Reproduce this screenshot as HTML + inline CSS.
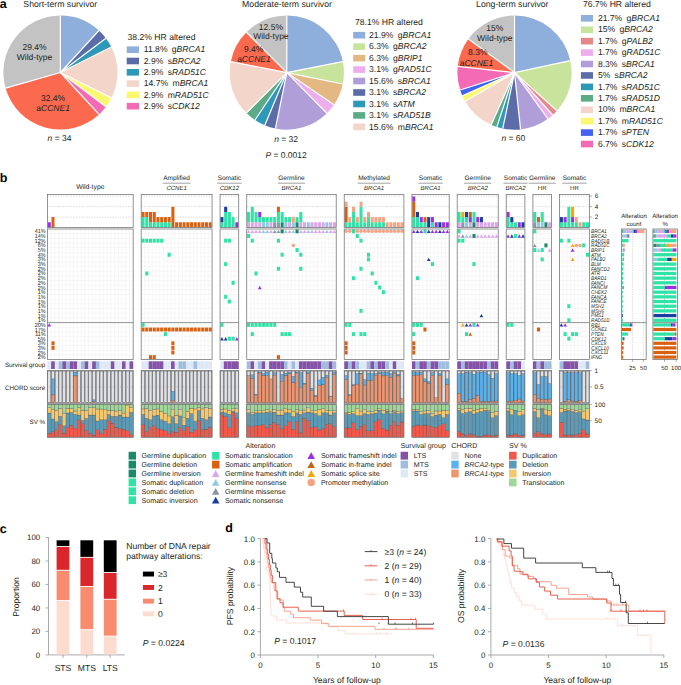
<!DOCTYPE html>
<html><head><meta charset="utf-8"><style>
html,body{margin:0;padding:0;background:#fff;}
svg{display:block;}
text{font-family:"Liberation Sans", sans-serif;text-rendering:geometricPrecision;}
</style></head><body>
<svg width="681" height="685" viewBox="0 0 681 685">
<rect width="681" height="685" fill="#fff"/>
<text x="-0.30" y="8.00" font-size="12.5" text-anchor="start" fill="#000" font-weight="bold" >a</text>
<path d="M60.40,72.50 L60.40,15.50 A57.0,57.0 0 0 1 98.93,30.49 Z" fill="#8eafdc"/>
<path d="M60.40,72.50 L98.93,30.49 A57.0,57.0 0 0 1 105.91,38.18 Z" fill="#5c6ca8"/>
<path d="M60.40,72.50 L105.91,38.18 A57.0,57.0 0 0 1 111.38,47.00 Z" fill="#2e98b8"/>
<path d="M60.40,72.50 L111.38,47.00 A57.0,57.0 0 0 1 111.46,97.84 Z" fill="#f4d5ca"/>
<path d="M60.40,72.50 L111.46,97.84 A57.0,57.0 0 0 1 106.01,106.68 Z" fill="#fbf870"/>
<path d="M60.40,72.50 L106.01,106.68 A57.0,57.0 0 0 1 99.06,114.39 Z" fill="#f56ab4"/>
<path d="M60.40,72.50 L99.06,114.39 A57.0,57.0 0 0 1 5.59,88.16 Z" fill="#fb6a4e"/>
<path d="M60.40,72.50 L5.59,88.16 A57.0,57.0 0 0 1 60.40,15.50 Z" fill="#c3c3c3"/>
<line x1="60.40" y1="72.50" x2="60.40" y2="15.50" stroke="#fff" stroke-width="1.2"/>
<line x1="60.40" y1="72.50" x2="98.93" y2="30.49" stroke="#fff" stroke-width="1.2"/>
<line x1="60.40" y1="72.50" x2="105.91" y2="38.18" stroke="#fff" stroke-width="1.2"/>
<line x1="60.40" y1="72.50" x2="111.38" y2="47.00" stroke="#fff" stroke-width="1.2"/>
<line x1="60.40" y1="72.50" x2="111.46" y2="97.84" stroke="#fff" stroke-width="1.2"/>
<line x1="60.40" y1="72.50" x2="106.01" y2="106.68" stroke="#fff" stroke-width="1.2"/>
<line x1="60.40" y1="72.50" x2="99.06" y2="114.39" stroke="#fff" stroke-width="1.2"/>
<line x1="60.40" y1="72.50" x2="5.59" y2="88.16" stroke="#fff" stroke-width="1.2"/>
<text x="60.30" y="7.00" font-size="8.7" text-anchor="middle" fill="#231f20" >Short-term survivor</text>
<text x="34.50" y="50.40" font-size="8.5" text-anchor="middle" fill="#231f20" >29.4%</text>
<text x="34.50" y="60.20" font-size="8.5" text-anchor="middle" fill="#231f20" >Wild-type</text>
<text x="53.10" y="100.70" font-size="8.5" text-anchor="middle" fill="#231f20" >32.4%</text>
<text x="53.10" y="110.60" font-size="8.5" text-anchor="middle" fill="#231f20" >a<tspan font-style="italic">CCNE1</tspan></text>
<text x="59.50" y="141.20" font-size="8.5" text-anchor="middle" fill="#231f20" ><tspan font-style="italic">n</tspan> = 34</text>
<text x="127.60" y="40.00" font-size="8.6" text-anchor="start" fill="#231f20" >38.2% HR altered</text>
<rect x="126.7" y="46.40" width="12.3" height="6.6" fill="#8eafdc"/>
<text x="143.80" y="52.30" font-size="8.6" text-anchor="start" fill="#231f20" >11.8% g<tspan font-style="italic">BRCA1</tspan></text>
<rect x="126.7" y="57.70" width="12.3" height="6.6" fill="#5c6ca8"/>
<text x="143.80" y="63.60" font-size="8.6" text-anchor="start" fill="#231f20" >2.9% s<tspan font-style="italic">BRCA2</tspan></text>
<rect x="126.7" y="69.00" width="12.3" height="6.6" fill="#2e98b8"/>
<text x="143.80" y="74.90" font-size="8.6" text-anchor="start" fill="#231f20" >2.9% s<tspan font-style="italic">RAD51C</tspan></text>
<rect x="126.7" y="80.30" width="12.3" height="6.6" fill="#f4d5ca"/>
<text x="143.80" y="86.20" font-size="8.6" text-anchor="start" fill="#231f20" >14.7% m<tspan font-style="italic">BRCA1</tspan></text>
<rect x="126.7" y="91.60" width="12.3" height="6.6" fill="#fbf870"/>
<text x="143.80" y="97.50" font-size="8.6" text-anchor="start" fill="#231f20" >2.9% m<tspan font-style="italic">RAD51C</tspan></text>
<rect x="126.7" y="102.90" width="12.3" height="6.6" fill="#f56ab4"/>
<text x="143.80" y="108.80" font-size="8.6" text-anchor="start" fill="#231f20" >2.9% s<tspan font-style="italic">CDK12</tspan></text>
<path d="M286.80,72.60 L286.80,15.50 A57.1,57.1 0 0 1 342.82,61.55 Z" fill="#8eafdc"/>
<path d="M286.80,72.60 L342.82,61.55 A57.1,57.1 0 0 1 342.75,84.00 Z" fill="#c8e39b"/>
<path d="M286.80,72.60 L342.75,84.00 A57.1,57.1 0 0 1 334.03,104.69 Z" fill="#e3b882"/>
<path d="M286.80,72.60 L334.03,104.69 A57.1,57.1 0 0 1 326.92,113.23 Z" fill="#eeaeee"/>
<path d="M286.80,72.60 L326.92,113.23 A57.1,57.1 0 0 1 275.40,128.55 Z" fill="#b09ed9"/>
<path d="M286.80,72.60 L275.40,128.55 A57.1,57.1 0 0 1 264.78,125.28 Z" fill="#5c6ca8"/>
<path d="M286.80,72.60 L264.78,125.28 A57.1,57.1 0 0 1 255.00,120.03 Z" fill="#2e98b8"/>
<path d="M286.80,72.60 L255.00,120.03 A57.1,57.1 0 0 1 246.42,112.98 Z" fill="#5aab86"/>
<path d="M286.80,72.60 L246.42,112.98 A57.1,57.1 0 0 1 230.78,61.55 Z" fill="#f4d5ca"/>
<path d="M286.80,72.60 L230.78,61.55 A57.1,57.1 0 0 1 246.42,32.22 Z" fill="#fb6a4e"/>
<path d="M286.80,72.60 L246.42,32.22 A57.1,57.1 0 0 1 286.80,15.50 Z" fill="#c3c3c3"/>
<line x1="286.80" y1="72.60" x2="286.80" y2="15.50" stroke="#fff" stroke-width="1.2"/>
<line x1="286.80" y1="72.60" x2="342.82" y2="61.55" stroke="#fff" stroke-width="1.2"/>
<line x1="286.80" y1="72.60" x2="342.75" y2="84.00" stroke="#fff" stroke-width="1.2"/>
<line x1="286.80" y1="72.60" x2="334.03" y2="104.69" stroke="#fff" stroke-width="1.2"/>
<line x1="286.80" y1="72.60" x2="326.92" y2="113.23" stroke="#fff" stroke-width="1.2"/>
<line x1="286.80" y1="72.60" x2="275.40" y2="128.55" stroke="#fff" stroke-width="1.2"/>
<line x1="286.80" y1="72.60" x2="264.78" y2="125.28" stroke="#fff" stroke-width="1.2"/>
<line x1="286.80" y1="72.60" x2="255.00" y2="120.03" stroke="#fff" stroke-width="1.2"/>
<line x1="286.80" y1="72.60" x2="246.42" y2="112.98" stroke="#fff" stroke-width="1.2"/>
<line x1="286.80" y1="72.60" x2="230.78" y2="61.55" stroke="#fff" stroke-width="1.2"/>
<line x1="286.80" y1="72.60" x2="246.42" y2="32.22" stroke="#fff" stroke-width="1.2"/>
<text x="287.00" y="6.60" font-size="8.7" text-anchor="middle" fill="#231f20" >Moderate-term survivor</text>
<text x="270.90" y="29.60" font-size="8.5" text-anchor="middle" fill="#231f20" >12.5%</text>
<text x="270.90" y="39.40" font-size="8.5" text-anchor="middle" fill="#231f20" >Wild-type</text>
<text x="253.60" y="52.10" font-size="8.5" text-anchor="middle" fill="#231f20" >9.4%</text>
<text x="253.90" y="62.40" font-size="8.5" text-anchor="middle" fill="#231f20" >a<tspan font-style="italic">CCNE1</tspan></text>
<text x="286.10" y="141.70" font-size="8.5" text-anchor="middle" fill="#231f20" ><tspan font-style="italic">n</tspan> = 32</text>
<text x="286.10" y="157.60" font-size="8.5" text-anchor="middle" fill="#231f20" ><tspan font-style="italic">P</tspan> = 0.0012</text>
<text x="355.00" y="25.40" font-size="8.6" text-anchor="start" fill="#231f20" >78.1% HR altered</text>
<rect x="353.2" y="31.90" width="12.0" height="6.6" fill="#8eafdc"/>
<text x="369.10" y="37.90" font-size="8.6" text-anchor="start" fill="#231f20" >21.9% g<tspan font-style="italic">BRCA1</tspan></text>
<rect x="353.2" y="43.36" width="12.0" height="6.6" fill="#c8e39b"/>
<text x="369.10" y="49.36" font-size="8.6" text-anchor="start" fill="#231f20" >6.3% g<tspan font-style="italic">BRCA2</tspan></text>
<rect x="353.2" y="54.82" width="12.0" height="6.6" fill="#e3b882"/>
<text x="369.10" y="60.82" font-size="8.6" text-anchor="start" fill="#231f20" >6.3% g<tspan font-style="italic">BRIP1</tspan></text>
<rect x="353.2" y="66.28" width="12.0" height="6.6" fill="#eeaeee"/>
<text x="369.10" y="72.28" font-size="8.6" text-anchor="start" fill="#231f20" >3.1% g<tspan font-style="italic">RAD51C</tspan></text>
<rect x="353.2" y="77.74" width="12.0" height="6.6" fill="#b09ed9"/>
<text x="369.10" y="83.74" font-size="8.6" text-anchor="start" fill="#231f20" >15.6% s<tspan font-style="italic">BRCA1</tspan></text>
<rect x="353.2" y="89.20" width="12.0" height="6.6" fill="#5c6ca8"/>
<text x="369.10" y="95.20" font-size="8.6" text-anchor="start" fill="#231f20" >3.1% s<tspan font-style="italic">BRCA2</tspan></text>
<rect x="353.2" y="100.66" width="12.0" height="6.6" fill="#2e98b8"/>
<text x="369.10" y="106.66" font-size="8.6" text-anchor="start" fill="#231f20" >3.1% s<tspan font-style="italic">ATM</tspan></text>
<rect x="353.2" y="112.12" width="12.0" height="6.6" fill="#5aab86"/>
<text x="369.10" y="118.12" font-size="8.6" text-anchor="start" fill="#231f20" >3.1% s<tspan font-style="italic">RAD51B</tspan></text>
<rect x="353.2" y="123.58" width="12.0" height="6.6" fill="#f4d5ca"/>
<text x="369.10" y="129.58" font-size="8.6" text-anchor="start" fill="#231f20" >15.6% m<tspan font-style="italic">BRCA1</tspan></text>
<path d="M514.50,72.60 L514.50,15.50 A57.1,57.1 0 0 1 570.34,60.69 Z" fill="#8eafdc"/>
<path d="M514.50,72.60 L570.34,60.69 A57.1,57.1 0 0 1 557.03,110.70 Z" fill="#c8e39b"/>
<path d="M514.50,72.60 L557.03,110.70 A57.1,57.1 0 0 1 552.73,115.01 Z" fill="#e6888a"/>
<path d="M514.50,72.60 L552.73,115.01 A57.1,57.1 0 0 1 548.00,118.84 Z" fill="#eeaeee"/>
<path d="M514.50,72.60 L548.00,118.84 A57.1,57.1 0 0 1 520.58,129.38 Z" fill="#b09ed9"/>
<path d="M514.50,72.60 L520.58,129.38 A57.1,57.1 0 0 1 502.77,128.48 Z" fill="#5c6ca8"/>
<path d="M514.50,72.60 L502.77,128.48 A57.1,57.1 0 0 1 496.89,126.92 Z" fill="#2e98b8"/>
<path d="M514.50,72.60 L496.89,126.92 A57.1,57.1 0 0 1 491.21,124.73 Z" fill="#5aab86"/>
<path d="M514.50,72.60 L491.21,124.73 A57.1,57.1 0 0 1 465.05,101.15 Z" fill="#f4d5ca"/>
<path d="M514.50,72.60 L465.05,101.15 A57.1,57.1 0 0 1 462.29,95.73 Z" fill="#fbf870"/>
<path d="M514.50,72.60 L462.29,95.73 A57.1,57.1 0 0 1 460.13,90.04 Z" fill="#4463f0"/>
<path d="M514.50,72.60 L460.13,90.04 A57.1,57.1 0 0 1 457.74,66.35 Z" fill="#f56ab4"/>
<path d="M514.50,72.60 L457.74,66.35 A57.1,57.1 0 0 1 468.37,38.95 Z" fill="#fb6a4e"/>
<path d="M514.50,72.60 L468.37,38.95 A57.1,57.1 0 0 1 514.50,15.50 Z" fill="#c3c3c3"/>
<line x1="514.50" y1="72.60" x2="514.50" y2="15.50" stroke="#fff" stroke-width="1.2"/>
<line x1="514.50" y1="72.60" x2="570.34" y2="60.69" stroke="#fff" stroke-width="1.2"/>
<line x1="514.50" y1="72.60" x2="557.03" y2="110.70" stroke="#fff" stroke-width="1.2"/>
<line x1="514.50" y1="72.60" x2="552.73" y2="115.01" stroke="#fff" stroke-width="1.2"/>
<line x1="514.50" y1="72.60" x2="548.00" y2="118.84" stroke="#fff" stroke-width="1.2"/>
<line x1="514.50" y1="72.60" x2="520.58" y2="129.38" stroke="#fff" stroke-width="1.2"/>
<line x1="514.50" y1="72.60" x2="502.77" y2="128.48" stroke="#fff" stroke-width="1.2"/>
<line x1="514.50" y1="72.60" x2="496.89" y2="126.92" stroke="#fff" stroke-width="1.2"/>
<line x1="514.50" y1="72.60" x2="491.21" y2="124.73" stroke="#fff" stroke-width="1.2"/>
<line x1="514.50" y1="72.60" x2="465.05" y2="101.15" stroke="#fff" stroke-width="1.2"/>
<line x1="514.50" y1="72.60" x2="462.29" y2="95.73" stroke="#fff" stroke-width="1.2"/>
<line x1="514.50" y1="72.60" x2="460.13" y2="90.04" stroke="#fff" stroke-width="1.2"/>
<line x1="514.50" y1="72.60" x2="457.74" y2="66.35" stroke="#fff" stroke-width="1.2"/>
<line x1="514.50" y1="72.60" x2="468.37" y2="38.95" stroke="#fff" stroke-width="1.2"/>
<text x="512.30" y="6.60" font-size="8.7" text-anchor="middle" fill="#231f20" >Long-term survivor</text>
<text x="494.70" y="30.70" font-size="8.5" text-anchor="middle" fill="#231f20" >15%</text>
<text x="494.80" y="41.20" font-size="8.5" text-anchor="middle" fill="#231f20" >Wild-type</text>
<text x="477.80" y="54.80" font-size="8.5" text-anchor="middle" fill="#231f20" >8.3%</text>
<text x="476.50" y="65.70" font-size="8.5" text-anchor="middle" fill="#231f20" >a<tspan font-style="italic">CCNE1</tspan></text>
<text x="513.40" y="141.30" font-size="8.5" text-anchor="middle" fill="#231f20" ><tspan font-style="italic">n</tspan> = 60</text>
<text x="582.90" y="7.20" font-size="8.6" text-anchor="start" fill="#231f20" >76.7% HR altered</text>
<rect x="580.9" y="15.00" width="12.1" height="6.6" fill="#8eafdc"/>
<text x="597.90" y="21.00" font-size="8.6" text-anchor="start" fill="#231f20" >21.7% g<tspan font-style="italic">BRCA1</tspan></text>
<rect x="580.9" y="26.43" width="12.1" height="6.6" fill="#c8e39b"/>
<text x="597.90" y="32.43" font-size="8.6" text-anchor="start" fill="#231f20" >15% g<tspan font-style="italic">BRCA2</tspan></text>
<rect x="580.9" y="37.86" width="12.1" height="6.6" fill="#e6888a"/>
<text x="597.90" y="43.86" font-size="8.6" text-anchor="start" fill="#231f20" >1.7% g<tspan font-style="italic">PALB2</tspan></text>
<rect x="580.9" y="49.29" width="12.1" height="6.6" fill="#eeaeee"/>
<text x="597.90" y="55.29" font-size="8.6" text-anchor="start" fill="#231f20" >1.7% g<tspan font-style="italic">RAD51C</tspan></text>
<rect x="580.9" y="60.72" width="12.1" height="6.6" fill="#b09ed9"/>
<text x="597.90" y="66.72" font-size="8.6" text-anchor="start" fill="#231f20" >8.3% s<tspan font-style="italic">BRCA1</tspan></text>
<rect x="580.9" y="72.15" width="12.1" height="6.6" fill="#5c6ca8"/>
<text x="597.90" y="78.15" font-size="8.6" text-anchor="start" fill="#231f20" >5% s<tspan font-style="italic">BRCA2</tspan></text>
<rect x="580.9" y="83.58" width="12.1" height="6.6" fill="#2e98b8"/>
<text x="597.90" y="89.58" font-size="8.6" text-anchor="start" fill="#231f20" >1.7% s<tspan font-style="italic">RAD51C</tspan></text>
<rect x="580.9" y="95.01" width="12.1" height="6.6" fill="#5aab86"/>
<text x="597.90" y="101.01" font-size="8.6" text-anchor="start" fill="#231f20" >1.7% s<tspan font-style="italic">RAD51D</tspan></text>
<rect x="580.9" y="106.44" width="12.1" height="6.6" fill="#f4d5ca"/>
<text x="597.90" y="112.44" font-size="8.6" text-anchor="start" fill="#231f20" >10% m<tspan font-style="italic">BRCA1</tspan></text>
<rect x="580.9" y="117.87" width="12.1" height="6.6" fill="#fbf870"/>
<text x="597.90" y="123.87" font-size="8.6" text-anchor="start" fill="#231f20" >1.7% m<tspan font-style="italic">RAD51C</tspan></text>
<rect x="580.9" y="129.30" width="12.1" height="6.6" fill="#4463f0"/>
<text x="597.90" y="135.30" font-size="8.6" text-anchor="start" fill="#231f20" >1.7% s<tspan font-style="italic">PTEN</tspan></text>
<rect x="580.9" y="140.73" width="12.1" height="6.6" fill="#f56ab4"/>
<text x="597.90" y="146.73" font-size="8.6" text-anchor="start" fill="#231f20" >6.7% s<tspan font-style="italic">CDK12</tspan></text>
<text x="-0.30" y="181.60" font-size="12.5" text-anchor="start" fill="#000" font-weight="bold" >b</text>
<text x="90.30" y="189.20" font-size="6.8" text-anchor="middle" fill="#231f20" >Wild-type</text>
<line x1="47.40" x2="133.19" y1="196.1" y2="196.1" stroke="#b3b3b3" stroke-width="0.5" stroke-dasharray="1.3,1.3"/>
<line x1="47.40" x2="133.19" y1="206.6" y2="206.6" stroke="#b3b3b3" stroke-width="0.5" stroke-dasharray="1.3,1.3"/>
<line x1="47.40" x2="133.19" y1="217.1" y2="217.1" stroke="#b3b3b3" stroke-width="0.5" stroke-dasharray="1.3,1.3"/>
<rect x="47.75" y="222.25" width="3.03" height="5.15" fill="#9a2fe6"/>
<rect x="51.48" y="217.10" width="3.03" height="10.30" fill="#d9600e"/>
<rect x="47.40" y="194.5" width="85.79" height="32.90" fill="none" stroke="#78797b" stroke-width="0.8"/>
<path d="M51.13,229.0V359.4M54.86,229.0V359.4M58.59,229.0V359.4M62.32,229.0V359.4M66.05,229.0V359.4M69.78,229.0V359.4M73.51,229.0V359.4M77.24,229.0V359.4M80.97,229.0V359.4M84.70,229.0V359.4M88.43,229.0V359.4M92.16,229.0V359.4M95.89,229.0V359.4M99.62,229.0V359.4M103.35,229.0V359.4M107.08,229.0V359.4M110.81,229.0V359.4M114.54,229.0V359.4M118.27,229.0V359.4M122.00,229.0V359.4M125.73,229.0V359.4M129.46,229.0V359.4M47.40,233.68H133.19M47.40,238.36H133.19M47.40,243.04H133.19M47.40,247.72H133.19M47.40,252.40H133.19M47.40,257.08H133.19M47.40,261.76H133.19M47.40,266.44H133.19M47.40,271.12H133.19M47.40,275.80H133.19M47.40,280.48H133.19M47.40,285.16H133.19M47.40,289.84H133.19M47.40,294.52H133.19M47.40,299.20H133.19M47.40,303.88H133.19M47.40,308.56H133.19M47.40,313.24H133.19M47.40,317.92H133.19M47.40,327.20H133.19M47.40,331.80H133.19M47.40,336.40H133.19M47.40,341.00H133.19M47.40,345.60H133.19M47.40,350.20H133.19M47.40,354.80H133.19" stroke="#efefef" stroke-width="0.5" fill="none"/>
<path d="M47.41,326.60 L51.12,326.60 L49.27,323.20 Z" fill="#9a2fe6"/>
<rect x="51.45" y="341.35" width="3.1" height="3.9" fill="#d9600e"/>
<rect x="51.45" y="345.95" width="3.1" height="3.9" fill="#d9600e"/>
<rect x="47.40" y="229.0" width="85.79" height="130.40" fill="none" stroke="#78797b" stroke-width="0.8"/>
<line x1="47.40" x2="133.19" y1="322.6" y2="322.6" stroke="#78797b" stroke-width="0.8"/>
<rect x="47.40" y="361.3" width="3.78" height="7.70" fill="#dee9f5"/>
<rect x="51.13" y="361.3" width="3.78" height="7.70" fill="#8552a8"/>
<rect x="54.86" y="361.3" width="3.78" height="7.70" fill="#dee9f5"/>
<rect x="58.59" y="361.3" width="3.78" height="7.70" fill="#a0bddf"/>
<rect x="62.32" y="361.3" width="3.78" height="7.70" fill="#8552a8"/>
<rect x="66.05" y="361.3" width="3.78" height="7.70" fill="#a0bddf"/>
<rect x="69.78" y="361.3" width="3.78" height="7.70" fill="#8552a8"/>
<rect x="73.51" y="361.3" width="3.78" height="7.70" fill="#8552a8"/>
<rect x="77.24" y="361.3" width="3.78" height="7.70" fill="#dee9f5"/>
<rect x="80.97" y="361.3" width="3.78" height="7.70" fill="#a0bddf"/>
<rect x="84.70" y="361.3" width="3.78" height="7.70" fill="#8552a8"/>
<rect x="88.43" y="361.3" width="3.78" height="7.70" fill="#dee9f5"/>
<rect x="92.16" y="361.3" width="3.78" height="7.70" fill="#8552a8"/>
<rect x="95.89" y="361.3" width="3.78" height="7.70" fill="#a0bddf"/>
<rect x="99.62" y="361.3" width="3.78" height="7.70" fill="#dee9f5"/>
<rect x="103.35" y="361.3" width="3.78" height="7.70" fill="#dee9f5"/>
<rect x="107.08" y="361.3" width="3.78" height="7.70" fill="#dee9f5"/>
<rect x="110.81" y="361.3" width="3.78" height="7.70" fill="#8552a8"/>
<rect x="114.54" y="361.3" width="3.78" height="7.70" fill="#dee9f5"/>
<rect x="118.27" y="361.3" width="3.78" height="7.70" fill="#dee9f5"/>
<rect x="122.00" y="361.3" width="3.78" height="7.70" fill="#8552a8"/>
<rect x="125.73" y="361.3" width="3.78" height="7.70" fill="#dee9f5"/>
<rect x="129.46" y="361.3" width="3.78" height="7.70" fill="#8552a8"/>
<rect x="47.40" y="370.4" width="85.79" height="32.90" fill="#ffffff"/>
<rect x="47.70" y="371.00" width="3.13" height="31.70" fill="#e1e2e6" stroke="#4d4d4f" stroke-width="0.55"/>
<rect x="51.43" y="371.00" width="3.13" height="31.70" fill="#e1e2e6" stroke="#4d4d4f" stroke-width="0.55"/>
<rect x="51.43" y="378.92" width="3.13" height="16.01" fill="#57b2ee" stroke="#58595b" stroke-width="0.35"/>
<rect x="51.43" y="394.93" width="3.13" height="7.77" fill="#f0946d" stroke="#58595b" stroke-width="0.35"/>
<rect x="55.16" y="371.00" width="3.13" height="31.70" fill="#e1e2e6" stroke="#4d4d4f" stroke-width="0.55"/>
<rect x="58.89" y="371.00" width="3.13" height="31.70" fill="#e1e2e6" stroke="#4d4d4f" stroke-width="0.55"/>
<rect x="62.62" y="371.00" width="3.13" height="31.70" fill="#e1e2e6" stroke="#4d4d4f" stroke-width="0.55"/>
<rect x="66.35" y="371.00" width="3.13" height="31.70" fill="#e1e2e6" stroke="#4d4d4f" stroke-width="0.55"/>
<rect x="70.08" y="371.00" width="3.13" height="31.70" fill="#e1e2e6" stroke="#4d4d4f" stroke-width="0.55"/>
<rect x="73.81" y="371.00" width="3.13" height="31.70" fill="#e1e2e6" stroke="#4d4d4f" stroke-width="0.55"/>
<rect x="73.81" y="372.27" width="3.13" height="3.65" fill="#57b2ee" stroke="#58595b" stroke-width="0.35"/>
<rect x="73.81" y="375.91" width="3.13" height="26.79" fill="#f0946d" stroke="#58595b" stroke-width="0.35"/>
<rect x="77.54" y="371.00" width="3.13" height="31.70" fill="#e1e2e6" stroke="#4d4d4f" stroke-width="0.55"/>
<rect x="81.27" y="371.00" width="3.13" height="31.70" fill="#e1e2e6" stroke="#4d4d4f" stroke-width="0.55"/>
<rect x="85.00" y="371.00" width="3.13" height="31.70" fill="#e1e2e6" stroke="#4d4d4f" stroke-width="0.55"/>
<rect x="88.73" y="371.00" width="3.13" height="31.70" fill="#e1e2e6" stroke="#4d4d4f" stroke-width="0.55"/>
<rect x="92.46" y="371.00" width="3.13" height="31.70" fill="#e1e2e6" stroke="#4d4d4f" stroke-width="0.55"/>
<rect x="92.46" y="399.85" width="3.13" height="1.59" fill="#57b2ee" stroke="#58595b" stroke-width="0.35"/>
<rect x="92.46" y="401.43" width="3.13" height="1.27" fill="#f0946d" stroke="#58595b" stroke-width="0.35"/>
<rect x="96.19" y="371.00" width="3.13" height="31.70" fill="#e1e2e6" stroke="#4d4d4f" stroke-width="0.55"/>
<rect x="99.92" y="371.00" width="3.13" height="31.70" fill="#e1e2e6" stroke="#4d4d4f" stroke-width="0.55"/>
<rect x="103.65" y="371.00" width="3.13" height="31.70" fill="#e1e2e6" stroke="#4d4d4f" stroke-width="0.55"/>
<rect x="107.38" y="371.00" width="3.13" height="31.70" fill="#e1e2e6" stroke="#4d4d4f" stroke-width="0.55"/>
<rect x="111.11" y="371.00" width="3.13" height="31.70" fill="#e1e2e6" stroke="#4d4d4f" stroke-width="0.55"/>
<rect x="114.84" y="371.00" width="3.13" height="31.70" fill="#e1e2e6" stroke="#4d4d4f" stroke-width="0.55"/>
<rect x="118.57" y="371.00" width="3.13" height="31.70" fill="#e1e2e6" stroke="#4d4d4f" stroke-width="0.55"/>
<rect x="122.30" y="371.00" width="3.13" height="31.70" fill="#e1e2e6" stroke="#4d4d4f" stroke-width="0.55"/>
<rect x="126.03" y="371.00" width="3.13" height="31.70" fill="#e1e2e6" stroke="#4d4d4f" stroke-width="0.55"/>
<rect x="129.76" y="371.00" width="3.13" height="31.70" fill="#e1e2e6" stroke="#4d4d4f" stroke-width="0.55"/>
<line x1="47.40" x2="133.19" y1="386.85" y2="386.85" stroke="#999" stroke-width="0.4" stroke-dasharray="1,1.2"/>
<rect x="47.40" y="370.4" width="85.79" height="32.90" fill="none" stroke="#78797b" stroke-width="0.8"/>
<rect x="47.40" y="433.17" width="3.73" height="4.03" fill="#f2584a" stroke="#4a4a4a" stroke-width="0.3"/>
<rect x="47.40" y="413.03" width="3.73" height="20.14" fill="#5b9bb8" stroke="#4a4a4a" stroke-width="0.3"/>
<rect x="47.40" y="407.66" width="3.73" height="5.37" fill="#f5c86f" stroke="#4a4a4a" stroke-width="0.3"/>
<rect x="47.40" y="404.30" width="3.73" height="3.36" fill="#9fd79b" stroke="#4a4a4a" stroke-width="0.3"/>
<rect x="51.13" y="431.83" width="3.73" height="5.37" fill="#f2584a" stroke="#4a4a4a" stroke-width="0.3"/>
<rect x="51.13" y="419.07" width="3.73" height="12.76" fill="#5b9bb8" stroke="#4a4a4a" stroke-width="0.3"/>
<rect x="51.13" y="409.67" width="3.73" height="9.40" fill="#f5c86f" stroke="#4a4a4a" stroke-width="0.3"/>
<rect x="51.13" y="404.30" width="3.73" height="5.37" fill="#9fd79b" stroke="#4a4a4a" stroke-width="0.3"/>
<rect x="54.86" y="429.81" width="3.73" height="7.39" fill="#f2584a" stroke="#4a4a4a" stroke-width="0.3"/>
<rect x="54.86" y="421.76" width="3.73" height="8.06" fill="#5b9bb8" stroke="#4a4a4a" stroke-width="0.3"/>
<rect x="54.86" y="410.34" width="3.73" height="11.41" fill="#f5c86f" stroke="#4a4a4a" stroke-width="0.3"/>
<rect x="54.86" y="404.30" width="3.73" height="6.04" fill="#9fd79b" stroke="#4a4a4a" stroke-width="0.3"/>
<rect x="58.59" y="424.44" width="3.73" height="12.76" fill="#f2584a" stroke="#4a4a4a" stroke-width="0.3"/>
<rect x="58.59" y="416.39" width="3.73" height="8.06" fill="#5b9bb8" stroke="#4a4a4a" stroke-width="0.3"/>
<rect x="58.59" y="408.33" width="3.73" height="8.06" fill="#f5c86f" stroke="#4a4a4a" stroke-width="0.3"/>
<rect x="58.59" y="404.30" width="3.73" height="4.03" fill="#9fd79b" stroke="#4a4a4a" stroke-width="0.3"/>
<rect x="62.32" y="433.17" width="3.73" height="4.03" fill="#f2584a" stroke="#4a4a4a" stroke-width="0.3"/>
<rect x="62.32" y="425.79" width="3.73" height="7.39" fill="#5b9bb8" stroke="#4a4a4a" stroke-width="0.3"/>
<rect x="62.32" y="413.70" width="3.73" height="12.09" fill="#f5c86f" stroke="#4a4a4a" stroke-width="0.3"/>
<rect x="62.32" y="404.30" width="3.73" height="9.40" fill="#9fd79b" stroke="#4a4a4a" stroke-width="0.3"/>
<rect x="66.05" y="427.80" width="3.73" height="9.40" fill="#f2584a" stroke="#4a4a4a" stroke-width="0.3"/>
<rect x="66.05" y="413.03" width="3.73" height="14.77" fill="#5b9bb8" stroke="#4a4a4a" stroke-width="0.3"/>
<rect x="66.05" y="408.33" width="3.73" height="4.70" fill="#f5c86f" stroke="#4a4a4a" stroke-width="0.3"/>
<rect x="66.05" y="404.30" width="3.73" height="4.03" fill="#9fd79b" stroke="#4a4a4a" stroke-width="0.3"/>
<rect x="69.78" y="425.11" width="3.73" height="12.09" fill="#f2584a" stroke="#4a4a4a" stroke-width="0.3"/>
<rect x="69.78" y="412.36" width="3.73" height="12.76" fill="#5b9bb8" stroke="#4a4a4a" stroke-width="0.3"/>
<rect x="69.78" y="408.33" width="3.73" height="4.03" fill="#f5c86f" stroke="#4a4a4a" stroke-width="0.3"/>
<rect x="69.78" y="404.30" width="3.73" height="4.03" fill="#9fd79b" stroke="#4a4a4a" stroke-width="0.3"/>
<rect x="73.51" y="428.47" width="3.73" height="8.73" fill="#f2584a" stroke="#4a4a4a" stroke-width="0.3"/>
<rect x="73.51" y="414.37" width="3.73" height="14.10" fill="#5b9bb8" stroke="#4a4a4a" stroke-width="0.3"/>
<rect x="73.51" y="411.01" width="3.73" height="3.36" fill="#f5c86f" stroke="#4a4a4a" stroke-width="0.3"/>
<rect x="73.51" y="404.30" width="3.73" height="6.71" fill="#9fd79b" stroke="#4a4a4a" stroke-width="0.3"/>
<rect x="77.24" y="419.74" width="3.73" height="17.46" fill="#f2584a" stroke="#4a4a4a" stroke-width="0.3"/>
<rect x="77.24" y="415.04" width="3.73" height="4.70" fill="#5b9bb8" stroke="#4a4a4a" stroke-width="0.3"/>
<rect x="77.24" y="407.66" width="3.73" height="7.39" fill="#f5c86f" stroke="#4a4a4a" stroke-width="0.3"/>
<rect x="77.24" y="404.30" width="3.73" height="3.36" fill="#9fd79b" stroke="#4a4a4a" stroke-width="0.3"/>
<rect x="80.97" y="423.77" width="3.73" height="13.43" fill="#f2584a" stroke="#4a4a4a" stroke-width="0.3"/>
<rect x="80.97" y="420.41" width="3.73" height="3.36" fill="#5b9bb8" stroke="#4a4a4a" stroke-width="0.3"/>
<rect x="80.97" y="410.34" width="3.73" height="10.07" fill="#f5c86f" stroke="#4a4a4a" stroke-width="0.3"/>
<rect x="80.97" y="404.30" width="3.73" height="6.04" fill="#9fd79b" stroke="#4a4a4a" stroke-width="0.3"/>
<rect x="84.70" y="430.49" width="3.73" height="6.71" fill="#f2584a" stroke="#4a4a4a" stroke-width="0.3"/>
<rect x="84.70" y="418.40" width="3.73" height="12.09" fill="#5b9bb8" stroke="#4a4a4a" stroke-width="0.3"/>
<rect x="84.70" y="410.34" width="3.73" height="8.06" fill="#f5c86f" stroke="#4a4a4a" stroke-width="0.3"/>
<rect x="84.70" y="404.30" width="3.73" height="6.04" fill="#9fd79b" stroke="#4a4a4a" stroke-width="0.3"/>
<rect x="88.43" y="433.17" width="3.73" height="4.03" fill="#f2584a" stroke="#4a4a4a" stroke-width="0.3"/>
<rect x="88.43" y="415.04" width="3.73" height="18.13" fill="#5b9bb8" stroke="#4a4a4a" stroke-width="0.3"/>
<rect x="88.43" y="407.66" width="3.73" height="7.39" fill="#f5c86f" stroke="#4a4a4a" stroke-width="0.3"/>
<rect x="88.43" y="404.30" width="3.73" height="3.36" fill="#9fd79b" stroke="#4a4a4a" stroke-width="0.3"/>
<rect x="92.16" y="435.19" width="3.73" height="2.01" fill="#f2584a" stroke="#4a4a4a" stroke-width="0.3"/>
<rect x="92.16" y="415.04" width="3.73" height="20.14" fill="#5b9bb8" stroke="#4a4a4a" stroke-width="0.3"/>
<rect x="92.16" y="407.66" width="3.73" height="7.39" fill="#f5c86f" stroke="#4a4a4a" stroke-width="0.3"/>
<rect x="92.16" y="404.30" width="3.73" height="3.36" fill="#9fd79b" stroke="#4a4a4a" stroke-width="0.3"/>
<rect x="95.89" y="429.81" width="3.73" height="7.39" fill="#f2584a" stroke="#4a4a4a" stroke-width="0.3"/>
<rect x="95.89" y="421.09" width="3.73" height="8.73" fill="#5b9bb8" stroke="#4a4a4a" stroke-width="0.3"/>
<rect x="95.89" y="409.00" width="3.73" height="12.09" fill="#f5c86f" stroke="#4a4a4a" stroke-width="0.3"/>
<rect x="95.89" y="404.30" width="3.73" height="4.70" fill="#9fd79b" stroke="#4a4a4a" stroke-width="0.3"/>
<rect x="99.62" y="433.84" width="3.73" height="3.36" fill="#f2584a" stroke="#4a4a4a" stroke-width="0.3"/>
<rect x="99.62" y="419.74" width="3.73" height="14.10" fill="#5b9bb8" stroke="#4a4a4a" stroke-width="0.3"/>
<rect x="99.62" y="409.00" width="3.73" height="10.74" fill="#f5c86f" stroke="#4a4a4a" stroke-width="0.3"/>
<rect x="99.62" y="404.30" width="3.73" height="4.70" fill="#9fd79b" stroke="#4a4a4a" stroke-width="0.3"/>
<rect x="103.35" y="429.14" width="3.73" height="8.06" fill="#f2584a" stroke="#4a4a4a" stroke-width="0.3"/>
<rect x="103.35" y="419.74" width="3.73" height="9.40" fill="#5b9bb8" stroke="#4a4a4a" stroke-width="0.3"/>
<rect x="103.35" y="409.67" width="3.73" height="10.07" fill="#f5c86f" stroke="#4a4a4a" stroke-width="0.3"/>
<rect x="103.35" y="404.30" width="3.73" height="5.37" fill="#9fd79b" stroke="#4a4a4a" stroke-width="0.3"/>
<rect x="107.08" y="420.41" width="3.73" height="16.79" fill="#f2584a" stroke="#4a4a4a" stroke-width="0.3"/>
<rect x="107.08" y="414.37" width="3.73" height="6.04" fill="#5b9bb8" stroke="#4a4a4a" stroke-width="0.3"/>
<rect x="107.08" y="410.34" width="3.73" height="4.03" fill="#f5c86f" stroke="#4a4a4a" stroke-width="0.3"/>
<rect x="107.08" y="404.30" width="3.73" height="6.04" fill="#9fd79b" stroke="#4a4a4a" stroke-width="0.3"/>
<rect x="110.81" y="423.10" width="3.73" height="14.10" fill="#f2584a" stroke="#4a4a4a" stroke-width="0.3"/>
<rect x="110.81" y="416.39" width="3.73" height="6.71" fill="#5b9bb8" stroke="#4a4a4a" stroke-width="0.3"/>
<rect x="110.81" y="410.34" width="3.73" height="6.04" fill="#f5c86f" stroke="#4a4a4a" stroke-width="0.3"/>
<rect x="110.81" y="404.30" width="3.73" height="6.04" fill="#9fd79b" stroke="#4a4a4a" stroke-width="0.3"/>
<rect x="114.54" y="427.13" width="3.73" height="10.07" fill="#f2584a" stroke="#4a4a4a" stroke-width="0.3"/>
<rect x="114.54" y="416.39" width="3.73" height="10.74" fill="#5b9bb8" stroke="#4a4a4a" stroke-width="0.3"/>
<rect x="114.54" y="411.01" width="3.73" height="5.37" fill="#f5c86f" stroke="#4a4a4a" stroke-width="0.3"/>
<rect x="114.54" y="404.30" width="3.73" height="6.71" fill="#9fd79b" stroke="#4a4a4a" stroke-width="0.3"/>
<rect x="118.27" y="428.47" width="3.73" height="8.73" fill="#f2584a" stroke="#4a4a4a" stroke-width="0.3"/>
<rect x="118.27" y="415.04" width="3.73" height="13.43" fill="#5b9bb8" stroke="#4a4a4a" stroke-width="0.3"/>
<rect x="118.27" y="410.34" width="3.73" height="4.70" fill="#f5c86f" stroke="#4a4a4a" stroke-width="0.3"/>
<rect x="118.27" y="404.30" width="3.73" height="6.04" fill="#9fd79b" stroke="#4a4a4a" stroke-width="0.3"/>
<rect x="122.00" y="429.14" width="3.73" height="8.06" fill="#f2584a" stroke="#4a4a4a" stroke-width="0.3"/>
<rect x="122.00" y="417.06" width="3.73" height="12.09" fill="#5b9bb8" stroke="#4a4a4a" stroke-width="0.3"/>
<rect x="122.00" y="413.03" width="3.73" height="4.03" fill="#f5c86f" stroke="#4a4a4a" stroke-width="0.3"/>
<rect x="122.00" y="404.30" width="3.73" height="8.73" fill="#9fd79b" stroke="#4a4a4a" stroke-width="0.3"/>
<rect x="125.73" y="430.49" width="3.73" height="6.71" fill="#f2584a" stroke="#4a4a4a" stroke-width="0.3"/>
<rect x="125.73" y="417.06" width="3.73" height="13.43" fill="#5b9bb8" stroke="#4a4a4a" stroke-width="0.3"/>
<rect x="125.73" y="404.97" width="3.73" height="12.09" fill="#f5c86f" stroke="#4a4a4a" stroke-width="0.3"/>
<rect x="125.73" y="404.30" width="3.73" height="0.67" fill="#9fd79b" stroke="#4a4a4a" stroke-width="0.3"/>
<rect x="129.46" y="434.51" width="3.73" height="2.69" fill="#f2584a" stroke="#4a4a4a" stroke-width="0.3"/>
<rect x="129.46" y="412.36" width="3.73" height="22.16" fill="#5b9bb8" stroke="#4a4a4a" stroke-width="0.3"/>
<rect x="129.46" y="407.66" width="3.73" height="4.70" fill="#f5c86f" stroke="#4a4a4a" stroke-width="0.3"/>
<rect x="129.46" y="404.30" width="3.73" height="3.36" fill="#9fd79b" stroke="#4a4a4a" stroke-width="0.3"/>
<line x1="47.40" x2="133.19" y1="420.75" y2="420.75" stroke="#777" stroke-width="0.4" stroke-dasharray="1,1.2" opacity="0.6"/>
<rect x="47.40" y="404.3" width="85.79" height="32.90" fill="none" stroke="#78797b" stroke-width="0.8"/>
<text x="176.62" y="179.50" font-size="6.5" text-anchor="middle" fill="#231f20" >Amplified</text>
<line x1="162.86" x2="190.39" y1="183.2" y2="183.2" stroke="#78797b" stroke-width="0.7"/>
<text x="176.62" y="190.00" font-size="6.0" text-anchor="middle" fill="#231f20" ><tspan font-style="italic">CCNE1</tspan></text>
<line x1="141.19" x2="212.06" y1="196.1" y2="196.1" stroke="#b3b3b3" stroke-width="0.5" stroke-dasharray="1.3,1.3"/>
<line x1="141.19" x2="212.06" y1="206.6" y2="206.6" stroke="#b3b3b3" stroke-width="0.5" stroke-dasharray="1.3,1.3"/>
<line x1="141.19" x2="212.06" y1="217.1" y2="217.1" stroke="#b3b3b3" stroke-width="0.5" stroke-dasharray="1.3,1.3"/>
<rect x="141.54" y="217.10" width="3.03" height="10.30" fill="#2ee3a5"/>
<rect x="141.54" y="211.95" width="3.03" height="5.15" fill="#d9600e"/>
<rect x="145.27" y="217.10" width="3.03" height="10.30" fill="#2ee3a5"/>
<rect x="145.27" y="211.95" width="3.03" height="5.15" fill="#d9600e"/>
<rect x="149.00" y="222.25" width="3.03" height="5.15" fill="#2ee3a5"/>
<rect x="149.00" y="211.95" width="3.03" height="10.30" fill="#d9600e"/>
<rect x="152.73" y="222.25" width="3.03" height="5.15" fill="#2ee3a5"/>
<rect x="152.73" y="211.95" width="3.03" height="10.30" fill="#d9600e"/>
<rect x="156.46" y="222.25" width="3.03" height="5.15" fill="#2ee3a5"/>
<rect x="156.46" y="217.10" width="3.03" height="5.15" fill="#d9600e"/>
<rect x="160.19" y="222.25" width="3.03" height="5.15" fill="#2ee3a5"/>
<rect x="160.19" y="217.10" width="3.03" height="5.15" fill="#d9600e"/>
<rect x="163.92" y="222.25" width="3.03" height="5.15" fill="#2ee3a5"/>
<rect x="163.92" y="217.10" width="3.03" height="5.15" fill="#d9600e"/>
<rect x="167.65" y="222.25" width="3.03" height="5.15" fill="#2ee3a5"/>
<rect x="167.65" y="217.10" width="3.03" height="5.15" fill="#d9600e"/>
<rect x="171.38" y="206.80" width="3.03" height="20.60" fill="#d9600e"/>
<rect x="175.11" y="222.25" width="3.03" height="5.15" fill="#d9600e"/>
<rect x="178.84" y="222.25" width="3.03" height="5.15" fill="#d9600e"/>
<rect x="182.57" y="222.25" width="3.03" height="5.15" fill="#d9600e"/>
<rect x="186.30" y="222.25" width="3.03" height="5.15" fill="#d9600e"/>
<rect x="190.03" y="222.25" width="3.03" height="5.15" fill="#d9600e"/>
<rect x="193.76" y="222.25" width="3.03" height="5.15" fill="#d9600e"/>
<rect x="197.49" y="222.25" width="3.03" height="5.15" fill="#d9600e"/>
<rect x="201.22" y="222.25" width="3.03" height="5.15" fill="#d9600e"/>
<rect x="204.95" y="222.25" width="3.03" height="5.15" fill="#d9600e"/>
<rect x="208.68" y="222.25" width="3.03" height="5.15" fill="#d9600e"/>
<rect x="141.19" y="194.5" width="70.87" height="32.90" fill="none" stroke="#78797b" stroke-width="0.8"/>
<path d="M144.92,229.0V359.4M148.65,229.0V359.4M152.38,229.0V359.4M156.11,229.0V359.4M159.84,229.0V359.4M163.57,229.0V359.4M167.30,229.0V359.4M171.03,229.0V359.4M174.76,229.0V359.4M178.49,229.0V359.4M182.22,229.0V359.4M185.95,229.0V359.4M189.68,229.0V359.4M193.41,229.0V359.4M197.14,229.0V359.4M200.87,229.0V359.4M204.60,229.0V359.4M208.33,229.0V359.4M141.19,233.68H212.06M141.19,238.36H212.06M141.19,243.04H212.06M141.19,247.72H212.06M141.19,252.40H212.06M141.19,257.08H212.06M141.19,261.76H212.06M141.19,266.44H212.06M141.19,271.12H212.06M141.19,275.80H212.06M141.19,280.48H212.06M141.19,285.16H212.06M141.19,289.84H212.06M141.19,294.52H212.06M141.19,299.20H212.06M141.19,303.88H212.06M141.19,308.56H212.06M141.19,313.24H212.06M141.19,317.92H212.06M141.19,327.20H212.06M141.19,331.80H212.06M141.19,336.40H212.06M141.19,341.00H212.06M141.19,345.60H212.06M141.19,350.20H212.06M141.19,354.80H212.06" stroke="#efefef" stroke-width="0.5" fill="none"/>
<rect x="141.50" y="238.75" width="3.1" height="3.9" fill="#2ee3a5"/>
<rect x="145.23" y="238.75" width="3.1" height="3.9" fill="#2ee3a5"/>
<rect x="148.96" y="238.75" width="3.1" height="3.9" fill="#2ee3a5"/>
<rect x="152.69" y="238.75" width="3.1" height="3.9" fill="#2ee3a5"/>
<rect x="156.42" y="238.75" width="3.1" height="3.9" fill="#2ee3a5"/>
<rect x="160.15" y="238.75" width="3.1" height="3.9" fill="#2ee3a5"/>
<rect x="167.61" y="252.79" width="3.1" height="3.9" fill="#2ee3a5"/>
<rect x="145.23" y="271.51" width="3.1" height="3.9" fill="#2ee3a5"/>
<rect x="141.50" y="322.95" width="3.1" height="3.9" fill="#2ee3a5"/>
<rect x="141.50" y="327.55" width="3.1" height="3.9" fill="#d9600e"/>
<rect x="145.23" y="327.55" width="3.1" height="3.9" fill="#d9600e"/>
<rect x="148.96" y="327.55" width="3.1" height="3.9" fill="#d9600e"/>
<rect x="152.69" y="327.55" width="3.1" height="3.9" fill="#d9600e"/>
<rect x="156.42" y="327.55" width="3.1" height="3.9" fill="#d9600e"/>
<rect x="160.15" y="327.55" width="3.1" height="3.9" fill="#d9600e"/>
<rect x="163.88" y="327.55" width="3.1" height="3.9" fill="#d9600e"/>
<rect x="167.61" y="327.55" width="3.1" height="3.9" fill="#d9600e"/>
<rect x="171.34" y="327.55" width="3.1" height="3.9" fill="#d9600e"/>
<rect x="175.07" y="327.55" width="3.1" height="3.9" fill="#d9600e"/>
<rect x="178.80" y="327.55" width="3.1" height="3.9" fill="#d9600e"/>
<rect x="182.53" y="327.55" width="3.1" height="3.9" fill="#d9600e"/>
<rect x="186.26" y="327.55" width="3.1" height="3.9" fill="#d9600e"/>
<rect x="189.99" y="327.55" width="3.1" height="3.9" fill="#d9600e"/>
<rect x="193.72" y="327.55" width="3.1" height="3.9" fill="#d9600e"/>
<rect x="197.45" y="327.55" width="3.1" height="3.9" fill="#d9600e"/>
<rect x="201.19" y="327.55" width="3.1" height="3.9" fill="#d9600e"/>
<rect x="204.91" y="327.55" width="3.1" height="3.9" fill="#d9600e"/>
<rect x="208.64" y="327.55" width="3.1" height="3.9" fill="#d9600e"/>
<rect x="163.88" y="332.15" width="3.1" height="3.9" fill="#2ee3a5"/>
<rect x="171.34" y="341.35" width="3.1" height="3.9" fill="#d9600e"/>
<rect x="171.34" y="345.95" width="3.1" height="3.9" fill="#d9600e"/>
<rect x="171.34" y="350.55" width="3.1" height="3.9" fill="#d9600e"/>
<rect x="148.96" y="355.15" width="3.1" height="3.9" fill="#d9600e"/>
<rect x="152.69" y="355.15" width="3.1" height="3.9" fill="#d9600e"/>
<rect x="141.19" y="229.0" width="70.87" height="130.40" fill="none" stroke="#78797b" stroke-width="0.8"/>
<line x1="141.19" x2="212.06" y1="322.6" y2="322.6" stroke="#78797b" stroke-width="0.8"/>
<rect x="141.19" y="361.3" width="3.78" height="7.70" fill="#dee9f5"/>
<rect x="144.92" y="361.3" width="3.78" height="7.70" fill="#dee9f5"/>
<rect x="148.65" y="361.3" width="3.78" height="7.70" fill="#8552a8"/>
<rect x="152.38" y="361.3" width="3.78" height="7.70" fill="#8552a8"/>
<rect x="156.11" y="361.3" width="3.78" height="7.70" fill="#8552a8"/>
<rect x="159.84" y="361.3" width="3.78" height="7.70" fill="#8552a8"/>
<rect x="163.57" y="361.3" width="3.78" height="7.70" fill="#dee9f5"/>
<rect x="167.30" y="361.3" width="3.78" height="7.70" fill="#dee9f5"/>
<rect x="171.03" y="361.3" width="3.78" height="7.70" fill="#8552a8"/>
<rect x="174.76" y="361.3" width="3.78" height="7.70" fill="#dee9f5"/>
<rect x="178.49" y="361.3" width="3.78" height="7.70" fill="#a0bddf"/>
<rect x="182.22" y="361.3" width="3.78" height="7.70" fill="#a0bddf"/>
<rect x="185.95" y="361.3" width="3.78" height="7.70" fill="#dee9f5"/>
<rect x="189.68" y="361.3" width="3.78" height="7.70" fill="#dee9f5"/>
<rect x="193.41" y="361.3" width="3.78" height="7.70" fill="#a0bddf"/>
<rect x="197.14" y="361.3" width="3.78" height="7.70" fill="#dee9f5"/>
<rect x="200.87" y="361.3" width="3.78" height="7.70" fill="#dee9f5"/>
<rect x="204.60" y="361.3" width="3.78" height="7.70" fill="#dee9f5"/>
<rect x="208.33" y="361.3" width="3.78" height="7.70" fill="#dee9f5"/>
<rect x="141.19" y="370.4" width="70.87" height="32.90" fill="#ffffff"/>
<rect x="141.49" y="371.00" width="3.13" height="31.70" fill="#e1e2e6" stroke="#4d4d4f" stroke-width="0.55"/>
<rect x="145.22" y="371.00" width="3.13" height="31.70" fill="#e1e2e6" stroke="#4d4d4f" stroke-width="0.55"/>
<rect x="148.95" y="371.00" width="3.13" height="31.70" fill="#e1e2e6" stroke="#4d4d4f" stroke-width="0.55"/>
<rect x="152.68" y="371.00" width="3.13" height="31.70" fill="#e1e2e6" stroke="#4d4d4f" stroke-width="0.55"/>
<rect x="156.41" y="371.00" width="3.13" height="31.70" fill="#e1e2e6" stroke="#4d4d4f" stroke-width="0.55"/>
<rect x="160.14" y="371.00" width="3.13" height="31.70" fill="#e1e2e6" stroke="#4d4d4f" stroke-width="0.55"/>
<rect x="163.87" y="371.00" width="3.13" height="31.70" fill="#e1e2e6" stroke="#4d4d4f" stroke-width="0.55"/>
<rect x="167.60" y="371.00" width="3.13" height="31.70" fill="#e1e2e6" stroke="#4d4d4f" stroke-width="0.55"/>
<rect x="171.33" y="371.00" width="3.13" height="31.70" fill="#e1e2e6" stroke="#4d4d4f" stroke-width="0.55"/>
<rect x="171.33" y="391.29" width="3.13" height="9.19" fill="#57b2ee" stroke="#58595b" stroke-width="0.35"/>
<rect x="171.33" y="400.48" width="3.13" height="2.22" fill="#f0946d" stroke="#58595b" stroke-width="0.35"/>
<rect x="175.06" y="371.00" width="3.13" height="31.70" fill="#e1e2e6" stroke="#4d4d4f" stroke-width="0.55"/>
<rect x="178.79" y="371.00" width="3.13" height="31.70" fill="#e1e2e6" stroke="#4d4d4f" stroke-width="0.55"/>
<rect x="182.52" y="371.00" width="3.13" height="31.70" fill="#e1e2e6" stroke="#4d4d4f" stroke-width="0.55"/>
<rect x="186.25" y="371.00" width="3.13" height="31.70" fill="#e1e2e6" stroke="#4d4d4f" stroke-width="0.55"/>
<rect x="189.98" y="371.00" width="3.13" height="31.70" fill="#e1e2e6" stroke="#4d4d4f" stroke-width="0.55"/>
<rect x="193.71" y="371.00" width="3.13" height="31.70" fill="#e1e2e6" stroke="#4d4d4f" stroke-width="0.55"/>
<rect x="197.44" y="371.00" width="3.13" height="31.70" fill="#e1e2e6" stroke="#4d4d4f" stroke-width="0.55"/>
<rect x="201.17" y="371.00" width="3.13" height="31.70" fill="#e1e2e6" stroke="#4d4d4f" stroke-width="0.55"/>
<rect x="204.90" y="371.00" width="3.13" height="31.70" fill="#e1e2e6" stroke="#4d4d4f" stroke-width="0.55"/>
<rect x="208.63" y="371.00" width="3.13" height="31.70" fill="#e1e2e6" stroke="#4d4d4f" stroke-width="0.55"/>
<line x1="141.19" x2="212.06" y1="386.85" y2="386.85" stroke="#999" stroke-width="0.4" stroke-dasharray="1,1.2"/>
<rect x="141.19" y="370.4" width="70.87" height="32.90" fill="none" stroke="#78797b" stroke-width="0.8"/>
<rect x="141.19" y="424.47" width="3.73" height="12.73" fill="#f2584a" stroke="#4a4a4a" stroke-width="0.3"/>
<rect x="141.19" y="414.39" width="3.73" height="10.09" fill="#5b9bb8" stroke="#4a4a4a" stroke-width="0.3"/>
<rect x="141.19" y="408.96" width="3.73" height="5.43" fill="#f5c86f" stroke="#4a4a4a" stroke-width="0.3"/>
<rect x="141.19" y="404.30" width="3.73" height="4.66" fill="#9fd79b" stroke="#4a4a4a" stroke-width="0.3"/>
<rect x="144.92" y="431.46" width="3.73" height="5.74" fill="#f2584a" stroke="#4a4a4a" stroke-width="0.3"/>
<rect x="144.92" y="418.27" width="3.73" height="13.19" fill="#5b9bb8" stroke="#4a4a4a" stroke-width="0.3"/>
<rect x="144.92" y="408.18" width="3.73" height="10.09" fill="#f5c86f" stroke="#4a4a4a" stroke-width="0.3"/>
<rect x="144.92" y="404.30" width="3.73" height="3.88" fill="#9fd79b" stroke="#4a4a4a" stroke-width="0.3"/>
<rect x="148.65" y="427.58" width="3.73" height="9.62" fill="#f2584a" stroke="#4a4a4a" stroke-width="0.3"/>
<rect x="148.65" y="419.82" width="3.73" height="7.76" fill="#5b9bb8" stroke="#4a4a4a" stroke-width="0.3"/>
<rect x="148.65" y="410.51" width="3.73" height="9.31" fill="#f5c86f" stroke="#4a4a4a" stroke-width="0.3"/>
<rect x="148.65" y="404.30" width="3.73" height="6.21" fill="#9fd79b" stroke="#4a4a4a" stroke-width="0.3"/>
<rect x="152.38" y="425.72" width="3.73" height="11.48" fill="#f2584a" stroke="#4a4a4a" stroke-width="0.3"/>
<rect x="152.38" y="415.94" width="3.73" height="9.78" fill="#5b9bb8" stroke="#4a4a4a" stroke-width="0.3"/>
<rect x="152.38" y="409.73" width="3.73" height="6.21" fill="#f5c86f" stroke="#4a4a4a" stroke-width="0.3"/>
<rect x="152.38" y="404.30" width="3.73" height="5.43" fill="#9fd79b" stroke="#4a4a4a" stroke-width="0.3"/>
<rect x="156.11" y="428.35" width="3.73" height="8.85" fill="#f2584a" stroke="#4a4a4a" stroke-width="0.3"/>
<rect x="156.11" y="415.16" width="3.73" height="13.19" fill="#5b9bb8" stroke="#4a4a4a" stroke-width="0.3"/>
<rect x="156.11" y="408.96" width="3.73" height="6.21" fill="#f5c86f" stroke="#4a4a4a" stroke-width="0.3"/>
<rect x="156.11" y="404.30" width="3.73" height="4.66" fill="#9fd79b" stroke="#4a4a4a" stroke-width="0.3"/>
<rect x="159.84" y="429.44" width="3.73" height="7.76" fill="#f2584a" stroke="#4a4a4a" stroke-width="0.3"/>
<rect x="159.84" y="419.82" width="3.73" height="9.62" fill="#5b9bb8" stroke="#4a4a4a" stroke-width="0.3"/>
<rect x="159.84" y="411.28" width="3.73" height="8.54" fill="#f5c86f" stroke="#4a4a4a" stroke-width="0.3"/>
<rect x="159.84" y="404.30" width="3.73" height="6.98" fill="#9fd79b" stroke="#4a4a4a" stroke-width="0.3"/>
<rect x="163.57" y="430.68" width="3.73" height="6.52" fill="#f2584a" stroke="#4a4a4a" stroke-width="0.3"/>
<rect x="163.57" y="421.37" width="3.73" height="9.31" fill="#5b9bb8" stroke="#4a4a4a" stroke-width="0.3"/>
<rect x="163.57" y="413.61" width="3.73" height="7.76" fill="#f5c86f" stroke="#4a4a4a" stroke-width="0.3"/>
<rect x="163.57" y="404.30" width="3.73" height="9.31" fill="#9fd79b" stroke="#4a4a4a" stroke-width="0.3"/>
<rect x="167.30" y="433.48" width="3.73" height="3.72" fill="#f2584a" stroke="#4a4a4a" stroke-width="0.3"/>
<rect x="167.30" y="423.70" width="3.73" height="9.78" fill="#5b9bb8" stroke="#4a4a4a" stroke-width="0.3"/>
<rect x="167.30" y="415.94" width="3.73" height="7.76" fill="#f5c86f" stroke="#4a4a4a" stroke-width="0.3"/>
<rect x="167.30" y="404.30" width="3.73" height="11.64" fill="#9fd79b" stroke="#4a4a4a" stroke-width="0.3"/>
<rect x="171.03" y="431.46" width="3.73" height="5.74" fill="#f2584a" stroke="#4a4a4a" stroke-width="0.3"/>
<rect x="171.03" y="416.72" width="3.73" height="14.74" fill="#5b9bb8" stroke="#4a4a4a" stroke-width="0.3"/>
<rect x="171.03" y="409.73" width="3.73" height="6.98" fill="#f5c86f" stroke="#4a4a4a" stroke-width="0.3"/>
<rect x="171.03" y="404.30" width="3.73" height="5.43" fill="#9fd79b" stroke="#4a4a4a" stroke-width="0.3"/>
<rect x="174.76" y="432.23" width="3.73" height="4.97" fill="#f2584a" stroke="#4a4a4a" stroke-width="0.3"/>
<rect x="174.76" y="423.70" width="3.73" height="8.54" fill="#5b9bb8" stroke="#4a4a4a" stroke-width="0.3"/>
<rect x="174.76" y="415.16" width="3.73" height="8.54" fill="#f5c86f" stroke="#4a4a4a" stroke-width="0.3"/>
<rect x="174.76" y="404.30" width="3.73" height="10.86" fill="#9fd79b" stroke="#4a4a4a" stroke-width="0.3"/>
<rect x="178.49" y="427.58" width="3.73" height="9.62" fill="#f2584a" stroke="#4a4a4a" stroke-width="0.3"/>
<rect x="178.49" y="415.94" width="3.73" height="11.64" fill="#5b9bb8" stroke="#4a4a4a" stroke-width="0.3"/>
<rect x="178.49" y="409.73" width="3.73" height="6.21" fill="#f5c86f" stroke="#4a4a4a" stroke-width="0.3"/>
<rect x="178.49" y="404.30" width="3.73" height="5.43" fill="#9fd79b" stroke="#4a4a4a" stroke-width="0.3"/>
<rect x="182.22" y="430.68" width="3.73" height="6.52" fill="#f2584a" stroke="#4a4a4a" stroke-width="0.3"/>
<rect x="182.22" y="425.25" width="3.73" height="5.43" fill="#5b9bb8" stroke="#4a4a4a" stroke-width="0.3"/>
<rect x="182.22" y="417.49" width="3.73" height="7.76" fill="#f5c86f" stroke="#4a4a4a" stroke-width="0.3"/>
<rect x="182.22" y="404.30" width="3.73" height="13.19" fill="#9fd79b" stroke="#4a4a4a" stroke-width="0.3"/>
<rect x="185.95" y="426.80" width="3.73" height="10.40" fill="#f2584a" stroke="#4a4a4a" stroke-width="0.3"/>
<rect x="185.95" y="418.27" width="3.73" height="8.54" fill="#5b9bb8" stroke="#4a4a4a" stroke-width="0.3"/>
<rect x="185.95" y="411.28" width="3.73" height="6.98" fill="#f5c86f" stroke="#4a4a4a" stroke-width="0.3"/>
<rect x="185.95" y="404.30" width="3.73" height="6.98" fill="#9fd79b" stroke="#4a4a4a" stroke-width="0.3"/>
<rect x="189.68" y="432.23" width="3.73" height="4.97" fill="#f2584a" stroke="#4a4a4a" stroke-width="0.3"/>
<rect x="189.68" y="413.61" width="3.73" height="18.62" fill="#5b9bb8" stroke="#4a4a4a" stroke-width="0.3"/>
<rect x="189.68" y="408.18" width="3.73" height="5.43" fill="#f5c86f" stroke="#4a4a4a" stroke-width="0.3"/>
<rect x="189.68" y="404.30" width="3.73" height="3.88" fill="#9fd79b" stroke="#4a4a4a" stroke-width="0.3"/>
<rect x="193.41" y="429.91" width="3.73" height="7.29" fill="#f2584a" stroke="#4a4a4a" stroke-width="0.3"/>
<rect x="193.41" y="421.37" width="3.73" height="8.54" fill="#5b9bb8" stroke="#4a4a4a" stroke-width="0.3"/>
<rect x="193.41" y="408.96" width="3.73" height="12.42" fill="#f5c86f" stroke="#4a4a4a" stroke-width="0.3"/>
<rect x="193.41" y="404.30" width="3.73" height="4.66" fill="#9fd79b" stroke="#4a4a4a" stroke-width="0.3"/>
<rect x="197.14" y="420.59" width="3.73" height="16.61" fill="#f2584a" stroke="#4a4a4a" stroke-width="0.3"/>
<rect x="197.14" y="410.51" width="3.73" height="10.09" fill="#5b9bb8" stroke="#4a4a4a" stroke-width="0.3"/>
<rect x="197.14" y="407.40" width="3.73" height="3.10" fill="#f5c86f" stroke="#4a4a4a" stroke-width="0.3"/>
<rect x="197.14" y="404.30" width="3.73" height="3.10" fill="#9fd79b" stroke="#4a4a4a" stroke-width="0.3"/>
<rect x="200.87" y="429.91" width="3.73" height="7.29" fill="#f2584a" stroke="#4a4a4a" stroke-width="0.3"/>
<rect x="200.87" y="418.27" width="3.73" height="11.64" fill="#5b9bb8" stroke="#4a4a4a" stroke-width="0.3"/>
<rect x="200.87" y="408.96" width="3.73" height="9.31" fill="#f5c86f" stroke="#4a4a4a" stroke-width="0.3"/>
<rect x="200.87" y="404.30" width="3.73" height="4.66" fill="#9fd79b" stroke="#4a4a4a" stroke-width="0.3"/>
<rect x="204.60" y="429.13" width="3.73" height="8.07" fill="#f2584a" stroke="#4a4a4a" stroke-width="0.3"/>
<rect x="204.60" y="419.82" width="3.73" height="9.31" fill="#5b9bb8" stroke="#4a4a4a" stroke-width="0.3"/>
<rect x="204.60" y="407.40" width="3.73" height="12.42" fill="#f5c86f" stroke="#4a4a4a" stroke-width="0.3"/>
<rect x="204.60" y="404.30" width="3.73" height="3.10" fill="#9fd79b" stroke="#4a4a4a" stroke-width="0.3"/>
<rect x="208.33" y="427.27" width="3.73" height="9.93" fill="#f2584a" stroke="#4a4a4a" stroke-width="0.3"/>
<rect x="208.33" y="417.03" width="3.73" height="10.24" fill="#5b9bb8" stroke="#4a4a4a" stroke-width="0.3"/>
<rect x="208.33" y="408.18" width="3.73" height="8.85" fill="#f5c86f" stroke="#4a4a4a" stroke-width="0.3"/>
<rect x="208.33" y="404.30" width="3.73" height="3.88" fill="#9fd79b" stroke="#4a4a4a" stroke-width="0.3"/>
<line x1="141.19" x2="212.06" y1="420.75" y2="420.75" stroke="#777" stroke-width="0.4" stroke-dasharray="1,1.2" opacity="0.6"/>
<rect x="141.19" y="404.3" width="70.87" height="32.90" fill="none" stroke="#78797b" stroke-width="0.8"/>
<text x="229.38" y="179.50" font-size="6.5" text-anchor="middle" fill="#231f20" >Somatic</text>
<line x1="217.25" x2="241.52" y1="183.2" y2="183.2" stroke="#78797b" stroke-width="0.7"/>
<text x="229.38" y="190.00" font-size="6.0" text-anchor="middle" fill="#231f20" ><tspan font-style="italic">CDK12</tspan></text>
<line x1="220.06" x2="238.71" y1="196.1" y2="196.1" stroke="#b3b3b3" stroke-width="0.5" stroke-dasharray="1.3,1.3"/>
<line x1="220.06" x2="238.71" y1="206.6" y2="206.6" stroke="#b3b3b3" stroke-width="0.5" stroke-dasharray="1.3,1.3"/>
<line x1="220.06" x2="238.71" y1="217.1" y2="217.1" stroke="#b3b3b3" stroke-width="0.5" stroke-dasharray="1.3,1.3"/>
<rect x="220.41" y="222.25" width="3.03" height="5.15" fill="#2ee3a5"/>
<rect x="220.41" y="217.10" width="3.03" height="5.15" fill="#1b3da0"/>
<rect x="224.14" y="211.95" width="3.03" height="15.45" fill="#2ee3a5"/>
<rect x="224.14" y="206.80" width="3.03" height="5.15" fill="#1b3da0"/>
<rect x="227.87" y="211.95" width="3.03" height="15.45" fill="#2ee3a5"/>
<rect x="231.60" y="217.10" width="3.03" height="10.30" fill="#2ee3a5"/>
<rect x="235.33" y="222.25" width="3.03" height="5.15" fill="#9a2fe6"/>
<rect x="220.06" y="194.5" width="18.65" height="32.90" fill="none" stroke="#78797b" stroke-width="0.8"/>
<path d="M223.79,229.0V359.4M227.52,229.0V359.4M231.25,229.0V359.4M234.98,229.0V359.4M220.06,233.68H238.71M220.06,238.36H238.71M220.06,243.04H238.71M220.06,247.72H238.71M220.06,252.40H238.71M220.06,257.08H238.71M220.06,261.76H238.71M220.06,266.44H238.71M220.06,271.12H238.71M220.06,275.80H238.71M220.06,280.48H238.71M220.06,285.16H238.71M220.06,289.84H238.71M220.06,294.52H238.71M220.06,299.20H238.71M220.06,303.88H238.71M220.06,308.56H238.71M220.06,313.24H238.71M220.06,317.92H238.71M220.06,327.20H238.71M220.06,331.80H238.71M220.06,336.40H238.71M220.06,341.00H238.71M220.06,345.60H238.71M220.06,350.20H238.71M220.06,354.80H238.71" stroke="#efefef" stroke-width="0.5" fill="none"/>
<rect x="224.10" y="238.75" width="3.1" height="3.9" fill="#2ee3a5"/>
<rect x="227.83" y="238.75" width="3.1" height="3.9" fill="#2ee3a5"/>
<rect x="224.10" y="262.15" width="3.1" height="3.9" fill="#2ee3a5"/>
<rect x="231.56" y="280.87" width="3.1" height="3.9" fill="#2ee3a5"/>
<rect x="224.10" y="294.91" width="3.1" height="3.9" fill="#2ee3a5"/>
<rect x="227.83" y="299.59" width="3.1" height="3.9" fill="#2ee3a5"/>
<rect x="220.38" y="322.95" width="3.1" height="3.9" fill="#2ee3a5"/>
<path d="M220.08,340.40 L223.78,340.40 L221.93,337.00 Z" fill="#1b3da0"/>
<path d="M223.81,340.40 L227.50,340.40 L225.66,337.00 Z" fill="#1b3da0"/>
<rect x="227.83" y="336.75" width="3.1" height="3.9" fill="#2ee3a5"/>
<rect x="231.56" y="336.75" width="3.1" height="3.9" fill="#2ee3a5"/>
<path d="M235.00,340.40 L238.69,340.40 L236.84,337.00 Z" fill="#9a2fe6"/>
<rect x="220.06" y="229.0" width="18.65" height="130.40" fill="none" stroke="#78797b" stroke-width="0.8"/>
<line x1="220.06" x2="238.71" y1="322.6" y2="322.6" stroke="#78797b" stroke-width="0.8"/>
<rect x="220.06" y="361.3" width="3.78" height="7.70" fill="#dee9f5"/>
<rect x="223.79" y="361.3" width="3.78" height="7.70" fill="#8552a8"/>
<rect x="227.52" y="361.3" width="3.78" height="7.70" fill="#8552a8"/>
<rect x="231.25" y="361.3" width="3.78" height="7.70" fill="#8552a8"/>
<rect x="234.98" y="361.3" width="3.78" height="7.70" fill="#8552a8"/>
<rect x="220.06" y="370.4" width="18.65" height="32.90" fill="#ffffff"/>
<rect x="220.36" y="371.00" width="3.13" height="31.70" fill="#e1e2e6" stroke="#4d4d4f" stroke-width="0.55"/>
<rect x="224.09" y="371.00" width="3.13" height="31.70" fill="#e1e2e6" stroke="#4d4d4f" stroke-width="0.55"/>
<rect x="227.82" y="371.00" width="3.13" height="31.70" fill="#e1e2e6" stroke="#4d4d4f" stroke-width="0.55"/>
<rect x="231.55" y="371.00" width="3.13" height="31.70" fill="#e1e2e6" stroke="#4d4d4f" stroke-width="0.55"/>
<rect x="235.28" y="371.00" width="3.13" height="31.70" fill="#e1e2e6" stroke="#4d4d4f" stroke-width="0.55"/>
<line x1="220.06" x2="238.71" y1="386.85" y2="386.85" stroke="#999" stroke-width="0.4" stroke-dasharray="1,1.2"/>
<rect x="220.06" y="370.4" width="18.65" height="32.90" fill="none" stroke="#78797b" stroke-width="0.8"/>
<rect x="220.06" y="414.39" width="3.73" height="22.81" fill="#f2584a" stroke="#4a4a4a" stroke-width="0.3"/>
<rect x="220.06" y="412.06" width="3.73" height="2.33" fill="#5b9bb8" stroke="#4a4a4a" stroke-width="0.3"/>
<rect x="220.06" y="409.27" width="3.73" height="2.79" fill="#f5c86f" stroke="#4a4a4a" stroke-width="0.3"/>
<rect x="220.06" y="404.30" width="3.73" height="4.97" fill="#9fd79b" stroke="#4a4a4a" stroke-width="0.3"/>
<rect x="223.79" y="416.72" width="3.73" height="20.48" fill="#f2584a" stroke="#4a4a4a" stroke-width="0.3"/>
<rect x="223.79" y="412.84" width="3.73" height="3.88" fill="#5b9bb8" stroke="#4a4a4a" stroke-width="0.3"/>
<rect x="223.79" y="408.96" width="3.73" height="3.88" fill="#f5c86f" stroke="#4a4a4a" stroke-width="0.3"/>
<rect x="223.79" y="404.30" width="3.73" height="4.66" fill="#9fd79b" stroke="#4a4a4a" stroke-width="0.3"/>
<rect x="227.52" y="427.58" width="3.73" height="9.62" fill="#f2584a" stroke="#4a4a4a" stroke-width="0.3"/>
<rect x="227.52" y="414.39" width="3.73" height="13.19" fill="#5b9bb8" stroke="#4a4a4a" stroke-width="0.3"/>
<rect x="227.52" y="410.51" width="3.73" height="3.88" fill="#f5c86f" stroke="#4a4a4a" stroke-width="0.3"/>
<rect x="227.52" y="404.30" width="3.73" height="6.21" fill="#9fd79b" stroke="#4a4a4a" stroke-width="0.3"/>
<rect x="231.25" y="412.84" width="3.73" height="24.36" fill="#f2584a" stroke="#4a4a4a" stroke-width="0.3"/>
<rect x="231.25" y="411.28" width="3.73" height="1.55" fill="#5b9bb8" stroke="#4a4a4a" stroke-width="0.3"/>
<rect x="231.25" y="408.65" width="3.73" height="2.64" fill="#f5c86f" stroke="#4a4a4a" stroke-width="0.3"/>
<rect x="231.25" y="404.30" width="3.73" height="4.35" fill="#9fd79b" stroke="#4a4a4a" stroke-width="0.3"/>
<rect x="234.98" y="418.27" width="3.73" height="18.93" fill="#f2584a" stroke="#4a4a4a" stroke-width="0.3"/>
<rect x="234.98" y="412.84" width="3.73" height="5.43" fill="#5b9bb8" stroke="#4a4a4a" stroke-width="0.3"/>
<rect x="234.98" y="408.65" width="3.73" height="4.19" fill="#f5c86f" stroke="#4a4a4a" stroke-width="0.3"/>
<rect x="234.98" y="404.30" width="3.73" height="4.35" fill="#9fd79b" stroke="#4a4a4a" stroke-width="0.3"/>
<line x1="220.06" x2="238.71" y1="420.75" y2="420.75" stroke="#777" stroke-width="0.4" stroke-dasharray="1,1.2" opacity="0.6"/>
<rect x="220.06" y="404.3" width="18.65" height="32.90" fill="none" stroke="#78797b" stroke-width="0.8"/>
<text x="291.47" y="179.50" font-size="6.5" text-anchor="middle" fill="#231f20" >Germline</text>
<line x1="277.89" x2="305.05" y1="183.2" y2="183.2" stroke="#78797b" stroke-width="0.7"/>
<text x="291.47" y="190.00" font-size="6.0" text-anchor="middle" fill="#231f20" ><tspan font-style="italic">BRCA1</tspan></text>
<line x1="246.71" x2="336.23" y1="196.1" y2="196.1" stroke="#b3b3b3" stroke-width="0.5" stroke-dasharray="1.3,1.3"/>
<line x1="246.71" x2="336.23" y1="206.6" y2="206.6" stroke="#b3b3b3" stroke-width="0.5" stroke-dasharray="1.3,1.3"/>
<line x1="246.71" x2="336.23" y1="217.1" y2="217.1" stroke="#b3b3b3" stroke-width="0.5" stroke-dasharray="1.3,1.3"/>
<rect x="247.06" y="222.25" width="3.03" height="5.15" fill="#dba6ea"/>
<rect x="247.06" y="211.95" width="3.03" height="10.30" fill="#2ee3a5"/>
<rect x="250.79" y="222.25" width="3.03" height="5.15" fill="#dba6ea"/>
<rect x="250.79" y="206.80" width="3.03" height="15.45" fill="#2ee3a5"/>
<rect x="254.52" y="222.25" width="3.03" height="5.15" fill="#dba6ea"/>
<rect x="254.52" y="211.95" width="3.03" height="10.30" fill="#2ee3a5"/>
<rect x="258.25" y="222.25" width="3.03" height="5.15" fill="#dba6ea"/>
<rect x="258.25" y="217.10" width="3.03" height="5.15" fill="#2ee3a5"/>
<rect x="258.25" y="211.95" width="3.03" height="5.15" fill="#9a2fe6"/>
<rect x="261.98" y="222.25" width="3.03" height="5.15" fill="#8ecbe0"/>
<rect x="261.98" y="217.10" width="3.03" height="5.15" fill="#2ee3a5"/>
<rect x="265.71" y="222.25" width="3.03" height="5.15" fill="#8ecbe0"/>
<rect x="265.71" y="217.10" width="3.03" height="5.15" fill="#2ee3a5"/>
<rect x="269.44" y="222.25" width="3.03" height="5.15" fill="#dba6ea"/>
<rect x="269.44" y="217.10" width="3.03" height="5.15" fill="#2ee3a5"/>
<rect x="273.17" y="222.25" width="3.03" height="5.15" fill="#8697aa"/>
<rect x="273.17" y="217.10" width="3.03" height="5.15" fill="#2ee3a5"/>
<rect x="276.90" y="222.25" width="3.03" height="5.15" fill="#8697aa"/>
<rect x="276.90" y="211.95" width="3.03" height="10.30" fill="#2ee3a5"/>
<rect x="276.90" y="206.80" width="3.03" height="5.15" fill="#d9600e"/>
<rect x="280.63" y="222.25" width="3.03" height="5.15" fill="#1c8a6a"/>
<rect x="280.63" y="211.95" width="3.03" height="10.30" fill="#2ee3a5"/>
<rect x="284.36" y="222.25" width="3.03" height="5.15" fill="#8ecbe0"/>
<rect x="284.36" y="217.10" width="3.03" height="5.15" fill="#2ee3a5"/>
<rect x="288.09" y="222.25" width="3.03" height="5.15" fill="#dba6ea"/>
<rect x="288.09" y="217.10" width="3.03" height="5.15" fill="#2ee3a5"/>
<rect x="291.82" y="222.25" width="3.03" height="5.15" fill="#8ecbe0"/>
<rect x="291.82" y="217.10" width="3.03" height="5.15" fill="#f6a384"/>
<rect x="295.55" y="222.25" width="3.03" height="5.15" fill="#1c8a6a"/>
<rect x="295.55" y="217.10" width="3.03" height="5.15" fill="#2ee3a5"/>
<rect x="299.28" y="222.25" width="3.03" height="5.15" fill="#dba6ea"/>
<rect x="299.28" y="211.95" width="3.03" height="10.30" fill="#2ee3a5"/>
<rect x="303.01" y="222.25" width="3.03" height="5.15" fill="#dba6ea"/>
<rect x="306.74" y="222.25" width="3.03" height="5.15" fill="#8ecbe0"/>
<rect x="310.47" y="222.25" width="3.03" height="5.15" fill="#dba6ea"/>
<rect x="314.20" y="222.25" width="3.03" height="5.15" fill="#dba6ea"/>
<rect x="317.93" y="222.25" width="3.03" height="5.15" fill="#dba6ea"/>
<rect x="321.66" y="222.25" width="3.03" height="5.15" fill="#dba6ea"/>
<rect x="325.39" y="222.25" width="3.03" height="5.15" fill="#8ecbe0"/>
<rect x="329.12" y="222.25" width="3.03" height="5.15" fill="#dba6ea"/>
<rect x="332.85" y="222.25" width="3.03" height="5.15" fill="#dba6ea"/>
<rect x="246.71" y="194.5" width="89.52" height="32.90" fill="none" stroke="#78797b" stroke-width="0.8"/>
<path d="M250.44,229.0V359.4M254.17,229.0V359.4M257.90,229.0V359.4M261.63,229.0V359.4M265.36,229.0V359.4M269.09,229.0V359.4M272.82,229.0V359.4M276.55,229.0V359.4M280.28,229.0V359.4M284.01,229.0V359.4M287.74,229.0V359.4M291.47,229.0V359.4M295.20,229.0V359.4M298.93,229.0V359.4M302.66,229.0V359.4M306.39,229.0V359.4M310.12,229.0V359.4M313.85,229.0V359.4M317.58,229.0V359.4M321.31,229.0V359.4M325.04,229.0V359.4M328.77,229.0V359.4M332.50,229.0V359.4M246.71,233.68H336.23M246.71,238.36H336.23M246.71,243.04H336.23M246.71,247.72H336.23M246.71,252.40H336.23M246.71,257.08H336.23M246.71,261.76H336.23M246.71,266.44H336.23M246.71,271.12H336.23M246.71,275.80H336.23M246.71,280.48H336.23M246.71,285.16H336.23M246.71,289.84H336.23M246.71,294.52H336.23M246.71,299.20H336.23M246.71,303.88H336.23M246.71,308.56H336.23M246.71,313.24H336.23M246.71,317.92H336.23M246.71,327.20H336.23M246.71,331.80H336.23M246.71,336.40H336.23M246.71,341.00H336.23M246.71,345.60H336.23M246.71,350.20H336.23M246.71,354.80H336.23" stroke="#efefef" stroke-width="0.5" fill="none"/>
<path d="M246.73,233.04 L250.43,233.04 L248.58,229.64 Z" fill="#dba6ea"/>
<path d="M250.46,233.04 L254.16,233.04 L252.31,229.64 Z" fill="#dba6ea"/>
<path d="M254.19,233.04 L257.89,233.04 L256.04,229.64 Z" fill="#dba6ea"/>
<path d="M257.91,233.04 L261.62,233.04 L259.76,229.64 Z" fill="#dba6ea"/>
<path d="M261.64,233.04 L265.35,233.04 L263.50,229.64 Z" fill="#8ecbe0"/>
<path d="M265.38,233.04 L269.08,233.04 L267.23,229.64 Z" fill="#8ecbe0"/>
<path d="M269.10,233.04 L272.81,233.04 L270.95,229.64 Z" fill="#dba6ea"/>
<path d="M272.83,233.04 L276.54,233.04 L274.69,229.64 Z" fill="#8697aa"/>
<path d="M276.56,233.04 L280.27,233.04 L278.42,229.64 Z" fill="#8697aa"/>
<rect x="280.59" y="229.39" width="3.1" height="3.9" fill="#1c8a6a"/>
<path d="M284.02,233.04 L287.73,233.04 L285.88,229.64 Z" fill="#8ecbe0"/>
<path d="M287.75,233.04 L291.46,233.04 L289.61,229.64 Z" fill="#dba6ea"/>
<path d="M291.49,233.04 L295.19,233.04 L293.34,229.64 Z" fill="#8ecbe0"/>
<rect x="295.51" y="229.39" width="3.1" height="3.9" fill="#1c8a6a"/>
<path d="M298.94,233.04 L302.65,233.04 L300.80,229.64 Z" fill="#dba6ea"/>
<path d="M302.67,233.04 L306.38,233.04 L304.52,229.64 Z" fill="#dba6ea"/>
<path d="M306.40,233.04 L310.11,233.04 L308.25,229.64 Z" fill="#8ecbe0"/>
<path d="M310.13,233.04 L313.84,233.04 L311.99,229.64 Z" fill="#dba6ea"/>
<path d="M313.87,233.04 L317.57,233.04 L315.72,229.64 Z" fill="#dba6ea"/>
<path d="M317.59,233.04 L321.30,233.04 L319.44,229.64 Z" fill="#dba6ea"/>
<path d="M321.32,233.04 L325.03,233.04 L323.18,229.64 Z" fill="#dba6ea"/>
<path d="M325.05,233.04 L328.75,233.04 L326.90,229.64 Z" fill="#8ecbe0"/>
<path d="M328.78,233.04 L332.49,233.04 L330.63,229.64 Z" fill="#dba6ea"/>
<path d="M332.51,233.04 L336.22,233.04 L334.37,229.64 Z" fill="#dba6ea"/>
<rect x="247.03" y="234.07" width="3.1" height="3.9" fill="#2ee3a5"/>
<rect x="250.75" y="238.75" width="3.1" height="3.9" fill="#2ee3a5"/>
<rect x="276.87" y="238.75" width="3.1" height="3.9" fill="#2ee3a5"/>
<circle cx="293.34" cy="245.38" r="1.75" fill="#f6a384"/>
<rect x="295.51" y="248.11" width="3.1" height="3.9" fill="#2ee3a5"/>
<rect x="280.59" y="252.79" width="3.1" height="3.9" fill="#2ee3a5"/>
<rect x="299.25" y="252.79" width="3.1" height="3.9" fill="#2ee3a5"/>
<rect x="276.87" y="266.83" width="3.1" height="3.9" fill="#2ee3a5"/>
<rect x="299.25" y="266.83" width="3.1" height="3.9" fill="#2ee3a5"/>
<rect x="254.49" y="271.51" width="3.1" height="3.9" fill="#2ee3a5"/>
<path d="M257.91,289.20 L261.62,289.20 L259.76,285.80 Z" fill="#9a2fe6"/>
<rect x="247.03" y="322.95" width="3.1" height="3.9" fill="#2ee3a5"/>
<rect x="250.75" y="322.95" width="3.1" height="3.9" fill="#2ee3a5"/>
<rect x="254.49" y="322.95" width="3.1" height="3.9" fill="#2ee3a5"/>
<rect x="258.21" y="322.95" width="3.1" height="3.9" fill="#2ee3a5"/>
<rect x="261.94" y="322.95" width="3.1" height="3.9" fill="#2ee3a5"/>
<rect x="265.68" y="322.95" width="3.1" height="3.9" fill="#2ee3a5"/>
<rect x="269.40" y="322.95" width="3.1" height="3.9" fill="#2ee3a5"/>
<rect x="273.13" y="322.95" width="3.1" height="3.9" fill="#2ee3a5"/>
<rect x="250.75" y="332.15" width="3.1" height="3.9" fill="#2ee3a5"/>
<rect x="280.59" y="332.15" width="3.1" height="3.9" fill="#2ee3a5"/>
<rect x="284.32" y="332.15" width="3.1" height="3.9" fill="#2ee3a5"/>
<rect x="288.06" y="332.15" width="3.1" height="3.9" fill="#2ee3a5"/>
<rect x="276.87" y="355.15" width="3.1" height="3.9" fill="#d9600e"/>
<rect x="246.71" y="229.0" width="89.52" height="130.40" fill="none" stroke="#78797b" stroke-width="0.8"/>
<line x1="246.71" x2="336.23" y1="322.6" y2="322.6" stroke="#78797b" stroke-width="0.8"/>
<rect x="246.71" y="361.3" width="3.78" height="7.70" fill="#a0bddf"/>
<rect x="250.44" y="361.3" width="3.78" height="7.70" fill="#8552a8"/>
<rect x="254.17" y="361.3" width="3.78" height="7.70" fill="#dee9f5"/>
<rect x="257.90" y="361.3" width="3.78" height="7.70" fill="#a0bddf"/>
<rect x="261.63" y="361.3" width="3.78" height="7.70" fill="#8552a8"/>
<rect x="265.36" y="361.3" width="3.78" height="7.70" fill="#dee9f5"/>
<rect x="269.09" y="361.3" width="3.78" height="7.70" fill="#8552a8"/>
<rect x="272.82" y="361.3" width="3.78" height="7.70" fill="#8552a8"/>
<rect x="276.55" y="361.3" width="3.78" height="7.70" fill="#8552a8"/>
<rect x="280.28" y="361.3" width="3.78" height="7.70" fill="#8552a8"/>
<rect x="284.01" y="361.3" width="3.78" height="7.70" fill="#a0bddf"/>
<rect x="287.74" y="361.3" width="3.78" height="7.70" fill="#dee9f5"/>
<rect x="291.47" y="361.3" width="3.78" height="7.70" fill="#a0bddf"/>
<rect x="295.20" y="361.3" width="3.78" height="7.70" fill="#dee9f5"/>
<rect x="298.93" y="361.3" width="3.78" height="7.70" fill="#8552a8"/>
<rect x="302.66" y="361.3" width="3.78" height="7.70" fill="#8552a8"/>
<rect x="306.39" y="361.3" width="3.78" height="7.70" fill="#8552a8"/>
<rect x="310.12" y="361.3" width="3.78" height="7.70" fill="#8552a8"/>
<rect x="313.85" y="361.3" width="3.78" height="7.70" fill="#8552a8"/>
<rect x="317.58" y="361.3" width="3.78" height="7.70" fill="#8552a8"/>
<rect x="321.31" y="361.3" width="3.78" height="7.70" fill="#a0bddf"/>
<rect x="325.04" y="361.3" width="3.78" height="7.70" fill="#a0bddf"/>
<rect x="328.77" y="361.3" width="3.78" height="7.70" fill="#8552a8"/>
<rect x="332.50" y="361.3" width="3.78" height="7.70" fill="#a0bddf"/>
<rect x="246.71" y="370.4" width="89.52" height="32.90" fill="#ffffff"/>
<rect x="247.01" y="371.00" width="3.13" height="31.70" fill="#e1e2e6" stroke="#4d4d4f" stroke-width="0.55"/>
<rect x="247.01" y="375.13" width="3.13" height="27.57" fill="#f0946d" stroke="#58595b" stroke-width="0.35"/>
<rect x="250.74" y="371.00" width="3.13" height="31.70" fill="#e1e2e6" stroke="#4d4d4f" stroke-width="0.55"/>
<rect x="250.74" y="374.86" width="3.13" height="3.72" fill="#57b2ee" stroke="#58595b" stroke-width="0.35"/>
<rect x="250.74" y="378.58" width="3.13" height="24.12" fill="#f0946d" stroke="#58595b" stroke-width="0.35"/>
<rect x="254.47" y="371.00" width="3.13" height="31.70" fill="#e1e2e6" stroke="#4d4d4f" stroke-width="0.55"/>
<rect x="254.47" y="394.15" width="3.13" height="0.96" fill="#57b2ee" stroke="#58595b" stroke-width="0.35"/>
<rect x="254.47" y="395.12" width="3.13" height="7.58" fill="#f0946d" stroke="#58595b" stroke-width="0.35"/>
<rect x="258.20" y="371.00" width="3.13" height="31.70" fill="#e1e2e6" stroke="#4d4d4f" stroke-width="0.55"/>
<rect x="258.20" y="372.10" width="3.13" height="0.96" fill="#57b2ee" stroke="#58595b" stroke-width="0.35"/>
<rect x="258.20" y="373.07" width="3.13" height="29.63" fill="#f0946d" stroke="#58595b" stroke-width="0.35"/>
<rect x="261.93" y="371.00" width="3.13" height="31.70" fill="#e1e2e6" stroke="#4d4d4f" stroke-width="0.55"/>
<rect x="261.93" y="373.48" width="3.13" height="2.34" fill="#57b2ee" stroke="#58595b" stroke-width="0.35"/>
<rect x="261.93" y="375.82" width="3.13" height="26.88" fill="#f0946d" stroke="#58595b" stroke-width="0.35"/>
<rect x="265.66" y="371.00" width="3.13" height="31.70" fill="#e1e2e6" stroke="#4d4d4f" stroke-width="0.55"/>
<rect x="265.66" y="372.10" width="3.13" height="3.31" fill="#57b2ee" stroke="#58595b" stroke-width="0.35"/>
<rect x="265.66" y="375.41" width="3.13" height="27.29" fill="#f0946d" stroke="#58595b" stroke-width="0.35"/>
<rect x="269.39" y="371.00" width="3.13" height="31.70" fill="#e1e2e6" stroke="#4d4d4f" stroke-width="0.55"/>
<rect x="269.39" y="378.99" width="3.13" height="23.71" fill="#f0946d" stroke="#58595b" stroke-width="0.35"/>
<rect x="273.12" y="371.00" width="3.13" height="31.70" fill="#e1e2e6" stroke="#4d4d4f" stroke-width="0.55"/>
<rect x="273.12" y="372.65" width="3.13" height="2.48" fill="#57b2ee" stroke="#58595b" stroke-width="0.35"/>
<rect x="273.12" y="375.13" width="3.13" height="27.57" fill="#f0946d" stroke="#58595b" stroke-width="0.35"/>
<rect x="276.85" y="371.00" width="3.13" height="31.70" fill="#e1e2e6" stroke="#4d4d4f" stroke-width="0.55"/>
<rect x="280.58" y="371.00" width="3.13" height="31.70" fill="#e1e2e6" stroke="#4d4d4f" stroke-width="0.55"/>
<rect x="280.58" y="374.45" width="3.13" height="6.89" fill="#57b2ee" stroke="#58595b" stroke-width="0.35"/>
<rect x="280.58" y="381.34" width="3.13" height="21.36" fill="#f0946d" stroke="#58595b" stroke-width="0.35"/>
<rect x="284.31" y="371.00" width="3.13" height="31.70" fill="#e1e2e6" stroke="#4d4d4f" stroke-width="0.55"/>
<rect x="284.31" y="373.07" width="3.13" height="2.76" fill="#57b2ee" stroke="#58595b" stroke-width="0.35"/>
<rect x="284.31" y="375.82" width="3.13" height="26.88" fill="#f0946d" stroke="#58595b" stroke-width="0.35"/>
<rect x="288.04" y="371.00" width="3.13" height="31.70" fill="#e1e2e6" stroke="#4d4d4f" stroke-width="0.55"/>
<rect x="288.04" y="372.38" width="3.13" height="1.38" fill="#57b2ee" stroke="#58595b" stroke-width="0.35"/>
<rect x="288.04" y="373.76" width="3.13" height="28.94" fill="#f0946d" stroke="#58595b" stroke-width="0.35"/>
<rect x="291.77" y="371.00" width="3.13" height="31.70" fill="#e1e2e6" stroke="#4d4d4f" stroke-width="0.55"/>
<rect x="291.77" y="376.51" width="3.13" height="6.20" fill="#57b2ee" stroke="#58595b" stroke-width="0.35"/>
<rect x="291.77" y="382.72" width="3.13" height="19.98" fill="#f0946d" stroke="#58595b" stroke-width="0.35"/>
<rect x="295.50" y="371.00" width="3.13" height="31.70" fill="#e1e2e6" stroke="#4d4d4f" stroke-width="0.55"/>
<rect x="295.50" y="372.10" width="3.13" height="0.96" fill="#57b2ee" stroke="#58595b" stroke-width="0.35"/>
<rect x="295.50" y="373.07" width="3.13" height="29.63" fill="#f0946d" stroke="#58595b" stroke-width="0.35"/>
<rect x="299.23" y="371.00" width="3.13" height="31.70" fill="#e1e2e6" stroke="#4d4d4f" stroke-width="0.55"/>
<rect x="299.23" y="372.65" width="3.13" height="14.61" fill="#57b2ee" stroke="#58595b" stroke-width="0.35"/>
<rect x="299.23" y="387.26" width="3.13" height="15.44" fill="#f0946d" stroke="#58595b" stroke-width="0.35"/>
<rect x="302.96" y="371.00" width="3.13" height="31.70" fill="#e1e2e6" stroke="#4d4d4f" stroke-width="0.55"/>
<rect x="302.96" y="383.13" width="3.13" height="0.96" fill="#57b2ee" stroke="#58595b" stroke-width="0.35"/>
<rect x="302.96" y="384.09" width="3.13" height="18.61" fill="#f0946d" stroke="#58595b" stroke-width="0.35"/>
<rect x="306.69" y="371.00" width="3.13" height="31.70" fill="#e1e2e6" stroke="#4d4d4f" stroke-width="0.55"/>
<rect x="306.69" y="372.10" width="3.13" height="1.65" fill="#57b2ee" stroke="#58595b" stroke-width="0.35"/>
<rect x="306.69" y="373.76" width="3.13" height="28.94" fill="#f0946d" stroke="#58595b" stroke-width="0.35"/>
<rect x="310.42" y="371.00" width="3.13" height="31.70" fill="#e1e2e6" stroke="#4d4d4f" stroke-width="0.55"/>
<rect x="310.42" y="388.23" width="3.13" height="2.07" fill="#57b2ee" stroke="#58595b" stroke-width="0.35"/>
<rect x="310.42" y="390.30" width="3.13" height="12.40" fill="#f0946d" stroke="#58595b" stroke-width="0.35"/>
<rect x="314.15" y="371.00" width="3.13" height="31.70" fill="#e1e2e6" stroke="#4d4d4f" stroke-width="0.55"/>
<rect x="314.15" y="395.12" width="3.13" height="1.38" fill="#57b2ee" stroke="#58595b" stroke-width="0.35"/>
<rect x="314.15" y="396.50" width="3.13" height="6.20" fill="#f0946d" stroke="#58595b" stroke-width="0.35"/>
<rect x="317.88" y="371.00" width="3.13" height="31.70" fill="#e1e2e6" stroke="#4d4d4f" stroke-width="0.55"/>
<rect x="317.88" y="379.96" width="3.13" height="5.51" fill="#57b2ee" stroke="#58595b" stroke-width="0.35"/>
<rect x="317.88" y="385.47" width="3.13" height="17.23" fill="#f0946d" stroke="#58595b" stroke-width="0.35"/>
<rect x="321.61" y="371.00" width="3.13" height="31.70" fill="#e1e2e6" stroke="#4d4d4f" stroke-width="0.55"/>
<rect x="321.61" y="377.20" width="3.13" height="7.58" fill="#57b2ee" stroke="#58595b" stroke-width="0.35"/>
<rect x="321.61" y="384.78" width="3.13" height="17.92" fill="#f0946d" stroke="#58595b" stroke-width="0.35"/>
<rect x="325.34" y="371.00" width="3.13" height="31.70" fill="#e1e2e6" stroke="#4d4d4f" stroke-width="0.55"/>
<rect x="325.34" y="375.13" width="3.13" height="2.07" fill="#57b2ee" stroke="#58595b" stroke-width="0.35"/>
<rect x="325.34" y="377.20" width="3.13" height="25.50" fill="#f0946d" stroke="#58595b" stroke-width="0.35"/>
<rect x="329.07" y="371.00" width="3.13" height="31.70" fill="#e1e2e6" stroke="#4d4d4f" stroke-width="0.55"/>
<rect x="329.07" y="396.08" width="3.13" height="0.41" fill="#57b2ee" stroke="#58595b" stroke-width="0.35"/>
<rect x="329.07" y="396.50" width="3.13" height="6.20" fill="#f0946d" stroke="#58595b" stroke-width="0.35"/>
<rect x="332.80" y="371.00" width="3.13" height="31.70" fill="#e1e2e6" stroke="#4d4d4f" stroke-width="0.55"/>
<rect x="332.80" y="372.10" width="3.13" height="2.34" fill="#57b2ee" stroke="#58595b" stroke-width="0.35"/>
<rect x="332.80" y="374.45" width="3.13" height="28.25" fill="#f0946d" stroke="#58595b" stroke-width="0.35"/>
<line x1="246.71" x2="336.23" y1="386.85" y2="386.85" stroke="#999" stroke-width="0.4" stroke-dasharray="1,1.2"/>
<rect x="246.71" y="370.4" width="89.52" height="32.90" fill="none" stroke="#78797b" stroke-width="0.8"/>
<rect x="246.71" y="425.76" width="3.73" height="11.44" fill="#f2584a" stroke="#4a4a4a" stroke-width="0.3"/>
<rect x="246.71" y="412.88" width="3.73" height="12.87" fill="#5b9bb8" stroke="#4a4a4a" stroke-width="0.3"/>
<rect x="246.71" y="409.31" width="3.73" height="3.58" fill="#f5c86f" stroke="#4a4a4a" stroke-width="0.3"/>
<rect x="246.71" y="404.30" width="3.73" height="5.01" fill="#9fd79b" stroke="#4a4a4a" stroke-width="0.3"/>
<rect x="250.44" y="426.47" width="3.73" height="10.73" fill="#f2584a" stroke="#4a4a4a" stroke-width="0.3"/>
<rect x="250.44" y="414.31" width="3.73" height="12.16" fill="#5b9bb8" stroke="#4a4a4a" stroke-width="0.3"/>
<rect x="250.44" y="412.17" width="3.73" height="2.15" fill="#f5c86f" stroke="#4a4a4a" stroke-width="0.3"/>
<rect x="250.44" y="404.30" width="3.73" height="7.87" fill="#9fd79b" stroke="#4a4a4a" stroke-width="0.3"/>
<rect x="254.17" y="425.76" width="3.73" height="11.44" fill="#f2584a" stroke="#4a4a4a" stroke-width="0.3"/>
<rect x="254.17" y="412.88" width="3.73" height="12.87" fill="#5b9bb8" stroke="#4a4a4a" stroke-width="0.3"/>
<rect x="254.17" y="410.74" width="3.73" height="2.15" fill="#f5c86f" stroke="#4a4a4a" stroke-width="0.3"/>
<rect x="254.17" y="404.30" width="3.73" height="6.44" fill="#9fd79b" stroke="#4a4a4a" stroke-width="0.3"/>
<rect x="257.90" y="425.47" width="3.73" height="11.73" fill="#f2584a" stroke="#4a4a4a" stroke-width="0.3"/>
<rect x="257.90" y="412.88" width="3.73" height="12.59" fill="#5b9bb8" stroke="#4a4a4a" stroke-width="0.3"/>
<rect x="257.90" y="410.74" width="3.73" height="2.15" fill="#f5c86f" stroke="#4a4a4a" stroke-width="0.3"/>
<rect x="257.90" y="404.30" width="3.73" height="6.44" fill="#9fd79b" stroke="#4a4a4a" stroke-width="0.3"/>
<rect x="261.63" y="424.61" width="3.73" height="12.59" fill="#f2584a" stroke="#4a4a4a" stroke-width="0.3"/>
<rect x="261.63" y="412.88" width="3.73" height="11.73" fill="#5b9bb8" stroke="#4a4a4a" stroke-width="0.3"/>
<rect x="261.63" y="410.74" width="3.73" height="2.15" fill="#f5c86f" stroke="#4a4a4a" stroke-width="0.3"/>
<rect x="261.63" y="404.30" width="3.73" height="6.44" fill="#9fd79b" stroke="#4a4a4a" stroke-width="0.3"/>
<rect x="265.36" y="427.90" width="3.73" height="9.30" fill="#f2584a" stroke="#4a4a4a" stroke-width="0.3"/>
<rect x="265.36" y="412.17" width="3.73" height="15.73" fill="#5b9bb8" stroke="#4a4a4a" stroke-width="0.3"/>
<rect x="265.36" y="409.31" width="3.73" height="2.86" fill="#f5c86f" stroke="#4a4a4a" stroke-width="0.3"/>
<rect x="265.36" y="404.30" width="3.73" height="5.01" fill="#9fd79b" stroke="#4a4a4a" stroke-width="0.3"/>
<rect x="269.09" y="424.33" width="3.73" height="12.87" fill="#f2584a" stroke="#4a4a4a" stroke-width="0.3"/>
<rect x="269.09" y="412.88" width="3.73" height="11.44" fill="#5b9bb8" stroke="#4a4a4a" stroke-width="0.3"/>
<rect x="269.09" y="411.45" width="3.73" height="1.43" fill="#f5c86f" stroke="#4a4a4a" stroke-width="0.3"/>
<rect x="269.09" y="404.30" width="3.73" height="7.15" fill="#9fd79b" stroke="#4a4a4a" stroke-width="0.3"/>
<rect x="272.82" y="422.61" width="3.73" height="14.59" fill="#f2584a" stroke="#4a4a4a" stroke-width="0.3"/>
<rect x="272.82" y="412.17" width="3.73" height="10.44" fill="#5b9bb8" stroke="#4a4a4a" stroke-width="0.3"/>
<rect x="272.82" y="409.31" width="3.73" height="2.86" fill="#f5c86f" stroke="#4a4a4a" stroke-width="0.3"/>
<rect x="272.82" y="404.30" width="3.73" height="5.01" fill="#9fd79b" stroke="#4a4a4a" stroke-width="0.3"/>
<rect x="276.55" y="424.61" width="3.73" height="12.59" fill="#f2584a" stroke="#4a4a4a" stroke-width="0.3"/>
<rect x="276.55" y="415.03" width="3.73" height="9.58" fill="#5b9bb8" stroke="#4a4a4a" stroke-width="0.3"/>
<rect x="276.55" y="410.74" width="3.73" height="4.29" fill="#f5c86f" stroke="#4a4a4a" stroke-width="0.3"/>
<rect x="276.55" y="404.30" width="3.73" height="6.44" fill="#9fd79b" stroke="#4a4a4a" stroke-width="0.3"/>
<rect x="280.28" y="428.62" width="3.73" height="8.58" fill="#f2584a" stroke="#4a4a4a" stroke-width="0.3"/>
<rect x="280.28" y="415.03" width="3.73" height="13.59" fill="#5b9bb8" stroke="#4a4a4a" stroke-width="0.3"/>
<rect x="280.28" y="410.02" width="3.73" height="5.01" fill="#f5c86f" stroke="#4a4a4a" stroke-width="0.3"/>
<rect x="280.28" y="404.30" width="3.73" height="5.72" fill="#9fd79b" stroke="#4a4a4a" stroke-width="0.3"/>
<rect x="284.01" y="425.76" width="3.73" height="11.44" fill="#f2584a" stroke="#4a4a4a" stroke-width="0.3"/>
<rect x="284.01" y="412.88" width="3.73" height="12.87" fill="#5b9bb8" stroke="#4a4a4a" stroke-width="0.3"/>
<rect x="284.01" y="408.59" width="3.73" height="4.29" fill="#f5c86f" stroke="#4a4a4a" stroke-width="0.3"/>
<rect x="284.01" y="404.30" width="3.73" height="4.29" fill="#9fd79b" stroke="#4a4a4a" stroke-width="0.3"/>
<rect x="287.74" y="421.75" width="3.73" height="15.45" fill="#f2584a" stroke="#4a4a4a" stroke-width="0.3"/>
<rect x="287.74" y="412.88" width="3.73" height="8.87" fill="#5b9bb8" stroke="#4a4a4a" stroke-width="0.3"/>
<rect x="287.74" y="409.31" width="3.73" height="3.58" fill="#f5c86f" stroke="#4a4a4a" stroke-width="0.3"/>
<rect x="287.74" y="404.30" width="3.73" height="5.01" fill="#9fd79b" stroke="#4a4a4a" stroke-width="0.3"/>
<rect x="291.47" y="429.33" width="3.73" height="7.87" fill="#f2584a" stroke="#4a4a4a" stroke-width="0.3"/>
<rect x="291.47" y="416.46" width="3.73" height="12.87" fill="#5b9bb8" stroke="#4a4a4a" stroke-width="0.3"/>
<rect x="291.47" y="411.45" width="3.73" height="5.01" fill="#f5c86f" stroke="#4a4a4a" stroke-width="0.3"/>
<rect x="291.47" y="404.30" width="3.73" height="7.15" fill="#9fd79b" stroke="#4a4a4a" stroke-width="0.3"/>
<rect x="295.20" y="421.47" width="3.73" height="15.73" fill="#f2584a" stroke="#4a4a4a" stroke-width="0.3"/>
<rect x="295.20" y="412.88" width="3.73" height="8.58" fill="#5b9bb8" stroke="#4a4a4a" stroke-width="0.3"/>
<rect x="295.20" y="409.31" width="3.73" height="3.58" fill="#f5c86f" stroke="#4a4a4a" stroke-width="0.3"/>
<rect x="295.20" y="404.30" width="3.73" height="5.01" fill="#9fd79b" stroke="#4a4a4a" stroke-width="0.3"/>
<rect x="298.93" y="432.91" width="3.73" height="4.29" fill="#f2584a" stroke="#4a4a4a" stroke-width="0.3"/>
<rect x="298.93" y="414.31" width="3.73" height="18.60" fill="#5b9bb8" stroke="#4a4a4a" stroke-width="0.3"/>
<rect x="298.93" y="410.74" width="3.73" height="3.58" fill="#f5c86f" stroke="#4a4a4a" stroke-width="0.3"/>
<rect x="298.93" y="404.30" width="3.73" height="6.44" fill="#9fd79b" stroke="#4a4a4a" stroke-width="0.3"/>
<rect x="302.66" y="418.32" width="3.73" height="18.88" fill="#f2584a" stroke="#4a4a4a" stroke-width="0.3"/>
<rect x="302.66" y="412.88" width="3.73" height="5.44" fill="#5b9bb8" stroke="#4a4a4a" stroke-width="0.3"/>
<rect x="302.66" y="410.02" width="3.73" height="2.86" fill="#f5c86f" stroke="#4a4a4a" stroke-width="0.3"/>
<rect x="302.66" y="404.30" width="3.73" height="5.72" fill="#9fd79b" stroke="#4a4a4a" stroke-width="0.3"/>
<rect x="306.39" y="420.75" width="3.73" height="16.45" fill="#f2584a" stroke="#4a4a4a" stroke-width="0.3"/>
<rect x="306.39" y="412.17" width="3.73" height="8.58" fill="#5b9bb8" stroke="#4a4a4a" stroke-width="0.3"/>
<rect x="306.39" y="407.88" width="3.73" height="4.29" fill="#f5c86f" stroke="#4a4a4a" stroke-width="0.3"/>
<rect x="306.39" y="404.30" width="3.73" height="3.58" fill="#9fd79b" stroke="#4a4a4a" stroke-width="0.3"/>
<rect x="310.12" y="427.47" width="3.73" height="9.73" fill="#f2584a" stroke="#4a4a4a" stroke-width="0.3"/>
<rect x="310.12" y="412.88" width="3.73" height="14.59" fill="#5b9bb8" stroke="#4a4a4a" stroke-width="0.3"/>
<rect x="310.12" y="410.74" width="3.73" height="2.15" fill="#f5c86f" stroke="#4a4a4a" stroke-width="0.3"/>
<rect x="310.12" y="404.30" width="3.73" height="6.44" fill="#9fd79b" stroke="#4a4a4a" stroke-width="0.3"/>
<rect x="313.85" y="426.90" width="3.73" height="10.30" fill="#f2584a" stroke="#4a4a4a" stroke-width="0.3"/>
<rect x="313.85" y="413.60" width="3.73" height="13.30" fill="#5b9bb8" stroke="#4a4a4a" stroke-width="0.3"/>
<rect x="313.85" y="410.74" width="3.73" height="2.86" fill="#f5c86f" stroke="#4a4a4a" stroke-width="0.3"/>
<rect x="313.85" y="404.30" width="3.73" height="6.44" fill="#9fd79b" stroke="#4a4a4a" stroke-width="0.3"/>
<rect x="317.58" y="430.05" width="3.73" height="7.15" fill="#f2584a" stroke="#4a4a4a" stroke-width="0.3"/>
<rect x="317.58" y="415.74" width="3.73" height="14.30" fill="#5b9bb8" stroke="#4a4a4a" stroke-width="0.3"/>
<rect x="317.58" y="409.31" width="3.73" height="6.44" fill="#f5c86f" stroke="#4a4a4a" stroke-width="0.3"/>
<rect x="317.58" y="404.30" width="3.73" height="5.01" fill="#9fd79b" stroke="#4a4a4a" stroke-width="0.3"/>
<rect x="321.31" y="428.33" width="3.73" height="8.87" fill="#f2584a" stroke="#4a4a4a" stroke-width="0.3"/>
<rect x="321.31" y="412.88" width="3.73" height="15.45" fill="#5b9bb8" stroke="#4a4a4a" stroke-width="0.3"/>
<rect x="321.31" y="408.59" width="3.73" height="4.29" fill="#f5c86f" stroke="#4a4a4a" stroke-width="0.3"/>
<rect x="321.31" y="404.30" width="3.73" height="4.29" fill="#9fd79b" stroke="#4a4a4a" stroke-width="0.3"/>
<rect x="325.04" y="424.33" width="3.73" height="12.87" fill="#f2584a" stroke="#4a4a4a" stroke-width="0.3"/>
<rect x="325.04" y="412.88" width="3.73" height="11.44" fill="#5b9bb8" stroke="#4a4a4a" stroke-width="0.3"/>
<rect x="325.04" y="410.74" width="3.73" height="2.15" fill="#f5c86f" stroke="#4a4a4a" stroke-width="0.3"/>
<rect x="325.04" y="404.30" width="3.73" height="6.44" fill="#9fd79b" stroke="#4a4a4a" stroke-width="0.3"/>
<rect x="328.77" y="423.61" width="3.73" height="13.59" fill="#f2584a" stroke="#4a4a4a" stroke-width="0.3"/>
<rect x="328.77" y="415.03" width="3.73" height="8.58" fill="#5b9bb8" stroke="#4a4a4a" stroke-width="0.3"/>
<rect x="328.77" y="410.74" width="3.73" height="4.29" fill="#f5c86f" stroke="#4a4a4a" stroke-width="0.3"/>
<rect x="328.77" y="404.30" width="3.73" height="6.44" fill="#9fd79b" stroke="#4a4a4a" stroke-width="0.3"/>
<rect x="332.50" y="426.47" width="3.73" height="10.73" fill="#f2584a" stroke="#4a4a4a" stroke-width="0.3"/>
<rect x="332.50" y="412.88" width="3.73" height="13.59" fill="#5b9bb8" stroke="#4a4a4a" stroke-width="0.3"/>
<rect x="332.50" y="410.74" width="3.73" height="2.15" fill="#f5c86f" stroke="#4a4a4a" stroke-width="0.3"/>
<rect x="332.50" y="404.30" width="3.73" height="6.44" fill="#9fd79b" stroke="#4a4a4a" stroke-width="0.3"/>
<line x1="246.71" x2="336.23" y1="420.75" y2="420.75" stroke="#777" stroke-width="0.4" stroke-dasharray="1,1.2" opacity="0.6"/>
<rect x="246.71" y="404.3" width="89.52" height="32.90" fill="none" stroke="#78797b" stroke-width="0.8"/>
<text x="374.07" y="179.50" font-size="6.5" text-anchor="middle" fill="#231f20" >Methylated</text>
<line x1="357.77" x2="390.37" y1="183.2" y2="183.2" stroke="#78797b" stroke-width="0.7"/>
<text x="374.07" y="190.00" font-size="6.0" text-anchor="middle" fill="#231f20" ><tspan font-style="italic">BRCA1</tspan></text>
<line x1="344.23" x2="403.91" y1="196.1" y2="196.1" stroke="#b3b3b3" stroke-width="0.5" stroke-dasharray="1.3,1.3"/>
<line x1="344.23" x2="403.91" y1="206.6" y2="206.6" stroke="#b3b3b3" stroke-width="0.5" stroke-dasharray="1.3,1.3"/>
<line x1="344.23" x2="403.91" y1="217.1" y2="217.1" stroke="#b3b3b3" stroke-width="0.5" stroke-dasharray="1.3,1.3"/>
<rect x="344.58" y="222.25" width="3.03" height="5.15" fill="#2ee3a5"/>
<rect x="344.58" y="206.80" width="3.03" height="15.45" fill="#d9600e"/>
<rect x="344.58" y="201.65" width="3.03" height="5.15" fill="#f6a384"/>
<rect x="348.31" y="222.25" width="3.03" height="5.15" fill="#2ee3a5"/>
<rect x="348.31" y="217.10" width="3.03" height="5.15" fill="#f6a384"/>
<rect x="352.04" y="211.95" width="3.03" height="15.45" fill="#2ee3a5"/>
<rect x="352.04" y="206.80" width="3.03" height="5.15" fill="#f6a384"/>
<rect x="355.77" y="222.25" width="3.03" height="5.15" fill="#2ee3a5"/>
<rect x="355.77" y="217.10" width="3.03" height="5.15" fill="#f6a384"/>
<rect x="359.50" y="206.80" width="3.03" height="20.60" fill="#2ee3a5"/>
<rect x="359.50" y="201.65" width="3.03" height="5.15" fill="#f6a384"/>
<rect x="363.23" y="222.25" width="3.03" height="5.15" fill="#2ee3a5"/>
<rect x="363.23" y="217.10" width="3.03" height="5.15" fill="#f6a384"/>
<rect x="366.96" y="217.10" width="3.03" height="10.30" fill="#2ee3a5"/>
<rect x="366.96" y="211.95" width="3.03" height="5.15" fill="#f6a384"/>
<rect x="370.69" y="222.25" width="3.03" height="5.15" fill="#2ee3a5"/>
<rect x="370.69" y="217.10" width="3.03" height="5.15" fill="#f6a384"/>
<rect x="374.42" y="222.25" width="3.03" height="5.15" fill="#2ee3a5"/>
<rect x="374.42" y="217.10" width="3.03" height="5.15" fill="#f6a384"/>
<rect x="378.15" y="222.25" width="3.03" height="5.15" fill="#2ee3a5"/>
<rect x="378.15" y="217.10" width="3.03" height="5.15" fill="#f6a384"/>
<rect x="381.88" y="222.25" width="3.03" height="5.15" fill="#2ee3a5"/>
<rect x="381.88" y="217.10" width="3.03" height="5.15" fill="#f6a384"/>
<rect x="385.61" y="222.25" width="3.03" height="5.15" fill="#f6a384"/>
<rect x="389.34" y="222.25" width="3.03" height="5.15" fill="#f6a384"/>
<rect x="393.07" y="222.25" width="3.03" height="5.15" fill="#f6a384"/>
<rect x="396.80" y="222.25" width="3.03" height="5.15" fill="#f6a384"/>
<rect x="400.53" y="222.25" width="3.03" height="5.15" fill="#f6a384"/>
<rect x="344.23" y="194.5" width="59.68" height="32.90" fill="none" stroke="#78797b" stroke-width="0.8"/>
<path d="M347.96,229.0V359.4M351.69,229.0V359.4M355.42,229.0V359.4M359.15,229.0V359.4M362.88,229.0V359.4M366.61,229.0V359.4M370.34,229.0V359.4M374.07,229.0V359.4M377.80,229.0V359.4M381.53,229.0V359.4M385.26,229.0V359.4M388.99,229.0V359.4M392.72,229.0V359.4M396.45,229.0V359.4M400.18,229.0V359.4M344.23,233.68H403.91M344.23,238.36H403.91M344.23,243.04H403.91M344.23,247.72H403.91M344.23,252.40H403.91M344.23,257.08H403.91M344.23,261.76H403.91M344.23,266.44H403.91M344.23,271.12H403.91M344.23,275.80H403.91M344.23,280.48H403.91M344.23,285.16H403.91M344.23,289.84H403.91M344.23,294.52H403.91M344.23,299.20H403.91M344.23,303.88H403.91M344.23,308.56H403.91M344.23,313.24H403.91M344.23,317.92H403.91M344.23,327.20H403.91M344.23,331.80H403.91M344.23,336.40H403.91M344.23,341.00H403.91M344.23,345.60H403.91M344.23,350.20H403.91M344.23,354.80H403.91" stroke="#efefef" stroke-width="0.5" fill="none"/>
<circle cx="346.10" cy="231.34" r="1.75" fill="#f6a384"/>
<circle cx="349.83" cy="231.34" r="1.75" fill="#f6a384"/>
<circle cx="353.56" cy="231.34" r="1.75" fill="#f6a384"/>
<circle cx="357.29" cy="231.34" r="1.75" fill="#f6a384"/>
<circle cx="361.02" cy="231.34" r="1.75" fill="#f6a384"/>
<circle cx="364.75" cy="231.34" r="1.75" fill="#f6a384"/>
<circle cx="368.48" cy="231.34" r="1.75" fill="#f6a384"/>
<circle cx="372.21" cy="231.34" r="1.75" fill="#f6a384"/>
<circle cx="375.94" cy="231.34" r="1.75" fill="#f6a384"/>
<circle cx="379.67" cy="231.34" r="1.75" fill="#f6a384"/>
<circle cx="383.40" cy="231.34" r="1.75" fill="#f6a384"/>
<circle cx="387.12" cy="231.34" r="1.75" fill="#f6a384"/>
<circle cx="390.86" cy="231.34" r="1.75" fill="#f6a384"/>
<circle cx="394.59" cy="231.34" r="1.75" fill="#f6a384"/>
<circle cx="398.31" cy="231.34" r="1.75" fill="#f6a384"/>
<circle cx="402.05" cy="231.34" r="1.75" fill="#f6a384"/>
<rect x="352.00" y="229.39" width="3.1" height="3.9" fill="#2ee3a5"/>
<rect x="355.74" y="234.07" width="3.1" height="3.9" fill="#2ee3a5"/>
<rect x="359.47" y="238.75" width="3.1" height="3.9" fill="#2ee3a5"/>
<rect x="366.93" y="252.79" width="3.1" height="3.9" fill="#2ee3a5"/>
<rect x="366.93" y="257.47" width="3.1" height="3.9" fill="#2ee3a5"/>
<rect x="359.47" y="266.83" width="3.1" height="3.9" fill="#2ee3a5"/>
<rect x="370.66" y="271.51" width="3.1" height="3.9" fill="#2ee3a5"/>
<rect x="352.00" y="276.19" width="3.1" height="3.9" fill="#2ee3a5"/>
<rect x="374.38" y="280.87" width="3.1" height="3.9" fill="#2ee3a5"/>
<rect x="378.12" y="285.55" width="3.1" height="3.9" fill="#2ee3a5"/>
<rect x="381.85" y="290.23" width="3.1" height="3.9" fill="#2ee3a5"/>
<rect x="359.47" y="308.95" width="3.1" height="3.9" fill="#2ee3a5"/>
<rect x="344.55" y="322.95" width="3.1" height="3.9" fill="#2ee3a5"/>
<rect x="348.28" y="322.95" width="3.1" height="3.9" fill="#2ee3a5"/>
<rect x="352.00" y="332.15" width="3.1" height="3.9" fill="#2ee3a5"/>
<rect x="359.47" y="332.15" width="3.1" height="3.9" fill="#2ee3a5"/>
<rect x="363.19" y="332.15" width="3.1" height="3.9" fill="#2ee3a5"/>
<rect x="344.55" y="341.35" width="3.1" height="3.9" fill="#d9600e"/>
<rect x="344.55" y="345.95" width="3.1" height="3.9" fill="#d9600e"/>
<rect x="344.55" y="350.55" width="3.1" height="3.9" fill="#d9600e"/>
<rect x="344.23" y="229.0" width="59.68" height="130.40" fill="none" stroke="#78797b" stroke-width="0.8"/>
<line x1="344.23" x2="403.91" y1="322.6" y2="322.6" stroke="#78797b" stroke-width="0.8"/>
<rect x="344.23" y="361.3" width="3.78" height="7.70" fill="#8552a8"/>
<rect x="347.96" y="361.3" width="3.78" height="7.70" fill="#a0bddf"/>
<rect x="351.69" y="361.3" width="3.78" height="7.70" fill="#8552a8"/>
<rect x="355.42" y="361.3" width="3.78" height="7.70" fill="#a0bddf"/>
<rect x="359.15" y="361.3" width="3.78" height="7.70" fill="#dee9f5"/>
<rect x="362.88" y="361.3" width="3.78" height="7.70" fill="#dee9f5"/>
<rect x="366.61" y="361.3" width="3.78" height="7.70" fill="#a0bddf"/>
<rect x="370.34" y="361.3" width="3.78" height="7.70" fill="#8552a8"/>
<rect x="374.07" y="361.3" width="3.78" height="7.70" fill="#a0bddf"/>
<rect x="377.80" y="361.3" width="3.78" height="7.70" fill="#8552a8"/>
<rect x="381.53" y="361.3" width="3.78" height="7.70" fill="#8552a8"/>
<rect x="385.26" y="361.3" width="3.78" height="7.70" fill="#a0bddf"/>
<rect x="388.99" y="361.3" width="3.78" height="7.70" fill="#dee9f5"/>
<rect x="392.72" y="361.3" width="3.78" height="7.70" fill="#8552a8"/>
<rect x="396.45" y="361.3" width="3.78" height="7.70" fill="#dee9f5"/>
<rect x="400.18" y="361.3" width="3.78" height="7.70" fill="#dee9f5"/>
<rect x="344.23" y="370.4" width="59.68" height="32.90" fill="#ffffff"/>
<rect x="344.53" y="371.00" width="3.13" height="31.70" fill="#e1e2e6" stroke="#4d4d4f" stroke-width="0.55"/>
<rect x="344.53" y="375.60" width="3.13" height="4.11" fill="#57b2ee" stroke="#58595b" stroke-width="0.35"/>
<rect x="344.53" y="379.71" width="3.13" height="22.99" fill="#f0946d" stroke="#58595b" stroke-width="0.35"/>
<rect x="348.26" y="371.00" width="3.13" height="31.70" fill="#e1e2e6" stroke="#4d4d4f" stroke-width="0.55"/>
<rect x="348.26" y="394.49" width="3.13" height="0.82" fill="#57b2ee" stroke="#58595b" stroke-width="0.35"/>
<rect x="348.26" y="395.31" width="3.13" height="7.39" fill="#f0946d" stroke="#58595b" stroke-width="0.35"/>
<rect x="351.99" y="371.00" width="3.13" height="31.70" fill="#e1e2e6" stroke="#4d4d4f" stroke-width="0.55"/>
<rect x="351.99" y="384.63" width="3.13" height="1.15" fill="#57b2ee" stroke="#58595b" stroke-width="0.35"/>
<rect x="351.99" y="385.78" width="3.13" height="16.92" fill="#f0946d" stroke="#58595b" stroke-width="0.35"/>
<rect x="355.72" y="371.00" width="3.13" height="31.70" fill="#e1e2e6" stroke="#4d4d4f" stroke-width="0.55"/>
<rect x="355.72" y="373.63" width="3.13" height="10.51" fill="#57b2ee" stroke="#58595b" stroke-width="0.35"/>
<rect x="355.72" y="384.14" width="3.13" height="18.56" fill="#f0946d" stroke="#58595b" stroke-width="0.35"/>
<rect x="359.45" y="371.00" width="3.13" height="31.70" fill="#e1e2e6" stroke="#4d4d4f" stroke-width="0.55"/>
<rect x="359.45" y="373.14" width="3.13" height="0.82" fill="#57b2ee" stroke="#58595b" stroke-width="0.35"/>
<rect x="359.45" y="373.96" width="3.13" height="28.74" fill="#f0946d" stroke="#58595b" stroke-width="0.35"/>
<rect x="363.18" y="371.00" width="3.13" height="31.70" fill="#e1e2e6" stroke="#4d4d4f" stroke-width="0.55"/>
<rect x="363.18" y="379.71" width="3.13" height="5.42" fill="#57b2ee" stroke="#58595b" stroke-width="0.35"/>
<rect x="363.18" y="385.13" width="3.13" height="17.57" fill="#f0946d" stroke="#58595b" stroke-width="0.35"/>
<rect x="366.91" y="371.00" width="3.13" height="31.70" fill="#e1e2e6" stroke="#4d4d4f" stroke-width="0.55"/>
<rect x="366.91" y="373.14" width="3.13" height="7.39" fill="#57b2ee" stroke="#58595b" stroke-width="0.35"/>
<rect x="366.91" y="380.53" width="3.13" height="22.17" fill="#f0946d" stroke="#58595b" stroke-width="0.35"/>
<rect x="370.64" y="371.00" width="3.13" height="31.70" fill="#e1e2e6" stroke="#4d4d4f" stroke-width="0.55"/>
<rect x="370.64" y="373.63" width="3.13" height="6.90" fill="#57b2ee" stroke="#58595b" stroke-width="0.35"/>
<rect x="370.64" y="380.53" width="3.13" height="22.17" fill="#f0946d" stroke="#58595b" stroke-width="0.35"/>
<rect x="374.37" y="371.00" width="3.13" height="31.70" fill="#e1e2e6" stroke="#4d4d4f" stroke-width="0.55"/>
<rect x="374.37" y="373.63" width="3.13" height="1.64" fill="#57b2ee" stroke="#58595b" stroke-width="0.35"/>
<rect x="374.37" y="375.27" width="3.13" height="27.43" fill="#f0946d" stroke="#58595b" stroke-width="0.35"/>
<rect x="378.10" y="371.00" width="3.13" height="31.70" fill="#e1e2e6" stroke="#4d4d4f" stroke-width="0.55"/>
<rect x="378.10" y="372.31" width="3.13" height="1.31" fill="#57b2ee" stroke="#58595b" stroke-width="0.35"/>
<rect x="378.10" y="373.63" width="3.13" height="29.07" fill="#f0946d" stroke="#58595b" stroke-width="0.35"/>
<rect x="381.83" y="371.00" width="3.13" height="31.70" fill="#e1e2e6" stroke="#4d4d4f" stroke-width="0.55"/>
<rect x="381.83" y="372.31" width="3.13" height="3.61" fill="#57b2ee" stroke="#58595b" stroke-width="0.35"/>
<rect x="381.83" y="375.93" width="3.13" height="26.77" fill="#f0946d" stroke="#58595b" stroke-width="0.35"/>
<rect x="385.56" y="371.00" width="3.13" height="31.70" fill="#e1e2e6" stroke="#4d4d4f" stroke-width="0.55"/>
<rect x="385.56" y="372.31" width="3.13" height="2.96" fill="#57b2ee" stroke="#58595b" stroke-width="0.35"/>
<rect x="385.56" y="375.27" width="3.13" height="27.43" fill="#f0946d" stroke="#58595b" stroke-width="0.35"/>
<rect x="389.29" y="371.00" width="3.13" height="31.70" fill="#e1e2e6" stroke="#4d4d4f" stroke-width="0.55"/>
<rect x="389.29" y="373.63" width="3.13" height="3.94" fill="#57b2ee" stroke="#58595b" stroke-width="0.35"/>
<rect x="389.29" y="377.57" width="3.13" height="25.13" fill="#f0946d" stroke="#58595b" stroke-width="0.35"/>
<rect x="393.02" y="371.00" width="3.13" height="31.70" fill="#e1e2e6" stroke="#4d4d4f" stroke-width="0.55"/>
<rect x="393.02" y="371.99" width="3.13" height="1.15" fill="#57b2ee" stroke="#58595b" stroke-width="0.35"/>
<rect x="393.02" y="373.14" width="3.13" height="29.56" fill="#f0946d" stroke="#58595b" stroke-width="0.35"/>
<rect x="396.75" y="371.00" width="3.13" height="31.70" fill="#e1e2e6" stroke="#4d4d4f" stroke-width="0.55"/>
<rect x="396.75" y="374.28" width="3.13" height="1.64" fill="#57b2ee" stroke="#58595b" stroke-width="0.35"/>
<rect x="396.75" y="375.93" width="3.13" height="26.77" fill="#f0946d" stroke="#58595b" stroke-width="0.35"/>
<rect x="400.48" y="371.00" width="3.13" height="31.70" fill="#e1e2e6" stroke="#4d4d4f" stroke-width="0.55"/>
<rect x="400.48" y="398.27" width="3.13" height="4.43" fill="#f0946d" stroke="#58595b" stroke-width="0.35"/>
<line x1="344.23" x2="403.91" y1="386.85" y2="386.85" stroke="#999" stroke-width="0.4" stroke-dasharray="1,1.2"/>
<rect x="344.23" y="370.4" width="59.68" height="32.90" fill="none" stroke="#78797b" stroke-width="0.8"/>
<rect x="344.23" y="427.90" width="3.73" height="9.30" fill="#f2584a" stroke="#4a4a4a" stroke-width="0.3"/>
<rect x="344.23" y="413.53" width="3.73" height="14.37" fill="#5b9bb8" stroke="#4a4a4a" stroke-width="0.3"/>
<rect x="344.23" y="412.18" width="3.73" height="1.35" fill="#f5c86f" stroke="#4a4a4a" stroke-width="0.3"/>
<rect x="344.23" y="404.30" width="3.73" height="7.88" fill="#9fd79b" stroke="#4a4a4a" stroke-width="0.3"/>
<rect x="347.96" y="427.90" width="3.73" height="9.30" fill="#f2584a" stroke="#4a4a4a" stroke-width="0.3"/>
<rect x="347.96" y="414.38" width="3.73" height="13.53" fill="#5b9bb8" stroke="#4a4a4a" stroke-width="0.3"/>
<rect x="347.96" y="412.18" width="3.73" height="2.20" fill="#f5c86f" stroke="#4a4a4a" stroke-width="0.3"/>
<rect x="347.96" y="404.30" width="3.73" height="7.88" fill="#9fd79b" stroke="#4a4a4a" stroke-width="0.3"/>
<rect x="351.69" y="422.83" width="3.73" height="14.37" fill="#f2584a" stroke="#4a4a4a" stroke-width="0.3"/>
<rect x="351.69" y="413.53" width="3.73" height="9.30" fill="#5b9bb8" stroke="#4a4a4a" stroke-width="0.3"/>
<rect x="351.69" y="411.84" width="3.73" height="1.69" fill="#f5c86f" stroke="#4a4a4a" stroke-width="0.3"/>
<rect x="351.69" y="404.30" width="3.73" height="7.54" fill="#9fd79b" stroke="#4a4a4a" stroke-width="0.3"/>
<rect x="355.42" y="429.59" width="3.73" height="7.61" fill="#f2584a" stroke="#4a4a4a" stroke-width="0.3"/>
<rect x="355.42" y="415.56" width="3.73" height="14.03" fill="#5b9bb8" stroke="#4a4a4a" stroke-width="0.3"/>
<rect x="355.42" y="408.80" width="3.73" height="6.76" fill="#f5c86f" stroke="#4a4a4a" stroke-width="0.3"/>
<rect x="355.42" y="404.30" width="3.73" height="4.50" fill="#9fd79b" stroke="#4a4a4a" stroke-width="0.3"/>
<rect x="359.15" y="426.21" width="3.73" height="10.99" fill="#f2584a" stroke="#4a4a4a" stroke-width="0.3"/>
<rect x="359.15" y="415.56" width="3.73" height="10.65" fill="#5b9bb8" stroke="#4a4a4a" stroke-width="0.3"/>
<rect x="359.15" y="411.84" width="3.73" height="3.72" fill="#f5c86f" stroke="#4a4a4a" stroke-width="0.3"/>
<rect x="359.15" y="404.30" width="3.73" height="7.54" fill="#9fd79b" stroke="#4a4a4a" stroke-width="0.3"/>
<rect x="362.88" y="424.52" width="3.73" height="12.68" fill="#f2584a" stroke="#4a4a4a" stroke-width="0.3"/>
<rect x="362.88" y="413.53" width="3.73" height="10.99" fill="#5b9bb8" stroke="#4a4a4a" stroke-width="0.3"/>
<rect x="362.88" y="409.81" width="3.73" height="3.72" fill="#f5c86f" stroke="#4a4a4a" stroke-width="0.3"/>
<rect x="362.88" y="404.30" width="3.73" height="5.51" fill="#9fd79b" stroke="#4a4a4a" stroke-width="0.3"/>
<rect x="366.61" y="430.78" width="3.73" height="6.42" fill="#f2584a" stroke="#4a4a4a" stroke-width="0.3"/>
<rect x="366.61" y="414.38" width="3.73" height="16.40" fill="#5b9bb8" stroke="#4a4a4a" stroke-width="0.3"/>
<rect x="366.61" y="411.50" width="3.73" height="2.87" fill="#f5c86f" stroke="#4a4a4a" stroke-width="0.3"/>
<rect x="366.61" y="404.30" width="3.73" height="7.20" fill="#9fd79b" stroke="#4a4a4a" stroke-width="0.3"/>
<rect x="370.34" y="430.78" width="3.73" height="6.42" fill="#f2584a" stroke="#4a4a4a" stroke-width="0.3"/>
<rect x="370.34" y="413.87" width="3.73" height="16.91" fill="#5b9bb8" stroke="#4a4a4a" stroke-width="0.3"/>
<rect x="370.34" y="411.50" width="3.73" height="2.37" fill="#f5c86f" stroke="#4a4a4a" stroke-width="0.3"/>
<rect x="370.34" y="404.30" width="3.73" height="7.20" fill="#9fd79b" stroke="#4a4a4a" stroke-width="0.3"/>
<rect x="374.07" y="421.65" width="3.73" height="15.55" fill="#f2584a" stroke="#4a4a4a" stroke-width="0.3"/>
<rect x="374.07" y="413.19" width="3.73" height="8.45" fill="#5b9bb8" stroke="#4a4a4a" stroke-width="0.3"/>
<rect x="374.07" y="410.49" width="3.73" height="2.71" fill="#f5c86f" stroke="#4a4a4a" stroke-width="0.3"/>
<rect x="374.07" y="404.30" width="3.73" height="6.19" fill="#9fd79b" stroke="#4a4a4a" stroke-width="0.3"/>
<rect x="377.80" y="419.45" width="3.73" height="17.75" fill="#f2584a" stroke="#4a4a4a" stroke-width="0.3"/>
<rect x="377.80" y="410.15" width="3.73" height="9.30" fill="#5b9bb8" stroke="#4a4a4a" stroke-width="0.3"/>
<rect x="377.80" y="408.80" width="3.73" height="1.35" fill="#f5c86f" stroke="#4a4a4a" stroke-width="0.3"/>
<rect x="377.80" y="404.30" width="3.73" height="4.50" fill="#9fd79b" stroke="#4a4a4a" stroke-width="0.3"/>
<rect x="381.53" y="428.41" width="3.73" height="8.79" fill="#f2584a" stroke="#4a4a4a" stroke-width="0.3"/>
<rect x="381.53" y="413.87" width="3.73" height="14.54" fill="#5b9bb8" stroke="#4a4a4a" stroke-width="0.3"/>
<rect x="381.53" y="410.49" width="3.73" height="3.38" fill="#f5c86f" stroke="#4a4a4a" stroke-width="0.3"/>
<rect x="381.53" y="404.30" width="3.73" height="6.19" fill="#9fd79b" stroke="#4a4a4a" stroke-width="0.3"/>
<rect x="385.26" y="430.10" width="3.73" height="7.10" fill="#f2584a" stroke="#4a4a4a" stroke-width="0.3"/>
<rect x="385.26" y="410.99" width="3.73" height="19.10" fill="#5b9bb8" stroke="#4a4a4a" stroke-width="0.3"/>
<rect x="385.26" y="409.30" width="3.73" height="1.69" fill="#f5c86f" stroke="#4a4a4a" stroke-width="0.3"/>
<rect x="385.26" y="404.30" width="3.73" height="5.00" fill="#9fd79b" stroke="#4a4a4a" stroke-width="0.3"/>
<rect x="388.99" y="425.37" width="3.73" height="11.83" fill="#f2584a" stroke="#4a4a4a" stroke-width="0.3"/>
<rect x="388.99" y="413.53" width="3.73" height="11.83" fill="#5b9bb8" stroke="#4a4a4a" stroke-width="0.3"/>
<rect x="388.99" y="411.50" width="3.73" height="2.03" fill="#f5c86f" stroke="#4a4a4a" stroke-width="0.3"/>
<rect x="388.99" y="404.30" width="3.73" height="7.20" fill="#9fd79b" stroke="#4a4a4a" stroke-width="0.3"/>
<rect x="392.72" y="421.65" width="3.73" height="15.55" fill="#f2584a" stroke="#4a4a4a" stroke-width="0.3"/>
<rect x="392.72" y="411.84" width="3.73" height="9.81" fill="#5b9bb8" stroke="#4a4a4a" stroke-width="0.3"/>
<rect x="392.72" y="410.15" width="3.73" height="1.69" fill="#f5c86f" stroke="#4a4a4a" stroke-width="0.3"/>
<rect x="392.72" y="404.30" width="3.73" height="5.85" fill="#9fd79b" stroke="#4a4a4a" stroke-width="0.3"/>
<rect x="396.45" y="425.37" width="3.73" height="11.83" fill="#f2584a" stroke="#4a4a4a" stroke-width="0.3"/>
<rect x="396.45" y="413.53" width="3.73" height="11.83" fill="#5b9bb8" stroke="#4a4a4a" stroke-width="0.3"/>
<rect x="396.45" y="411.50" width="3.73" height="2.03" fill="#f5c86f" stroke="#4a4a4a" stroke-width="0.3"/>
<rect x="396.45" y="404.30" width="3.73" height="7.20" fill="#9fd79b" stroke="#4a4a4a" stroke-width="0.3"/>
<rect x="400.18" y="421.98" width="3.73" height="15.22" fill="#f2584a" stroke="#4a4a4a" stroke-width="0.3"/>
<rect x="400.18" y="412.69" width="3.73" height="9.30" fill="#5b9bb8" stroke="#4a4a4a" stroke-width="0.3"/>
<rect x="400.18" y="410.99" width="3.73" height="1.69" fill="#f5c86f" stroke="#4a4a4a" stroke-width="0.3"/>
<rect x="400.18" y="404.30" width="3.73" height="6.69" fill="#9fd79b" stroke="#4a4a4a" stroke-width="0.3"/>
<line x1="344.23" x2="403.91" y1="420.75" y2="420.75" stroke="#777" stroke-width="0.4" stroke-dasharray="1,1.2" opacity="0.6"/>
<rect x="344.23" y="404.3" width="59.68" height="32.90" fill="none" stroke="#78797b" stroke-width="0.8"/>
<text x="430.56" y="179.50" font-size="6.5" text-anchor="middle" fill="#231f20" >Somatic</text>
<line x1="418.42" x2="442.70" y1="183.2" y2="183.2" stroke="#78797b" stroke-width="0.7"/>
<text x="430.56" y="190.00" font-size="6.0" text-anchor="middle" fill="#231f20" ><tspan font-style="italic">BRCA1</tspan></text>
<line x1="411.91" x2="449.21" y1="196.1" y2="196.1" stroke="#b3b3b3" stroke-width="0.5" stroke-dasharray="1.3,1.3"/>
<line x1="411.91" x2="449.21" y1="206.6" y2="206.6" stroke="#b3b3b3" stroke-width="0.5" stroke-dasharray="1.3,1.3"/>
<line x1="411.91" x2="449.21" y1="217.1" y2="217.1" stroke="#b3b3b3" stroke-width="0.5" stroke-dasharray="1.3,1.3"/>
<rect x="412.26" y="217.10" width="3.03" height="10.30" fill="#2ee3a5"/>
<rect x="412.26" y="201.65" width="3.03" height="15.45" fill="#d9600e"/>
<rect x="412.26" y="196.50" width="3.03" height="5.15" fill="#9a2fe6"/>
<rect x="415.99" y="217.10" width="3.03" height="10.30" fill="#2ee3a5"/>
<rect x="415.99" y="211.95" width="3.03" height="5.15" fill="#1b3da0"/>
<rect x="419.72" y="222.25" width="3.03" height="5.15" fill="#2ee3a5"/>
<rect x="419.72" y="217.10" width="3.03" height="5.15" fill="#9a2fe6"/>
<rect x="423.45" y="222.25" width="3.03" height="5.15" fill="#2ee3a5"/>
<rect x="423.45" y="217.10" width="3.03" height="5.15" fill="#d9600e"/>
<rect x="427.18" y="217.10" width="3.03" height="10.30" fill="#1b3da0"/>
<rect x="430.91" y="222.25" width="3.03" height="5.15" fill="#2ee3a5"/>
<rect x="430.91" y="217.10" width="3.03" height="5.15" fill="#9a2fe6"/>
<rect x="434.64" y="222.25" width="3.03" height="5.15" fill="#9a2fe6"/>
<rect x="438.37" y="222.25" width="3.03" height="5.15" fill="#1b3da0"/>
<rect x="442.10" y="222.25" width="3.03" height="5.15" fill="#9a2fe6"/>
<rect x="445.83" y="222.25" width="3.03" height="5.15" fill="#9a2fe6"/>
<rect x="411.91" y="194.5" width="37.30" height="32.90" fill="none" stroke="#78797b" stroke-width="0.8"/>
<path d="M415.64,229.0V359.4M419.37,229.0V359.4M423.10,229.0V359.4M426.83,229.0V359.4M430.56,229.0V359.4M434.29,229.0V359.4M438.02,229.0V359.4M441.75,229.0V359.4M445.48,229.0V359.4M411.91,233.68H449.21M411.91,238.36H449.21M411.91,243.04H449.21M411.91,247.72H449.21M411.91,252.40H449.21M411.91,257.08H449.21M411.91,261.76H449.21M411.91,266.44H449.21M411.91,271.12H449.21M411.91,275.80H449.21M411.91,280.48H449.21M411.91,285.16H449.21M411.91,289.84H449.21M411.91,294.52H449.21M411.91,299.20H449.21M411.91,303.88H449.21M411.91,308.56H449.21M411.91,313.24H449.21M411.91,317.92H449.21M411.91,327.20H449.21M411.91,331.80H449.21M411.91,336.40H449.21M411.91,341.00H449.21M411.91,345.60H449.21M411.91,350.20H449.21M411.91,354.80H449.21" stroke="#efefef" stroke-width="0.5" fill="none"/>
<path d="M411.93,233.04 L415.63,233.04 L413.78,229.64 Z" fill="#9a2fe6"/>
<path d="M415.66,233.04 L419.36,233.04 L417.51,229.64 Z" fill="#1b3da0"/>
<path d="M419.38,233.04 L423.09,233.04 L421.24,229.64 Z" fill="#9a2fe6"/>
<rect x="423.42" y="229.39" width="3.1" height="3.9" fill="#2ee3a5"/>
<path d="M426.85,233.04 L430.55,233.04 L428.70,229.64 Z" fill="#1b3da0"/>
<path d="M430.57,233.04 L434.28,233.04 L432.43,229.64 Z" fill="#9a2fe6"/>
<path d="M434.31,233.04 L438.01,233.04 L436.16,229.64 Z" fill="#9a2fe6"/>
<path d="M438.04,233.04 L441.74,233.04 L439.89,229.64 Z" fill="#1b3da0"/>
<path d="M441.76,233.04 L445.47,233.04 L443.62,229.64 Z" fill="#9a2fe6"/>
<path d="M445.50,233.04 L449.20,233.04 L447.35,229.64 Z" fill="#9a2fe6"/>
<path d="M426.85,261.12 L430.55,261.12 L428.70,257.72 Z" fill="#1b3da0"/>
<rect x="430.88" y="262.15" width="3.1" height="3.9" fill="#2ee3a5"/>
<rect x="415.96" y="276.19" width="3.1" height="3.9" fill="#2ee3a5"/>
<rect x="412.23" y="322.95" width="3.1" height="3.9" fill="#2ee3a5"/>
<rect x="415.96" y="322.95" width="3.1" height="3.9" fill="#2ee3a5"/>
<rect x="419.69" y="322.95" width="3.1" height="3.9" fill="#2ee3a5"/>
<rect x="423.42" y="327.55" width="3.1" height="3.9" fill="#d9600e"/>
<rect x="412.23" y="332.15" width="3.1" height="3.9" fill="#2ee3a5"/>
<rect x="412.23" y="341.35" width="3.1" height="3.9" fill="#d9600e"/>
<rect x="412.23" y="345.95" width="3.1" height="3.9" fill="#d9600e"/>
<rect x="412.23" y="350.55" width="3.1" height="3.9" fill="#d9600e"/>
<rect x="411.91" y="229.0" width="37.30" height="130.40" fill="none" stroke="#78797b" stroke-width="0.8"/>
<line x1="411.91" x2="449.21" y1="322.6" y2="322.6" stroke="#78797b" stroke-width="0.8"/>
<rect x="411.91" y="361.3" width="3.78" height="7.70" fill="#8552a8"/>
<rect x="415.64" y="361.3" width="3.78" height="7.70" fill="#a0bddf"/>
<rect x="419.37" y="361.3" width="3.78" height="7.70" fill="#8552a8"/>
<rect x="423.10" y="361.3" width="3.78" height="7.70" fill="#8552a8"/>
<rect x="426.83" y="361.3" width="3.78" height="7.70" fill="#a0bddf"/>
<rect x="430.56" y="361.3" width="3.78" height="7.70" fill="#8552a8"/>
<rect x="434.29" y="361.3" width="3.78" height="7.70" fill="#8552a8"/>
<rect x="438.02" y="361.3" width="3.78" height="7.70" fill="#a0bddf"/>
<rect x="441.75" y="361.3" width="3.78" height="7.70" fill="#a0bddf"/>
<rect x="445.48" y="361.3" width="3.78" height="7.70" fill="#a0bddf"/>
<rect x="411.91" y="370.4" width="37.30" height="32.90" fill="#ffffff"/>
<rect x="412.21" y="371.00" width="3.13" height="31.70" fill="#e1e2e6" stroke="#4d4d4f" stroke-width="0.55"/>
<rect x="412.21" y="371.99" width="3.13" height="3.61" fill="#57b2ee" stroke="#58595b" stroke-width="0.35"/>
<rect x="412.21" y="375.60" width="3.13" height="27.10" fill="#f0946d" stroke="#58595b" stroke-width="0.35"/>
<rect x="415.94" y="371.00" width="3.13" height="31.70" fill="#e1e2e6" stroke="#4d4d4f" stroke-width="0.55"/>
<rect x="415.94" y="372.64" width="3.13" height="2.63" fill="#57b2ee" stroke="#58595b" stroke-width="0.35"/>
<rect x="415.94" y="375.27" width="3.13" height="27.43" fill="#f0946d" stroke="#58595b" stroke-width="0.35"/>
<rect x="419.67" y="371.00" width="3.13" height="31.70" fill="#e1e2e6" stroke="#4d4d4f" stroke-width="0.55"/>
<rect x="419.67" y="372.31" width="3.13" height="1.97" fill="#57b2ee" stroke="#58595b" stroke-width="0.35"/>
<rect x="419.67" y="374.28" width="3.13" height="28.42" fill="#f0946d" stroke="#58595b" stroke-width="0.35"/>
<rect x="423.40" y="371.00" width="3.13" height="31.70" fill="#e1e2e6" stroke="#4d4d4f" stroke-width="0.55"/>
<rect x="423.40" y="378.88" width="3.13" height="2.96" fill="#57b2ee" stroke="#58595b" stroke-width="0.35"/>
<rect x="423.40" y="381.84" width="3.13" height="20.86" fill="#f0946d" stroke="#58595b" stroke-width="0.35"/>
<rect x="427.13" y="371.00" width="3.13" height="31.70" fill="#e1e2e6" stroke="#4d4d4f" stroke-width="0.55"/>
<rect x="427.13" y="381.35" width="3.13" height="2.46" fill="#57b2ee" stroke="#58595b" stroke-width="0.35"/>
<rect x="427.13" y="383.81" width="3.13" height="18.89" fill="#f0946d" stroke="#58595b" stroke-width="0.35"/>
<rect x="430.86" y="371.00" width="3.13" height="31.70" fill="#e1e2e6" stroke="#4d4d4f" stroke-width="0.55"/>
<rect x="430.86" y="372.64" width="3.13" height="2.63" fill="#57b2ee" stroke="#58595b" stroke-width="0.35"/>
<rect x="430.86" y="375.27" width="3.13" height="27.43" fill="#f0946d" stroke="#58595b" stroke-width="0.35"/>
<rect x="434.59" y="371.00" width="3.13" height="31.70" fill="#e1e2e6" stroke="#4d4d4f" stroke-width="0.55"/>
<rect x="434.59" y="397.77" width="3.13" height="4.93" fill="#f0946d" stroke="#58595b" stroke-width="0.35"/>
<rect x="438.32" y="371.00" width="3.13" height="31.70" fill="#e1e2e6" stroke="#4d4d4f" stroke-width="0.55"/>
<rect x="438.32" y="373.14" width="3.13" height="2.46" fill="#57b2ee" stroke="#58595b" stroke-width="0.35"/>
<rect x="438.32" y="375.60" width="3.13" height="27.10" fill="#f0946d" stroke="#58595b" stroke-width="0.35"/>
<rect x="442.05" y="371.00" width="3.13" height="31.70" fill="#e1e2e6" stroke="#4d4d4f" stroke-width="0.55"/>
<rect x="445.78" y="371.00" width="3.13" height="31.70" fill="#e1e2e6" stroke="#4d4d4f" stroke-width="0.55"/>
<rect x="445.78" y="378.88" width="3.13" height="5.75" fill="#57b2ee" stroke="#58595b" stroke-width="0.35"/>
<rect x="445.78" y="384.63" width="3.13" height="18.07" fill="#f0946d" stroke="#58595b" stroke-width="0.35"/>
<line x1="411.91" x2="449.21" y1="386.85" y2="386.85" stroke="#999" stroke-width="0.4" stroke-dasharray="1,1.2"/>
<rect x="411.91" y="370.4" width="37.30" height="32.90" fill="none" stroke="#78797b" stroke-width="0.8"/>
<rect x="411.91" y="426.21" width="3.73" height="10.99" fill="#f2584a" stroke="#4a4a4a" stroke-width="0.3"/>
<rect x="411.91" y="410.99" width="3.73" height="15.22" fill="#5b9bb8" stroke="#4a4a4a" stroke-width="0.3"/>
<rect x="411.91" y="409.30" width="3.73" height="1.69" fill="#f5c86f" stroke="#4a4a4a" stroke-width="0.3"/>
<rect x="411.91" y="404.30" width="3.73" height="5.00" fill="#9fd79b" stroke="#4a4a4a" stroke-width="0.3"/>
<rect x="415.64" y="425.03" width="3.73" height="12.17" fill="#f2584a" stroke="#4a4a4a" stroke-width="0.3"/>
<rect x="415.64" y="410.99" width="3.73" height="14.03" fill="#5b9bb8" stroke="#4a4a4a" stroke-width="0.3"/>
<rect x="415.64" y="409.30" width="3.73" height="1.69" fill="#f5c86f" stroke="#4a4a4a" stroke-width="0.3"/>
<rect x="415.64" y="404.30" width="3.73" height="5.00" fill="#9fd79b" stroke="#4a4a4a" stroke-width="0.3"/>
<rect x="419.37" y="425.70" width="3.73" height="11.50" fill="#f2584a" stroke="#4a4a4a" stroke-width="0.3"/>
<rect x="419.37" y="414.38" width="3.73" height="11.33" fill="#5b9bb8" stroke="#4a4a4a" stroke-width="0.3"/>
<rect x="419.37" y="411.84" width="3.73" height="2.54" fill="#f5c86f" stroke="#4a4a4a" stroke-width="0.3"/>
<rect x="419.37" y="404.30" width="3.73" height="7.54" fill="#9fd79b" stroke="#4a4a4a" stroke-width="0.3"/>
<rect x="423.10" y="425.03" width="3.73" height="12.17" fill="#f2584a" stroke="#4a4a4a" stroke-width="0.3"/>
<rect x="423.10" y="413.53" width="3.73" height="11.50" fill="#5b9bb8" stroke="#4a4a4a" stroke-width="0.3"/>
<rect x="423.10" y="410.99" width="3.73" height="2.54" fill="#f5c86f" stroke="#4a4a4a" stroke-width="0.3"/>
<rect x="423.10" y="404.30" width="3.73" height="6.69" fill="#9fd79b" stroke="#4a4a4a" stroke-width="0.3"/>
<rect x="426.83" y="425.70" width="3.73" height="11.50" fill="#f2584a" stroke="#4a4a4a" stroke-width="0.3"/>
<rect x="426.83" y="413.53" width="3.73" height="12.17" fill="#5b9bb8" stroke="#4a4a4a" stroke-width="0.3"/>
<rect x="426.83" y="410.49" width="3.73" height="3.04" fill="#f5c86f" stroke="#4a4a4a" stroke-width="0.3"/>
<rect x="426.83" y="404.30" width="3.73" height="6.19" fill="#9fd79b" stroke="#4a4a4a" stroke-width="0.3"/>
<rect x="430.56" y="426.72" width="3.73" height="10.48" fill="#f2584a" stroke="#4a4a4a" stroke-width="0.3"/>
<rect x="430.56" y="416.57" width="3.73" height="10.14" fill="#5b9bb8" stroke="#4a4a4a" stroke-width="0.3"/>
<rect x="430.56" y="413.53" width="3.73" height="3.04" fill="#f5c86f" stroke="#4a4a4a" stroke-width="0.3"/>
<rect x="430.56" y="404.30" width="3.73" height="9.23" fill="#9fd79b" stroke="#4a4a4a" stroke-width="0.3"/>
<rect x="434.29" y="427.39" width="3.73" height="9.81" fill="#f2584a" stroke="#4a4a4a" stroke-width="0.3"/>
<rect x="434.29" y="415.22" width="3.73" height="12.17" fill="#5b9bb8" stroke="#4a4a4a" stroke-width="0.3"/>
<rect x="434.29" y="410.99" width="3.73" height="4.23" fill="#f5c86f" stroke="#4a4a4a" stroke-width="0.3"/>
<rect x="434.29" y="404.30" width="3.73" height="6.69" fill="#9fd79b" stroke="#4a4a4a" stroke-width="0.3"/>
<rect x="438.02" y="425.70" width="3.73" height="11.50" fill="#f2584a" stroke="#4a4a4a" stroke-width="0.3"/>
<rect x="438.02" y="414.38" width="3.73" height="11.33" fill="#5b9bb8" stroke="#4a4a4a" stroke-width="0.3"/>
<rect x="438.02" y="410.99" width="3.73" height="3.38" fill="#f5c86f" stroke="#4a4a4a" stroke-width="0.3"/>
<rect x="438.02" y="404.30" width="3.73" height="6.69" fill="#9fd79b" stroke="#4a4a4a" stroke-width="0.3"/>
<rect x="441.75" y="423.67" width="3.73" height="13.53" fill="#f2584a" stroke="#4a4a4a" stroke-width="0.3"/>
<rect x="441.75" y="417.76" width="3.73" height="5.92" fill="#5b9bb8" stroke="#4a4a4a" stroke-width="0.3"/>
<rect x="441.75" y="410.15" width="3.73" height="7.61" fill="#f5c86f" stroke="#4a4a4a" stroke-width="0.3"/>
<rect x="441.75" y="404.30" width="3.73" height="5.85" fill="#9fd79b" stroke="#4a4a4a" stroke-width="0.3"/>
<rect x="445.48" y="430.78" width="3.73" height="6.42" fill="#f2584a" stroke="#4a4a4a" stroke-width="0.3"/>
<rect x="445.48" y="414.38" width="3.73" height="16.40" fill="#5b9bb8" stroke="#4a4a4a" stroke-width="0.3"/>
<rect x="445.48" y="410.49" width="3.73" height="3.89" fill="#f5c86f" stroke="#4a4a4a" stroke-width="0.3"/>
<rect x="445.48" y="404.30" width="3.73" height="6.19" fill="#9fd79b" stroke="#4a4a4a" stroke-width="0.3"/>
<line x1="411.91" x2="449.21" y1="420.75" y2="420.75" stroke="#777" stroke-width="0.4" stroke-dasharray="1,1.2" opacity="0.6"/>
<rect x="411.91" y="404.3" width="37.30" height="32.90" fill="none" stroke="#78797b" stroke-width="0.8"/>
<text x="477.73" y="179.50" font-size="6.5" text-anchor="middle" fill="#231f20" >Germline</text>
<line x1="464.14" x2="491.31" y1="183.2" y2="183.2" stroke="#78797b" stroke-width="0.7"/>
<text x="477.73" y="190.00" font-size="6.0" text-anchor="middle" fill="#231f20" ><tspan font-style="italic">BRCA2</tspan></text>
<line x1="457.21" x2="498.24" y1="196.1" y2="196.1" stroke="#b3b3b3" stroke-width="0.5" stroke-dasharray="1.3,1.3"/>
<line x1="457.21" x2="498.24" y1="206.6" y2="206.6" stroke="#b3b3b3" stroke-width="0.5" stroke-dasharray="1.3,1.3"/>
<line x1="457.21" x2="498.24" y1="217.1" y2="217.1" stroke="#b3b3b3" stroke-width="0.5" stroke-dasharray="1.3,1.3"/>
<rect x="457.56" y="222.25" width="3.03" height="5.15" fill="#dba6ea"/>
<rect x="457.56" y="211.95" width="3.03" height="10.30" fill="#2ee3a5"/>
<rect x="461.29" y="222.25" width="3.03" height="5.15" fill="#8697aa"/>
<rect x="461.29" y="217.10" width="3.03" height="5.15" fill="#2ee3a5"/>
<rect x="461.29" y="211.95" width="3.03" height="5.15" fill="#f4a800"/>
<rect x="465.02" y="222.25" width="3.03" height="5.15" fill="#8ecbe0"/>
<rect x="465.02" y="217.10" width="3.03" height="5.15" fill="#2ee3a5"/>
<rect x="465.02" y="211.95" width="3.03" height="5.15" fill="#1b3da0"/>
<rect x="468.75" y="222.25" width="3.03" height="5.15" fill="#dba6ea"/>
<rect x="468.75" y="217.10" width="3.03" height="5.15" fill="#9a2fe6"/>
<rect x="468.75" y="211.95" width="3.03" height="5.15" fill="#c2651b"/>
<rect x="472.48" y="222.25" width="3.03" height="5.15" fill="#1c8a6a"/>
<rect x="472.48" y="211.95" width="3.03" height="10.30" fill="#2ee3a5"/>
<rect x="476.21" y="222.25" width="3.03" height="5.15" fill="#dba6ea"/>
<rect x="476.21" y="217.10" width="3.03" height="5.15" fill="#9a2fe6"/>
<rect x="479.94" y="222.25" width="3.03" height="5.15" fill="#dba6ea"/>
<rect x="479.94" y="217.10" width="3.03" height="5.15" fill="#1b3da0"/>
<rect x="483.67" y="222.25" width="3.03" height="5.15" fill="#dba6ea"/>
<rect x="487.40" y="222.25" width="3.03" height="5.15" fill="#dba6ea"/>
<rect x="491.13" y="222.25" width="3.03" height="5.15" fill="#dba6ea"/>
<rect x="494.86" y="222.25" width="3.03" height="5.15" fill="#dba6ea"/>
<rect x="457.21" y="194.5" width="41.03" height="32.90" fill="none" stroke="#78797b" stroke-width="0.8"/>
<path d="M460.94,229.0V359.4M464.67,229.0V359.4M468.40,229.0V359.4M472.13,229.0V359.4M475.86,229.0V359.4M479.59,229.0V359.4M483.32,229.0V359.4M487.05,229.0V359.4M490.78,229.0V359.4M494.51,229.0V359.4M457.21,233.68H498.24M457.21,238.36H498.24M457.21,243.04H498.24M457.21,247.72H498.24M457.21,252.40H498.24M457.21,257.08H498.24M457.21,261.76H498.24M457.21,266.44H498.24M457.21,271.12H498.24M457.21,275.80H498.24M457.21,280.48H498.24M457.21,285.16H498.24M457.21,289.84H498.24M457.21,294.52H498.24M457.21,299.20H498.24M457.21,303.88H498.24M457.21,308.56H498.24M457.21,313.24H498.24M457.21,317.92H498.24M457.21,327.20H498.24M457.21,331.80H498.24M457.21,336.40H498.24M457.21,341.00H498.24M457.21,345.60H498.24M457.21,350.20H498.24M457.21,354.80H498.24" stroke="#efefef" stroke-width="0.5" fill="none"/>
<rect x="457.53" y="229.39" width="3.1" height="3.9" fill="#2ee3a5"/>
<path d="M457.23,237.72 L460.93,237.72 L459.08,234.32 Z" fill="#dba6ea"/>
<path d="M460.96,237.72 L464.66,237.72 L462.81,234.32 Z" fill="#8697aa"/>
<path d="M464.69,237.72 L468.39,237.72 L466.54,234.32 Z" fill="#8ecbe0"/>
<path d="M468.42,237.72 L472.12,237.72 L470.27,234.32 Z" fill="#dba6ea"/>
<rect x="472.45" y="234.07" width="3.1" height="3.9" fill="#1c8a6a"/>
<path d="M475.88,237.72 L479.58,237.72 L477.73,234.32 Z" fill="#dba6ea"/>
<path d="M479.61,237.72 L483.31,237.72 L481.46,234.32 Z" fill="#dba6ea"/>
<path d="M483.34,237.72 L487.04,237.72 L485.19,234.32 Z" fill="#dba6ea"/>
<path d="M487.06,237.72 L490.77,237.72 L488.92,234.32 Z" fill="#dba6ea"/>
<path d="M490.80,237.72 L494.50,237.72 L492.65,234.32 Z" fill="#dba6ea"/>
<path d="M494.53,237.72 L498.23,237.72 L496.38,234.32 Z" fill="#dba6ea"/>
<rect x="457.53" y="238.75" width="3.1" height="3.9" fill="#2ee3a5"/>
<rect x="461.26" y="238.75" width="3.1" height="3.9" fill="#2ee3a5"/>
<rect x="472.45" y="262.15" width="3.1" height="3.9" fill="#2ee3a5"/>
<path d="M479.61,317.28 L483.31,317.28 L481.46,313.88 Z" fill="#1b3da0"/>
<path d="M460.96,326.60 L464.66,326.60 L462.81,323.20 Z" fill="#f4a800"/>
<path d="M464.69,326.60 L468.39,326.60 L466.54,323.20 Z" fill="#1b3da0"/>
<path d="M468.42,326.60 L472.12,326.60 L470.27,323.20 Z" fill="#9a2fe6"/>
<rect x="472.45" y="322.95" width="3.1" height="3.9" fill="#2ee3a5"/>
<path d="M475.88,326.60 L479.58,326.60 L477.73,323.20 Z" fill="#9a2fe6"/>
<rect x="464.99" y="332.15" width="3.1" height="3.9" fill="#2ee3a5"/>
<path d="M468.42,335.80 L472.12,335.80 L470.27,332.40 Z" fill="#c2651b"/>
<rect x="457.21" y="229.0" width="41.03" height="130.40" fill="none" stroke="#78797b" stroke-width="0.8"/>
<line x1="457.21" x2="498.24" y1="322.6" y2="322.6" stroke="#78797b" stroke-width="0.8"/>
<rect x="457.21" y="361.3" width="3.78" height="7.70" fill="#8552a8"/>
<rect x="460.94" y="361.3" width="3.78" height="7.70" fill="#a0bddf"/>
<rect x="464.67" y="361.3" width="3.78" height="7.70" fill="#8552a8"/>
<rect x="468.40" y="361.3" width="3.78" height="7.70" fill="#8552a8"/>
<rect x="472.13" y="361.3" width="3.78" height="7.70" fill="#8552a8"/>
<rect x="475.86" y="361.3" width="3.78" height="7.70" fill="#8552a8"/>
<rect x="479.59" y="361.3" width="3.78" height="7.70" fill="#8552a8"/>
<rect x="483.32" y="361.3" width="3.78" height="7.70" fill="#8552a8"/>
<rect x="487.05" y="361.3" width="3.78" height="7.70" fill="#a0bddf"/>
<rect x="490.78" y="361.3" width="3.78" height="7.70" fill="#8552a8"/>
<rect x="494.51" y="361.3" width="3.78" height="7.70" fill="#8552a8"/>
<rect x="457.21" y="370.4" width="41.03" height="32.90" fill="#ffffff"/>
<rect x="457.51" y="371.00" width="3.13" height="31.70" fill="#e1e2e6" stroke="#4d4d4f" stroke-width="0.55"/>
<rect x="457.51" y="373.61" width="3.13" height="20.06" fill="#57b2ee" stroke="#58595b" stroke-width="0.35"/>
<rect x="457.51" y="393.67" width="3.13" height="9.03" fill="#f0946d" stroke="#58595b" stroke-width="0.35"/>
<rect x="461.24" y="371.00" width="3.13" height="31.70" fill="#e1e2e6" stroke="#4d4d4f" stroke-width="0.55"/>
<rect x="461.24" y="373.61" width="3.13" height="28.09" fill="#57b2ee" stroke="#58595b" stroke-width="0.35"/>
<rect x="461.24" y="401.70" width="3.13" height="1.00" fill="#f0946d" stroke="#58595b" stroke-width="0.35"/>
<rect x="464.97" y="371.00" width="3.13" height="31.70" fill="#e1e2e6" stroke="#4d4d4f" stroke-width="0.55"/>
<rect x="464.97" y="372.20" width="3.13" height="29.49" fill="#57b2ee" stroke="#58595b" stroke-width="0.35"/>
<rect x="464.97" y="401.70" width="3.13" height="1.00" fill="#f0946d" stroke="#58595b" stroke-width="0.35"/>
<rect x="468.70" y="371.00" width="3.13" height="31.70" fill="#e1e2e6" stroke="#4d4d4f" stroke-width="0.55"/>
<rect x="468.70" y="372.61" width="3.13" height="27.09" fill="#57b2ee" stroke="#58595b" stroke-width="0.35"/>
<rect x="468.70" y="399.69" width="3.13" height="3.01" fill="#f0946d" stroke="#58595b" stroke-width="0.35"/>
<rect x="472.43" y="371.00" width="3.13" height="31.70" fill="#e1e2e6" stroke="#4d4d4f" stroke-width="0.55"/>
<rect x="472.43" y="374.21" width="3.13" height="24.48" fill="#57b2ee" stroke="#58595b" stroke-width="0.35"/>
<rect x="472.43" y="398.69" width="3.13" height="4.01" fill="#f0946d" stroke="#58595b" stroke-width="0.35"/>
<rect x="476.16" y="371.00" width="3.13" height="31.70" fill="#e1e2e6" stroke="#4d4d4f" stroke-width="0.55"/>
<rect x="476.16" y="372.61" width="3.13" height="23.07" fill="#57b2ee" stroke="#58595b" stroke-width="0.35"/>
<rect x="476.16" y="395.68" width="3.13" height="7.02" fill="#f0946d" stroke="#58595b" stroke-width="0.35"/>
<rect x="479.89" y="371.00" width="3.13" height="31.70" fill="#e1e2e6" stroke="#4d4d4f" stroke-width="0.55"/>
<rect x="479.89" y="372.20" width="3.13" height="29.49" fill="#57b2ee" stroke="#58595b" stroke-width="0.35"/>
<rect x="479.89" y="401.70" width="3.13" height="1.00" fill="#f0946d" stroke="#58595b" stroke-width="0.35"/>
<rect x="483.62" y="371.00" width="3.13" height="31.70" fill="#e1e2e6" stroke="#4d4d4f" stroke-width="0.55"/>
<rect x="483.62" y="372.20" width="3.13" height="29.49" fill="#57b2ee" stroke="#58595b" stroke-width="0.35"/>
<rect x="483.62" y="401.70" width="3.13" height="1.00" fill="#f0946d" stroke="#58595b" stroke-width="0.35"/>
<rect x="487.35" y="371.00" width="3.13" height="31.70" fill="#e1e2e6" stroke="#4d4d4f" stroke-width="0.55"/>
<rect x="487.35" y="374.61" width="3.13" height="27.09" fill="#57b2ee" stroke="#58595b" stroke-width="0.35"/>
<rect x="487.35" y="401.70" width="3.13" height="1.00" fill="#f0946d" stroke="#58595b" stroke-width="0.35"/>
<rect x="491.08" y="371.00" width="3.13" height="31.70" fill="#e1e2e6" stroke="#4d4d4f" stroke-width="0.55"/>
<rect x="491.08" y="378.22" width="3.13" height="22.87" fill="#57b2ee" stroke="#58595b" stroke-width="0.35"/>
<rect x="491.08" y="401.09" width="3.13" height="1.61" fill="#f0946d" stroke="#58595b" stroke-width="0.35"/>
<rect x="494.81" y="371.00" width="3.13" height="31.70" fill="#e1e2e6" stroke="#4d4d4f" stroke-width="0.55"/>
<rect x="494.81" y="373.61" width="3.13" height="27.49" fill="#57b2ee" stroke="#58595b" stroke-width="0.35"/>
<rect x="494.81" y="401.09" width="3.13" height="1.61" fill="#f0946d" stroke="#58595b" stroke-width="0.35"/>
<line x1="457.21" x2="498.24" y1="386.85" y2="386.85" stroke="#999" stroke-width="0.4" stroke-dasharray="1,1.2"/>
<rect x="457.21" y="370.4" width="41.03" height="32.90" fill="none" stroke="#78797b" stroke-width="0.8"/>
<rect x="457.21" y="431.82" width="3.73" height="5.38" fill="#f2584a" stroke="#4a4a4a" stroke-width="0.3"/>
<rect x="457.21" y="410.32" width="3.73" height="21.50" fill="#5b9bb8" stroke="#4a4a4a" stroke-width="0.3"/>
<rect x="457.21" y="408.17" width="3.73" height="2.15" fill="#f5c86f" stroke="#4a4a4a" stroke-width="0.3"/>
<rect x="457.21" y="404.30" width="3.73" height="3.87" fill="#9fd79b" stroke="#4a4a4a" stroke-width="0.3"/>
<rect x="460.94" y="433.97" width="3.73" height="3.23" fill="#f2584a" stroke="#4a4a4a" stroke-width="0.3"/>
<rect x="460.94" y="413.55" width="3.73" height="20.43" fill="#5b9bb8" stroke="#4a4a4a" stroke-width="0.3"/>
<rect x="460.94" y="409.25" width="3.73" height="4.30" fill="#f5c86f" stroke="#4a4a4a" stroke-width="0.3"/>
<rect x="460.94" y="404.30" width="3.73" height="4.95" fill="#9fd79b" stroke="#4a4a4a" stroke-width="0.3"/>
<rect x="464.67" y="435.48" width="3.73" height="1.72" fill="#f2584a" stroke="#4a4a4a" stroke-width="0.3"/>
<rect x="464.67" y="412.47" width="3.73" height="23.01" fill="#5b9bb8" stroke="#4a4a4a" stroke-width="0.3"/>
<rect x="464.67" y="408.82" width="3.73" height="3.66" fill="#f5c86f" stroke="#4a4a4a" stroke-width="0.3"/>
<rect x="464.67" y="404.30" width="3.73" height="4.52" fill="#9fd79b" stroke="#4a4a4a" stroke-width="0.3"/>
<rect x="468.40" y="433.97" width="3.73" height="3.23" fill="#f2584a" stroke="#4a4a4a" stroke-width="0.3"/>
<rect x="468.40" y="411.40" width="3.73" height="22.58" fill="#5b9bb8" stroke="#4a4a4a" stroke-width="0.3"/>
<rect x="468.40" y="408.17" width="3.73" height="3.23" fill="#f5c86f" stroke="#4a4a4a" stroke-width="0.3"/>
<rect x="468.40" y="404.30" width="3.73" height="3.87" fill="#9fd79b" stroke="#4a4a4a" stroke-width="0.3"/>
<rect x="472.13" y="434.62" width="3.73" height="2.58" fill="#f2584a" stroke="#4a4a4a" stroke-width="0.3"/>
<rect x="472.13" y="413.98" width="3.73" height="20.64" fill="#5b9bb8" stroke="#4a4a4a" stroke-width="0.3"/>
<rect x="472.13" y="410.32" width="3.73" height="3.66" fill="#f5c86f" stroke="#4a4a4a" stroke-width="0.3"/>
<rect x="472.13" y="404.30" width="3.73" height="6.02" fill="#9fd79b" stroke="#4a4a4a" stroke-width="0.3"/>
<rect x="475.86" y="436.12" width="3.73" height="1.08" fill="#f2584a" stroke="#4a4a4a" stroke-width="0.3"/>
<rect x="475.86" y="412.47" width="3.73" height="23.65" fill="#5b9bb8" stroke="#4a4a4a" stroke-width="0.3"/>
<rect x="475.86" y="409.25" width="3.73" height="3.23" fill="#f5c86f" stroke="#4a4a4a" stroke-width="0.3"/>
<rect x="475.86" y="404.30" width="3.73" height="4.95" fill="#9fd79b" stroke="#4a4a4a" stroke-width="0.3"/>
<rect x="479.59" y="436.12" width="3.73" height="1.08" fill="#f2584a" stroke="#4a4a4a" stroke-width="0.3"/>
<rect x="479.59" y="411.40" width="3.73" height="24.73" fill="#5b9bb8" stroke="#4a4a4a" stroke-width="0.3"/>
<rect x="479.59" y="408.17" width="3.73" height="3.23" fill="#f5c86f" stroke="#4a4a4a" stroke-width="0.3"/>
<rect x="479.59" y="404.30" width="3.73" height="3.87" fill="#9fd79b" stroke="#4a4a4a" stroke-width="0.3"/>
<rect x="483.32" y="435.05" width="3.73" height="2.15" fill="#f2584a" stroke="#4a4a4a" stroke-width="0.3"/>
<rect x="483.32" y="410.32" width="3.73" height="24.73" fill="#5b9bb8" stroke="#4a4a4a" stroke-width="0.3"/>
<rect x="483.32" y="408.82" width="3.73" height="1.51" fill="#f5c86f" stroke="#4a4a4a" stroke-width="0.3"/>
<rect x="483.32" y="404.30" width="3.73" height="4.52" fill="#9fd79b" stroke="#4a4a4a" stroke-width="0.3"/>
<rect x="487.05" y="434.62" width="3.73" height="2.58" fill="#f2584a" stroke="#4a4a4a" stroke-width="0.3"/>
<rect x="487.05" y="411.40" width="3.73" height="23.22" fill="#5b9bb8" stroke="#4a4a4a" stroke-width="0.3"/>
<rect x="487.05" y="410.32" width="3.73" height="1.08" fill="#f5c86f" stroke="#4a4a4a" stroke-width="0.3"/>
<rect x="487.05" y="404.30" width="3.73" height="6.02" fill="#9fd79b" stroke="#4a4a4a" stroke-width="0.3"/>
<rect x="490.78" y="435.69" width="3.73" height="1.51" fill="#f2584a" stroke="#4a4a4a" stroke-width="0.3"/>
<rect x="490.78" y="417.85" width="3.73" height="17.85" fill="#5b9bb8" stroke="#4a4a4a" stroke-width="0.3"/>
<rect x="490.78" y="412.47" width="3.73" height="5.38" fill="#f5c86f" stroke="#4a4a4a" stroke-width="0.3"/>
<rect x="490.78" y="404.30" width="3.73" height="8.17" fill="#9fd79b" stroke="#4a4a4a" stroke-width="0.3"/>
<rect x="494.51" y="435.05" width="3.73" height="2.15" fill="#f2584a" stroke="#4a4a4a" stroke-width="0.3"/>
<rect x="494.51" y="415.70" width="3.73" height="19.35" fill="#5b9bb8" stroke="#4a4a4a" stroke-width="0.3"/>
<rect x="494.51" y="411.40" width="3.73" height="4.30" fill="#f5c86f" stroke="#4a4a4a" stroke-width="0.3"/>
<rect x="494.51" y="404.30" width="3.73" height="7.10" fill="#9fd79b" stroke="#4a4a4a" stroke-width="0.3"/>
<line x1="457.21" x2="498.24" y1="420.75" y2="420.75" stroke="#777" stroke-width="0.4" stroke-dasharray="1,1.2" opacity="0.6"/>
<rect x="457.21" y="404.3" width="41.03" height="32.90" fill="none" stroke="#78797b" stroke-width="0.8"/>
<text x="515.57" y="179.50" font-size="6.5" text-anchor="middle" fill="#231f20" >Somatic</text>
<line x1="503.43" x2="527.70" y1="183.2" y2="183.2" stroke="#78797b" stroke-width="0.7"/>
<text x="515.57" y="190.00" font-size="6.0" text-anchor="middle" fill="#231f20" ><tspan font-style="italic">BRCA2</tspan></text>
<line x1="506.24" x2="524.89" y1="196.1" y2="196.1" stroke="#b3b3b3" stroke-width="0.5" stroke-dasharray="1.3,1.3"/>
<line x1="506.24" x2="524.89" y1="206.6" y2="206.6" stroke="#b3b3b3" stroke-width="0.5" stroke-dasharray="1.3,1.3"/>
<line x1="506.24" x2="524.89" y1="217.1" y2="217.1" stroke="#b3b3b3" stroke-width="0.5" stroke-dasharray="1.3,1.3"/>
<rect x="506.59" y="217.10" width="3.03" height="10.30" fill="#2ee3a5"/>
<rect x="506.59" y="211.95" width="3.03" height="5.15" fill="#9a2fe6"/>
<rect x="510.32" y="222.25" width="3.03" height="5.15" fill="#2ee3a5"/>
<rect x="510.32" y="217.10" width="3.03" height="5.15" fill="#1b3da0"/>
<rect x="514.05" y="222.25" width="3.03" height="5.15" fill="#2ee3a5"/>
<rect x="517.78" y="222.25" width="3.03" height="5.15" fill="#9a2fe6"/>
<rect x="521.51" y="222.25" width="3.03" height="5.15" fill="#1b3da0"/>
<rect x="506.24" y="194.5" width="18.65" height="32.90" fill="none" stroke="#78797b" stroke-width="0.8"/>
<path d="M509.97,229.0V359.4M513.70,229.0V359.4M517.43,229.0V359.4M521.16,229.0V359.4M506.24,233.68H524.89M506.24,238.36H524.89M506.24,243.04H524.89M506.24,247.72H524.89M506.24,252.40H524.89M506.24,257.08H524.89M506.24,261.76H524.89M506.24,266.44H524.89M506.24,271.12H524.89M506.24,275.80H524.89M506.24,280.48H524.89M506.24,285.16H524.89M506.24,289.84H524.89M506.24,294.52H524.89M506.24,299.20H524.89M506.24,303.88H524.89M506.24,308.56H524.89M506.24,313.24H524.89M506.24,317.92H524.89M506.24,327.20H524.89M506.24,331.80H524.89M506.24,336.40H524.89M506.24,341.00H524.89M506.24,345.60H524.89M506.24,350.20H524.89M506.24,354.80H524.89" stroke="#efefef" stroke-width="0.5" fill="none"/>
<path d="M506.25,237.72 L509.96,237.72 L508.11,234.32 Z" fill="#9a2fe6"/>
<path d="M509.99,237.72 L513.69,237.72 L511.84,234.32 Z" fill="#1b3da0"/>
<rect x="514.02" y="234.07" width="3.1" height="3.9" fill="#2ee3a5"/>
<path d="M517.44,237.72 L521.14,237.72 L519.29,234.32 Z" fill="#9a2fe6"/>
<path d="M521.17,237.72 L524.88,237.72 L523.02,234.32 Z" fill="#1b3da0"/>
<rect x="506.56" y="322.95" width="3.1" height="3.9" fill="#2ee3a5"/>
<rect x="510.29" y="322.95" width="3.1" height="3.9" fill="#2ee3a5"/>
<rect x="506.24" y="229.0" width="18.65" height="130.40" fill="none" stroke="#78797b" stroke-width="0.8"/>
<line x1="506.24" x2="524.89" y1="322.6" y2="322.6" stroke="#78797b" stroke-width="0.8"/>
<rect x="506.24" y="361.3" width="3.78" height="7.70" fill="#8552a8"/>
<rect x="509.97" y="361.3" width="3.78" height="7.70" fill="#a0bddf"/>
<rect x="513.70" y="361.3" width="3.78" height="7.70" fill="#8552a8"/>
<rect x="517.43" y="361.3" width="3.78" height="7.70" fill="#8552a8"/>
<rect x="521.16" y="361.3" width="3.78" height="7.70" fill="#dee9f5"/>
<rect x="506.24" y="370.4" width="18.65" height="32.90" fill="#ffffff"/>
<rect x="506.54" y="371.00" width="3.13" height="31.70" fill="#e1e2e6" stroke="#4d4d4f" stroke-width="0.55"/>
<rect x="506.54" y="372.61" width="3.13" height="29.09" fill="#57b2ee" stroke="#58595b" stroke-width="0.35"/>
<rect x="506.54" y="401.70" width="3.13" height="1.00" fill="#f0946d" stroke="#58595b" stroke-width="0.35"/>
<rect x="510.27" y="371.00" width="3.13" height="31.70" fill="#e1e2e6" stroke="#4d4d4f" stroke-width="0.55"/>
<rect x="510.27" y="373.61" width="3.13" height="27.49" fill="#57b2ee" stroke="#58595b" stroke-width="0.35"/>
<rect x="510.27" y="401.09" width="3.13" height="1.61" fill="#f0946d" stroke="#58595b" stroke-width="0.35"/>
<rect x="514.00" y="371.00" width="3.13" height="31.70" fill="#e1e2e6" stroke="#4d4d4f" stroke-width="0.55"/>
<rect x="514.00" y="373.61" width="3.13" height="26.68" fill="#57b2ee" stroke="#58595b" stroke-width="0.35"/>
<rect x="514.00" y="400.29" width="3.13" height="2.41" fill="#f0946d" stroke="#58595b" stroke-width="0.35"/>
<rect x="517.73" y="371.00" width="3.13" height="31.70" fill="#e1e2e6" stroke="#4d4d4f" stroke-width="0.55"/>
<rect x="517.73" y="375.61" width="3.13" height="23.47" fill="#57b2ee" stroke="#58595b" stroke-width="0.35"/>
<rect x="517.73" y="399.09" width="3.13" height="3.61" fill="#f0946d" stroke="#58595b" stroke-width="0.35"/>
<rect x="521.46" y="371.00" width="3.13" height="31.70" fill="#e1e2e6" stroke="#4d4d4f" stroke-width="0.55"/>
<rect x="521.46" y="373.61" width="3.13" height="27.49" fill="#57b2ee" stroke="#58595b" stroke-width="0.35"/>
<rect x="521.46" y="401.09" width="3.13" height="1.61" fill="#f0946d" stroke="#58595b" stroke-width="0.35"/>
<line x1="506.24" x2="524.89" y1="386.85" y2="386.85" stroke="#999" stroke-width="0.4" stroke-dasharray="1,1.2"/>
<rect x="506.24" y="370.4" width="18.65" height="32.90" fill="none" stroke="#78797b" stroke-width="0.8"/>
<rect x="506.24" y="435.05" width="3.73" height="2.15" fill="#f2584a" stroke="#4a4a4a" stroke-width="0.3"/>
<rect x="506.24" y="410.97" width="3.73" height="24.08" fill="#5b9bb8" stroke="#4a4a4a" stroke-width="0.3"/>
<rect x="506.24" y="408.17" width="3.73" height="2.80" fill="#f5c86f" stroke="#4a4a4a" stroke-width="0.3"/>
<rect x="506.24" y="404.30" width="3.73" height="3.87" fill="#9fd79b" stroke="#4a4a4a" stroke-width="0.3"/>
<rect x="509.97" y="435.05" width="3.73" height="2.15" fill="#f2584a" stroke="#4a4a4a" stroke-width="0.3"/>
<rect x="509.97" y="414.62" width="3.73" height="20.43" fill="#5b9bb8" stroke="#4a4a4a" stroke-width="0.3"/>
<rect x="509.97" y="409.68" width="3.73" height="4.95" fill="#f5c86f" stroke="#4a4a4a" stroke-width="0.3"/>
<rect x="509.97" y="404.30" width="3.73" height="5.38" fill="#9fd79b" stroke="#4a4a4a" stroke-width="0.3"/>
<rect x="513.70" y="433.97" width="3.73" height="3.23" fill="#f2584a" stroke="#4a4a4a" stroke-width="0.3"/>
<rect x="513.70" y="410.32" width="3.73" height="23.65" fill="#5b9bb8" stroke="#4a4a4a" stroke-width="0.3"/>
<rect x="513.70" y="404.30" width="3.73" height="6.02" fill="#9fd79b" stroke="#4a4a4a" stroke-width="0.3"/>
<rect x="517.43" y="435.48" width="3.73" height="1.72" fill="#f2584a" stroke="#4a4a4a" stroke-width="0.3"/>
<rect x="517.43" y="415.70" width="3.73" height="19.78" fill="#5b9bb8" stroke="#4a4a4a" stroke-width="0.3"/>
<rect x="517.43" y="411.40" width="3.73" height="4.30" fill="#f5c86f" stroke="#4a4a4a" stroke-width="0.3"/>
<rect x="517.43" y="404.30" width="3.73" height="7.10" fill="#9fd79b" stroke="#4a4a4a" stroke-width="0.3"/>
<rect x="521.16" y="435.05" width="3.73" height="2.15" fill="#f2584a" stroke="#4a4a4a" stroke-width="0.3"/>
<rect x="521.16" y="414.62" width="3.73" height="20.43" fill="#5b9bb8" stroke="#4a4a4a" stroke-width="0.3"/>
<rect x="521.16" y="409.68" width="3.73" height="4.95" fill="#f5c86f" stroke="#4a4a4a" stroke-width="0.3"/>
<rect x="521.16" y="404.30" width="3.73" height="5.38" fill="#9fd79b" stroke="#4a4a4a" stroke-width="0.3"/>
<line x1="506.24" x2="524.89" y1="420.75" y2="420.75" stroke="#777" stroke-width="0.4" stroke-dasharray="1,1.2" opacity="0.6"/>
<rect x="506.24" y="404.3" width="18.65" height="32.90" fill="none" stroke="#78797b" stroke-width="0.8"/>
<text x="542.21" y="179.50" font-size="6.5" text-anchor="middle" fill="#231f20" >Germline</text>
<line x1="528.63" x2="555.80" y1="183.2" y2="183.2" stroke="#78797b" stroke-width="0.7"/>
<text x="542.21" y="190.00" font-size="6.0" text-anchor="middle" fill="#231f20" >HR</text>
<line x1="532.89" x2="551.54" y1="196.1" y2="196.1" stroke="#b3b3b3" stroke-width="0.5" stroke-dasharray="1.3,1.3"/>
<line x1="532.89" x2="551.54" y1="206.6" y2="206.6" stroke="#b3b3b3" stroke-width="0.5" stroke-dasharray="1.3,1.3"/>
<line x1="532.89" x2="551.54" y1="217.1" y2="217.1" stroke="#b3b3b3" stroke-width="0.5" stroke-dasharray="1.3,1.3"/>
<rect x="533.24" y="222.25" width="3.03" height="5.15" fill="#8697aa"/>
<rect x="533.24" y="211.95" width="3.03" height="10.30" fill="#2ee3a5"/>
<rect x="536.97" y="222.25" width="3.03" height="5.15" fill="#8ecbe0"/>
<rect x="536.97" y="217.10" width="3.03" height="5.15" fill="#d9600e"/>
<rect x="540.70" y="222.25" width="3.03" height="5.15" fill="#8ecbe0"/>
<rect x="540.70" y="211.95" width="3.03" height="10.30" fill="#2ee3a5"/>
<rect x="544.43" y="222.25" width="3.03" height="5.15" fill="#1c8a6a"/>
<rect x="548.16" y="222.25" width="3.03" height="5.15" fill="#dba6ea"/>
<rect x="532.89" y="194.5" width="18.65" height="32.90" fill="none" stroke="#78797b" stroke-width="0.8"/>
<path d="M536.62,229.0V359.4M540.35,229.0V359.4M544.08,229.0V359.4M547.81,229.0V359.4M532.89,233.68H551.54M532.89,238.36H551.54M532.89,243.04H551.54M532.89,247.72H551.54M532.89,252.40H551.54M532.89,257.08H551.54M532.89,261.76H551.54M532.89,266.44H551.54M532.89,271.12H551.54M532.89,275.80H551.54M532.89,280.48H551.54M532.89,285.16H551.54M532.89,289.84H551.54M532.89,294.52H551.54M532.89,299.20H551.54M532.89,303.88H551.54M532.89,308.56H551.54M532.89,313.24H551.54M532.89,317.92H551.54M532.89,327.20H551.54M532.89,331.80H551.54M532.89,336.40H551.54M532.89,341.00H551.54M532.89,345.60H551.54M532.89,350.20H551.54M532.89,354.80H551.54" stroke="#efefef" stroke-width="0.5" fill="none"/>
<rect x="533.21" y="229.39" width="3.1" height="3.9" fill="#2ee3a5"/>
<path d="M532.90,247.08 L536.61,247.08 L534.75,243.68 Z" fill="#8697aa"/>
<rect x="544.39" y="243.43" width="3.1" height="3.9" fill="#1c8a6a"/>
<rect x="533.21" y="248.11" width="3.1" height="3.9" fill="#2ee3a5"/>
<path d="M536.63,251.76 L540.34,251.76 L538.49,248.36 Z" fill="#8ecbe0"/>
<rect x="540.67" y="248.11" width="3.1" height="3.9" fill="#2ee3a5"/>
<path d="M547.82,251.76 L551.52,251.76 L549.67,248.36 Z" fill="#dba6ea"/>
<rect x="540.67" y="257.47" width="3.1" height="3.9" fill="#2ee3a5"/>
<rect x="536.94" y="327.55" width="3.1" height="3.9" fill="#d9600e"/>
<rect x="532.89" y="229.0" width="18.65" height="130.40" fill="none" stroke="#78797b" stroke-width="0.8"/>
<line x1="532.89" x2="551.54" y1="322.6" y2="322.6" stroke="#78797b" stroke-width="0.8"/>
<rect x="532.89" y="361.3" width="3.78" height="7.70" fill="#8552a8"/>
<rect x="536.62" y="361.3" width="3.78" height="7.70" fill="#a0bddf"/>
<rect x="540.35" y="361.3" width="3.78" height="7.70" fill="#8552a8"/>
<rect x="544.08" y="361.3" width="3.78" height="7.70" fill="#a0bddf"/>
<rect x="547.81" y="361.3" width="3.78" height="7.70" fill="#a0bddf"/>
<rect x="532.89" y="370.4" width="18.65" height="32.90" fill="#ffffff"/>
<rect x="533.19" y="371.00" width="3.13" height="31.70" fill="#e1e2e6" stroke="#4d4d4f" stroke-width="0.55"/>
<rect x="533.19" y="372.61" width="3.13" height="22.07" fill="#57b2ee" stroke="#58595b" stroke-width="0.35"/>
<rect x="533.19" y="394.67" width="3.13" height="8.03" fill="#f0946d" stroke="#58595b" stroke-width="0.35"/>
<rect x="536.92" y="371.00" width="3.13" height="31.70" fill="#e1e2e6" stroke="#4d4d4f" stroke-width="0.55"/>
<rect x="536.92" y="384.64" width="3.13" height="13.64" fill="#57b2ee" stroke="#58595b" stroke-width="0.35"/>
<rect x="536.92" y="398.29" width="3.13" height="4.41" fill="#f0946d" stroke="#58595b" stroke-width="0.35"/>
<rect x="540.65" y="371.00" width="3.13" height="31.70" fill="#e1e2e6" stroke="#4d4d4f" stroke-width="0.55"/>
<rect x="540.65" y="376.62" width="3.13" height="23.07" fill="#57b2ee" stroke="#58595b" stroke-width="0.35"/>
<rect x="540.65" y="399.69" width="3.13" height="3.01" fill="#f0946d" stroke="#58595b" stroke-width="0.35"/>
<rect x="544.38" y="371.00" width="3.13" height="31.70" fill="#e1e2e6" stroke="#4d4d4f" stroke-width="0.55"/>
<rect x="544.38" y="376.62" width="3.13" height="23.07" fill="#57b2ee" stroke="#58595b" stroke-width="0.35"/>
<rect x="544.38" y="399.69" width="3.13" height="3.01" fill="#f0946d" stroke="#58595b" stroke-width="0.35"/>
<rect x="548.11" y="371.00" width="3.13" height="31.70" fill="#e1e2e6" stroke="#4d4d4f" stroke-width="0.55"/>
<rect x="548.11" y="383.64" width="3.13" height="15.45" fill="#57b2ee" stroke="#58595b" stroke-width="0.35"/>
<rect x="548.11" y="399.09" width="3.13" height="3.61" fill="#f0946d" stroke="#58595b" stroke-width="0.35"/>
<line x1="532.89" x2="551.54" y1="386.85" y2="386.85" stroke="#999" stroke-width="0.4" stroke-dasharray="1,1.2"/>
<rect x="532.89" y="370.4" width="18.65" height="32.90" fill="none" stroke="#78797b" stroke-width="0.8"/>
<rect x="532.89" y="433.33" width="3.73" height="3.87" fill="#f2584a" stroke="#4a4a4a" stroke-width="0.3"/>
<rect x="532.89" y="411.40" width="3.73" height="21.93" fill="#5b9bb8" stroke="#4a4a4a" stroke-width="0.3"/>
<rect x="532.89" y="408.17" width="3.73" height="3.23" fill="#f5c86f" stroke="#4a4a4a" stroke-width="0.3"/>
<rect x="532.89" y="404.30" width="3.73" height="3.87" fill="#9fd79b" stroke="#4a4a4a" stroke-width="0.3"/>
<rect x="536.62" y="431.82" width="3.73" height="5.38" fill="#f2584a" stroke="#4a4a4a" stroke-width="0.3"/>
<rect x="536.62" y="417.85" width="3.73" height="13.98" fill="#5b9bb8" stroke="#4a4a4a" stroke-width="0.3"/>
<rect x="536.62" y="409.68" width="3.73" height="8.17" fill="#f5c86f" stroke="#4a4a4a" stroke-width="0.3"/>
<rect x="536.62" y="404.30" width="3.73" height="5.38" fill="#9fd79b" stroke="#4a4a4a" stroke-width="0.3"/>
<rect x="540.35" y="433.97" width="3.73" height="3.23" fill="#f2584a" stroke="#4a4a4a" stroke-width="0.3"/>
<rect x="540.35" y="409.25" width="3.73" height="24.73" fill="#5b9bb8" stroke="#4a4a4a" stroke-width="0.3"/>
<rect x="540.35" y="408.17" width="3.73" height="1.08" fill="#f5c86f" stroke="#4a4a4a" stroke-width="0.3"/>
<rect x="540.35" y="404.30" width="3.73" height="3.87" fill="#9fd79b" stroke="#4a4a4a" stroke-width="0.3"/>
<rect x="544.08" y="434.62" width="3.73" height="2.58" fill="#f2584a" stroke="#4a4a4a" stroke-width="0.3"/>
<rect x="544.08" y="414.62" width="3.73" height="20.00" fill="#5b9bb8" stroke="#4a4a4a" stroke-width="0.3"/>
<rect x="544.08" y="409.68" width="3.73" height="4.95" fill="#f5c86f" stroke="#4a4a4a" stroke-width="0.3"/>
<rect x="544.08" y="404.30" width="3.73" height="5.38" fill="#9fd79b" stroke="#4a4a4a" stroke-width="0.3"/>
<rect x="547.81" y="433.97" width="3.73" height="3.23" fill="#f2584a" stroke="#4a4a4a" stroke-width="0.3"/>
<rect x="547.81" y="415.70" width="3.73" height="18.28" fill="#5b9bb8" stroke="#4a4a4a" stroke-width="0.3"/>
<rect x="547.81" y="410.32" width="3.73" height="5.38" fill="#f5c86f" stroke="#4a4a4a" stroke-width="0.3"/>
<rect x="547.81" y="404.30" width="3.73" height="6.02" fill="#9fd79b" stroke="#4a4a4a" stroke-width="0.3"/>
<line x1="532.89" x2="551.54" y1="420.75" y2="420.75" stroke="#777" stroke-width="0.4" stroke-dasharray="1,1.2" opacity="0.6"/>
<rect x="532.89" y="404.3" width="18.65" height="32.90" fill="none" stroke="#78797b" stroke-width="0.8"/>
<text x="574.46" y="179.50" font-size="6.5" text-anchor="middle" fill="#231f20" >Somatic</text>
<line x1="562.32" x2="586.60" y1="183.2" y2="183.2" stroke="#78797b" stroke-width="0.7"/>
<text x="574.46" y="190.00" font-size="6.0" text-anchor="middle" fill="#231f20" >HR</text>
<line x1="559.54" x2="589.38" y1="196.1" y2="196.1" stroke="#b3b3b3" stroke-width="0.5" stroke-dasharray="1.3,1.3"/>
<line x1="559.54" x2="589.38" y1="206.6" y2="206.6" stroke="#b3b3b3" stroke-width="0.5" stroke-dasharray="1.3,1.3"/>
<line x1="559.54" x2="589.38" y1="217.1" y2="217.1" stroke="#b3b3b3" stroke-width="0.5" stroke-dasharray="1.3,1.3"/>
<rect x="559.89" y="222.25" width="3.03" height="5.15" fill="#2ee3a5"/>
<rect x="559.89" y="217.10" width="3.03" height="5.15" fill="#1b3da0"/>
<rect x="563.62" y="222.25" width="3.03" height="5.15" fill="#2ee3a5"/>
<rect x="563.62" y="217.10" width="3.03" height="5.15" fill="#9a2fe6"/>
<rect x="567.35" y="206.80" width="3.03" height="20.60" fill="#2ee3a5"/>
<rect x="571.08" y="222.25" width="3.03" height="5.15" fill="#2ee3a5"/>
<rect x="571.08" y="217.10" width="3.03" height="5.15" fill="#9a2fe6"/>
<rect x="571.08" y="206.80" width="3.03" height="10.30" fill="#f4a800"/>
<rect x="574.81" y="222.25" width="3.03" height="5.15" fill="#2ee3a5"/>
<rect x="574.81" y="217.10" width="3.03" height="5.15" fill="#f6a384"/>
<rect x="578.54" y="222.25" width="3.03" height="5.15" fill="#f6a384"/>
<rect x="582.27" y="222.25" width="3.03" height="5.15" fill="#2ee3a5"/>
<rect x="586.00" y="222.25" width="3.03" height="5.15" fill="#2ee3a5"/>
<rect x="559.54" y="194.5" width="29.84" height="32.90" fill="none" stroke="#78797b" stroke-width="0.8"/>
<path d="M563.27,229.0V359.4M567.00,229.0V359.4M570.73,229.0V359.4M574.46,229.0V359.4M578.19,229.0V359.4M581.92,229.0V359.4M585.65,229.0V359.4M559.54,233.68H589.38M559.54,238.36H589.38M559.54,243.04H589.38M559.54,247.72H589.38M559.54,252.40H589.38M559.54,257.08H589.38M559.54,261.76H589.38M559.54,266.44H589.38M559.54,271.12H589.38M559.54,275.80H589.38M559.54,280.48H589.38M559.54,285.16H589.38M559.54,289.84H589.38M559.54,294.52H589.38M559.54,299.20H589.38M559.54,303.88H589.38M559.54,308.56H589.38M559.54,313.24H589.38M559.54,317.92H589.38M559.54,327.20H589.38M559.54,331.80H589.38M559.54,336.40H589.38M559.54,341.00H589.38M559.54,345.60H589.38M559.54,350.20H589.38M559.54,354.80H589.38" stroke="#efefef" stroke-width="0.5" fill="none"/>
<rect x="559.86" y="238.75" width="3.1" height="3.9" fill="#2ee3a5"/>
<rect x="567.32" y="238.75" width="3.1" height="3.9" fill="#2ee3a5"/>
<path d="M570.74,247.08 L574.44,247.08 L572.59,243.68 Z" fill="#f4a800"/>
<circle cx="576.32" cy="245.38" r="1.75" fill="#f6a384"/>
<circle cx="580.05" cy="245.38" r="1.75" fill="#f6a384"/>
<rect x="582.24" y="243.43" width="3.1" height="3.9" fill="#2ee3a5"/>
<path d="M570.74,251.76 L574.44,251.76 L572.59,248.36 Z" fill="#9a2fe6"/>
<rect x="585.97" y="252.79" width="3.1" height="3.9" fill="#2ee3a5"/>
<path d="M570.74,261.12 L574.44,261.12 L572.59,257.72 Z" fill="#f4a800"/>
<rect x="567.32" y="304.27" width="3.1" height="3.9" fill="#2ee3a5"/>
<rect x="567.32" y="318.31" width="3.1" height="3.9" fill="#2ee3a5"/>
<path d="M559.55,326.60 L563.25,326.60 L561.40,323.20 Z" fill="#1b3da0"/>
<path d="M563.28,326.60 L566.99,326.60 L565.13,323.20 Z" fill="#9a2fe6"/>
<rect x="563.59" y="332.15" width="3.1" height="3.9" fill="#2ee3a5"/>
<rect x="571.04" y="332.15" width="3.1" height="3.9" fill="#2ee3a5"/>
<rect x="574.77" y="332.15" width="3.1" height="3.9" fill="#2ee3a5"/>
<rect x="567.32" y="336.75" width="3.1" height="3.9" fill="#2ee3a5"/>
<rect x="559.54" y="229.0" width="29.84" height="130.40" fill="none" stroke="#78797b" stroke-width="0.8"/>
<line x1="559.54" x2="589.38" y1="322.6" y2="322.6" stroke="#78797b" stroke-width="0.8"/>
<rect x="559.54" y="361.3" width="3.78" height="7.70" fill="#a0bddf"/>
<rect x="563.27" y="361.3" width="3.78" height="7.70" fill="#8552a8"/>
<rect x="567.00" y="361.3" width="3.78" height="7.70" fill="#8552a8"/>
<rect x="570.73" y="361.3" width="3.78" height="7.70" fill="#8552a8"/>
<rect x="574.46" y="361.3" width="3.78" height="7.70" fill="#8552a8"/>
<rect x="578.19" y="361.3" width="3.78" height="7.70" fill="#dee9f5"/>
<rect x="581.92" y="361.3" width="3.78" height="7.70" fill="#dee9f5"/>
<rect x="585.65" y="361.3" width="3.78" height="7.70" fill="#a0bddf"/>
<rect x="559.54" y="370.4" width="29.84" height="32.90" fill="#ffffff"/>
<rect x="559.84" y="371.00" width="3.13" height="31.70" fill="#e1e2e6" stroke="#4d4d4f" stroke-width="0.55"/>
<rect x="563.57" y="371.00" width="3.13" height="31.70" fill="#e1e2e6" stroke="#4d4d4f" stroke-width="0.55"/>
<rect x="563.57" y="372.61" width="3.13" height="29.09" fill="#57b2ee" stroke="#58595b" stroke-width="0.35"/>
<rect x="563.57" y="401.70" width="3.13" height="1.00" fill="#f0946d" stroke="#58595b" stroke-width="0.35"/>
<rect x="567.30" y="371.00" width="3.13" height="31.70" fill="#e1e2e6" stroke="#4d4d4f" stroke-width="0.55"/>
<rect x="567.30" y="372.20" width="3.13" height="27.49" fill="#57b2ee" stroke="#58595b" stroke-width="0.35"/>
<rect x="567.30" y="399.69" width="3.13" height="3.01" fill="#f0946d" stroke="#58595b" stroke-width="0.35"/>
<rect x="571.03" y="371.00" width="3.13" height="31.70" fill="#e1e2e6" stroke="#4d4d4f" stroke-width="0.55"/>
<rect x="571.03" y="372.61" width="3.13" height="28.49" fill="#57b2ee" stroke="#58595b" stroke-width="0.35"/>
<rect x="571.03" y="401.09" width="3.13" height="1.61" fill="#f0946d" stroke="#58595b" stroke-width="0.35"/>
<rect x="574.76" y="371.00" width="3.13" height="31.70" fill="#e1e2e6" stroke="#4d4d4f" stroke-width="0.55"/>
<rect x="574.76" y="372.61" width="3.13" height="29.09" fill="#57b2ee" stroke="#58595b" stroke-width="0.35"/>
<rect x="574.76" y="401.70" width="3.13" height="1.00" fill="#f0946d" stroke="#58595b" stroke-width="0.35"/>
<rect x="578.49" y="371.00" width="3.13" height="31.70" fill="#e1e2e6" stroke="#4d4d4f" stroke-width="0.55"/>
<rect x="578.49" y="372.61" width="3.13" height="27.69" fill="#57b2ee" stroke="#58595b" stroke-width="0.35"/>
<rect x="578.49" y="400.29" width="3.13" height="2.41" fill="#f0946d" stroke="#58595b" stroke-width="0.35"/>
<rect x="582.22" y="371.00" width="3.13" height="31.70" fill="#e1e2e6" stroke="#4d4d4f" stroke-width="0.55"/>
<rect x="585.95" y="371.00" width="3.13" height="31.70" fill="#e1e2e6" stroke="#4d4d4f" stroke-width="0.55"/>
<line x1="559.54" x2="589.38" y1="386.85" y2="386.85" stroke="#999" stroke-width="0.4" stroke-dasharray="1,1.2"/>
<rect x="559.54" y="370.4" width="29.84" height="32.90" fill="none" stroke="#78797b" stroke-width="0.8"/>
<rect x="559.54" y="422.15" width="3.73" height="15.05" fill="#f2584a" stroke="#4a4a4a" stroke-width="0.3"/>
<rect x="559.54" y="412.47" width="3.73" height="9.68" fill="#5b9bb8" stroke="#4a4a4a" stroke-width="0.3"/>
<rect x="559.54" y="408.17" width="3.73" height="4.30" fill="#f5c86f" stroke="#4a4a4a" stroke-width="0.3"/>
<rect x="559.54" y="404.30" width="3.73" height="3.87" fill="#9fd79b" stroke="#4a4a4a" stroke-width="0.3"/>
<rect x="563.27" y="435.05" width="3.73" height="2.15" fill="#f2584a" stroke="#4a4a4a" stroke-width="0.3"/>
<rect x="563.27" y="410.97" width="3.73" height="24.08" fill="#5b9bb8" stroke="#4a4a4a" stroke-width="0.3"/>
<rect x="563.27" y="409.25" width="3.73" height="1.72" fill="#f5c86f" stroke="#4a4a4a" stroke-width="0.3"/>
<rect x="563.27" y="404.30" width="3.73" height="4.95" fill="#9fd79b" stroke="#4a4a4a" stroke-width="0.3"/>
<rect x="567.00" y="434.62" width="3.73" height="2.58" fill="#f2584a" stroke="#4a4a4a" stroke-width="0.3"/>
<rect x="567.00" y="410.32" width="3.73" height="24.30" fill="#5b9bb8" stroke="#4a4a4a" stroke-width="0.3"/>
<rect x="567.00" y="408.82" width="3.73" height="1.51" fill="#f5c86f" stroke="#4a4a4a" stroke-width="0.3"/>
<rect x="567.00" y="404.30" width="3.73" height="4.52" fill="#9fd79b" stroke="#4a4a4a" stroke-width="0.3"/>
<rect x="570.73" y="435.05" width="3.73" height="2.15" fill="#f2584a" stroke="#4a4a4a" stroke-width="0.3"/>
<rect x="570.73" y="411.40" width="3.73" height="23.65" fill="#5b9bb8" stroke="#4a4a4a" stroke-width="0.3"/>
<rect x="570.73" y="409.68" width="3.73" height="1.72" fill="#f5c86f" stroke="#4a4a4a" stroke-width="0.3"/>
<rect x="570.73" y="404.30" width="3.73" height="5.38" fill="#9fd79b" stroke="#4a4a4a" stroke-width="0.3"/>
<rect x="574.46" y="434.62" width="3.73" height="2.58" fill="#f2584a" stroke="#4a4a4a" stroke-width="0.3"/>
<rect x="574.46" y="412.47" width="3.73" height="22.15" fill="#5b9bb8" stroke="#4a4a4a" stroke-width="0.3"/>
<rect x="574.46" y="410.32" width="3.73" height="2.15" fill="#f5c86f" stroke="#4a4a4a" stroke-width="0.3"/>
<rect x="574.46" y="404.30" width="3.73" height="6.02" fill="#9fd79b" stroke="#4a4a4a" stroke-width="0.3"/>
<rect x="578.19" y="433.33" width="3.73" height="3.87" fill="#f2584a" stroke="#4a4a4a" stroke-width="0.3"/>
<rect x="578.19" y="411.83" width="3.73" height="21.50" fill="#5b9bb8" stroke="#4a4a4a" stroke-width="0.3"/>
<rect x="578.19" y="409.68" width="3.73" height="2.15" fill="#f5c86f" stroke="#4a4a4a" stroke-width="0.3"/>
<rect x="578.19" y="404.30" width="3.73" height="5.38" fill="#9fd79b" stroke="#4a4a4a" stroke-width="0.3"/>
<rect x="581.92" y="429.67" width="3.73" height="7.53" fill="#f2584a" stroke="#4a4a4a" stroke-width="0.3"/>
<rect x="581.92" y="418.92" width="3.73" height="10.75" fill="#5b9bb8" stroke="#4a4a4a" stroke-width="0.3"/>
<rect x="581.92" y="411.40" width="3.73" height="7.53" fill="#f5c86f" stroke="#4a4a4a" stroke-width="0.3"/>
<rect x="581.92" y="404.30" width="3.73" height="7.10" fill="#9fd79b" stroke="#4a4a4a" stroke-width="0.3"/>
<rect x="585.65" y="433.97" width="3.73" height="3.23" fill="#f2584a" stroke="#4a4a4a" stroke-width="0.3"/>
<rect x="585.65" y="420.00" width="3.73" height="13.98" fill="#5b9bb8" stroke="#4a4a4a" stroke-width="0.3"/>
<rect x="585.65" y="408.82" width="3.73" height="11.18" fill="#f5c86f" stroke="#4a4a4a" stroke-width="0.3"/>
<rect x="585.65" y="404.30" width="3.73" height="4.52" fill="#9fd79b" stroke="#4a4a4a" stroke-width="0.3"/>
<line x1="559.54" x2="589.38" y1="420.75" y2="420.75" stroke="#777" stroke-width="0.4" stroke-dasharray="1,1.2" opacity="0.6"/>
<rect x="559.54" y="404.3" width="29.84" height="32.90" fill="none" stroke="#78797b" stroke-width="0.8"/>
<line x1="589.38" x2="591.98" y1="196.1" y2="196.1" stroke="#78797b" stroke-width="0.6"/>
<text x="594.80" y="198.40" font-size="6.4" text-anchor="start" fill="#231f20" >6</text>
<line x1="589.38" x2="591.98" y1="206.6" y2="206.6" stroke="#78797b" stroke-width="0.6"/>
<text x="594.80" y="208.90" font-size="6.4" text-anchor="start" fill="#231f20" >4</text>
<line x1="589.38" x2="591.98" y1="217.1" y2="217.1" stroke="#78797b" stroke-width="0.6"/>
<text x="594.80" y="219.40" font-size="6.4" text-anchor="start" fill="#231f20" >2</text>
<text x="0.00" y="0.00" font-size="5.3" text-anchor="start" fill="#231f20" transform="translate(591,233.24) scale(0.89,1)"><tspan font-style="italic">BRCA1</tspan></text>
<text x="0.00" y="0.00" font-size="5.3" text-anchor="start" fill="#231f20" transform="translate(591,237.92) scale(0.89,1)"><tspan font-style="italic">BRCA2</tspan></text>
<text x="0.00" y="0.00" font-size="5.3" text-anchor="start" fill="#231f20" transform="translate(591,242.60) scale(0.89,1)"><tspan font-style="italic">RAD51B</tspan></text>
<text x="0.00" y="0.00" font-size="5.3" text-anchor="start" fill="#231f20" transform="translate(591,247.28) scale(0.89,1)"><tspan font-style="italic">RAD51C</tspan></text>
<text x="0.00" y="0.00" font-size="5.3" text-anchor="start" fill="#231f20" transform="translate(591,251.96) scale(0.89,1)"><tspan font-style="italic">BRIP1</tspan></text>
<text x="0.00" y="0.00" font-size="5.3" text-anchor="start" fill="#231f20" transform="translate(591,256.64) scale(0.89,1)"><tspan font-style="italic">ATM</tspan></text>
<text x="0.00" y="0.00" font-size="5.3" text-anchor="start" fill="#231f20" transform="translate(591,261.32) scale(0.89,1)"><tspan font-style="italic">PALB2</tspan></text>
<text x="0.00" y="0.00" font-size="5.3" text-anchor="start" fill="#231f20" transform="translate(591,266.00) scale(0.89,1)"><tspan font-style="italic">BLM</tspan></text>
<text x="0.00" y="0.00" font-size="5.3" text-anchor="start" fill="#231f20" transform="translate(591,270.68) scale(0.89,1)"><tspan font-style="italic">FANCD2</tspan></text>
<text x="0.00" y="0.00" font-size="5.3" text-anchor="start" fill="#231f20" transform="translate(591,275.36) scale(0.89,1)"><tspan font-style="italic">ATR</tspan></text>
<text x="0.00" y="0.00" font-size="5.3" text-anchor="start" fill="#231f20" transform="translate(591,280.04) scale(0.89,1)"><tspan font-style="italic">BARD1</tspan></text>
<text x="0.00" y="0.00" font-size="5.3" text-anchor="start" fill="#231f20" transform="translate(591,284.72) scale(0.89,1)"><tspan font-style="italic">FANCI</tspan></text>
<text x="0.00" y="0.00" font-size="5.3" text-anchor="start" fill="#231f20" transform="translate(591,289.40) scale(0.89,1)"><tspan font-style="italic">FANCM</tspan></text>
<text x="0.00" y="0.00" font-size="5.3" text-anchor="start" fill="#231f20" transform="translate(591,294.08) scale(0.89,1)"><tspan font-style="italic">CHEK2</tspan></text>
<text x="0.00" y="0.00" font-size="5.3" text-anchor="start" fill="#231f20" transform="translate(591,298.76) scale(0.89,1)"><tspan font-style="italic">FANCA</tspan></text>
<text x="0.00" y="0.00" font-size="5.3" text-anchor="start" fill="#231f20" transform="translate(591,303.44) scale(0.89,1)"><tspan font-style="italic">FANCE</tspan></text>
<text x="0.00" y="0.00" font-size="5.3" text-anchor="start" fill="#231f20" transform="translate(591,308.12) scale(0.89,1)"><tspan font-style="italic">MSH2</tspan></text>
<text x="0.00" y="0.00" font-size="5.3" text-anchor="start" fill="#231f20" transform="translate(591,312.80) scale(0.89,1)"><tspan font-style="italic">MSH6</tspan></text>
<text x="0.00" y="0.00" font-size="5.3" text-anchor="start" fill="#231f20" transform="translate(591,317.48) scale(0.89,1)"><tspan font-style="italic">PMS1</tspan></text>
<text x="0.00" y="0.00" font-size="5.3" text-anchor="start" fill="#231f20" transform="translate(591,322.16) scale(0.89,1)"><tspan font-style="italic">RAD51D</tspan></text>
<text x="0.00" y="0.00" font-size="5.3" text-anchor="start" fill="#231f20" transform="translate(591,326.80) scale(0.89,1)"><tspan font-style="italic">RB1</tspan></text>
<text x="0.00" y="0.00" font-size="5.3" text-anchor="start" fill="#231f20" transform="translate(591,331.40) scale(0.89,1)"><tspan font-style="italic">CCNE1</tspan></text>
<text x="0.00" y="0.00" font-size="5.3" text-anchor="start" fill="#231f20" transform="translate(591,336.00) scale(0.89,1)"><tspan font-style="italic">PTEN</tspan></text>
<text x="0.00" y="0.00" font-size="5.3" text-anchor="start" fill="#231f20" transform="translate(591,340.60) scale(0.89,1)"><tspan font-style="italic">CDK12</tspan></text>
<text x="0.00" y="0.00" font-size="5.3" text-anchor="start" fill="#231f20" transform="translate(591,345.20) scale(0.89,1)"><tspan font-style="italic">CXCL9</tspan></text>
<text x="0.00" y="0.00" font-size="5.3" text-anchor="start" fill="#231f20" transform="translate(591,349.80) scale(0.89,1)"><tspan font-style="italic">CXCL10</tspan></text>
<text x="0.00" y="0.00" font-size="5.3" text-anchor="start" fill="#231f20" transform="translate(591,354.40) scale(0.89,1)"><tspan font-style="italic">CXCL11</tspan></text>
<text x="0.00" y="0.00" font-size="5.3" text-anchor="start" fill="#231f20" transform="translate(591,359.00) scale(0.89,1)"><tspan font-style="italic">IFNG</tspan></text>
<text x="45.60" y="233.34" font-size="6.0" text-anchor="end" fill="#231f20" transform="translate(45.6,0) scale(0.9,1) translate(-45.6,0)">41%</text>
<text x="45.60" y="238.02" font-size="6.0" text-anchor="end" fill="#231f20" transform="translate(45.6,0) scale(0.9,1) translate(-45.6,0)">14%</text>
<text x="45.60" y="242.70" font-size="6.0" text-anchor="end" fill="#231f20" transform="translate(45.6,0) scale(0.9,1) translate(-45.6,0)">12%</text>
<text x="45.60" y="247.38" font-size="6.0" text-anchor="end" fill="#231f20" transform="translate(45.6,0) scale(0.9,1) translate(-45.6,0)">6%</text>
<text x="45.60" y="252.06" font-size="6.0" text-anchor="end" fill="#231f20" transform="translate(45.6,0) scale(0.9,1) translate(-45.6,0)">5%</text>
<text x="45.60" y="256.74" font-size="6.0" text-anchor="end" fill="#231f20" transform="translate(45.6,0) scale(0.9,1) translate(-45.6,0)">4%</text>
<text x="45.60" y="261.42" font-size="6.0" text-anchor="end" fill="#231f20" transform="translate(45.6,0) scale(0.9,1) translate(-45.6,0)">3%</text>
<text x="45.60" y="266.10" font-size="6.0" text-anchor="end" fill="#231f20" transform="translate(45.6,0) scale(0.9,1) translate(-45.6,0)">3%</text>
<text x="45.60" y="270.78" font-size="6.0" text-anchor="end" fill="#231f20" transform="translate(45.6,0) scale(0.9,1) translate(-45.6,0)">2%</text>
<text x="45.60" y="275.46" font-size="6.0" text-anchor="end" fill="#231f20" transform="translate(45.6,0) scale(0.9,1) translate(-45.6,0)">2%</text>
<text x="45.60" y="280.14" font-size="6.0" text-anchor="end" fill="#231f20" transform="translate(45.6,0) scale(0.9,1) translate(-45.6,0)">2%</text>
<text x="45.60" y="284.82" font-size="6.0" text-anchor="end" fill="#231f20" transform="translate(45.6,0) scale(0.9,1) translate(-45.6,0)">2%</text>
<text x="45.60" y="289.50" font-size="6.0" text-anchor="end" fill="#231f20" transform="translate(45.6,0) scale(0.9,1) translate(-45.6,0)">2%</text>
<text x="45.60" y="294.18" font-size="6.0" text-anchor="end" fill="#231f20" transform="translate(45.6,0) scale(0.9,1) translate(-45.6,0)">1%</text>
<text x="45.60" y="298.86" font-size="6.0" text-anchor="end" fill="#231f20" transform="translate(45.6,0) scale(0.9,1) translate(-45.6,0)">1%</text>
<text x="45.60" y="303.54" font-size="6.0" text-anchor="end" fill="#231f20" transform="translate(45.6,0) scale(0.9,1) translate(-45.6,0)">1%</text>
<text x="45.60" y="308.22" font-size="6.0" text-anchor="end" fill="#231f20" transform="translate(45.6,0) scale(0.9,1) translate(-45.6,0)">1%</text>
<text x="45.60" y="312.90" font-size="6.0" text-anchor="end" fill="#231f20" transform="translate(45.6,0) scale(0.9,1) translate(-45.6,0)">1%</text>
<text x="45.60" y="317.58" font-size="6.0" text-anchor="end" fill="#231f20" transform="translate(45.6,0) scale(0.9,1) translate(-45.6,0)">1%</text>
<text x="45.60" y="322.26" font-size="6.0" text-anchor="end" fill="#231f20" transform="translate(45.6,0) scale(0.9,1) translate(-45.6,0)">1%</text>
<text x="45.60" y="326.90" font-size="6.0" text-anchor="end" fill="#231f20" transform="translate(45.6,0) scale(0.9,1) translate(-45.6,0)">20%</text>
<text x="45.60" y="331.50" font-size="6.0" text-anchor="end" fill="#231f20" transform="translate(45.6,0) scale(0.9,1) translate(-45.6,0)">17%</text>
<text x="45.60" y="336.10" font-size="6.0" text-anchor="end" fill="#231f20" transform="translate(45.6,0) scale(0.9,1) translate(-45.6,0)">11%</text>
<text x="45.60" y="340.70" font-size="6.0" text-anchor="end" fill="#231f20" transform="translate(45.6,0) scale(0.9,1) translate(-45.6,0)">5%</text>
<text x="45.60" y="345.30" font-size="6.0" text-anchor="end" fill="#231f20" transform="translate(45.6,0) scale(0.9,1) translate(-45.6,0)">3%</text>
<text x="45.60" y="349.90" font-size="6.0" text-anchor="end" fill="#231f20" transform="translate(45.6,0) scale(0.9,1) translate(-45.6,0)">3%</text>
<text x="45.60" y="354.50" font-size="6.0" text-anchor="end" fill="#231f20" transform="translate(45.6,0) scale(0.9,1) translate(-45.6,0)">2%</text>
<text x="45.60" y="359.10" font-size="6.0" text-anchor="end" fill="#231f20" transform="translate(45.6,0) scale(0.9,1) translate(-45.6,0)">2%</text>
<text x="45.20" y="367.30" font-size="6.3" text-anchor="end" fill="#231f20" >Survival group</text>
<text x="45.20" y="389.50" font-size="6.3" text-anchor="end" fill="#231f20" >CHORD score</text>
<text x="45.20" y="423.50" font-size="6.3" text-anchor="end" fill="#231f20" >SV %</text>
<line x1="589.38" x2="591.98" y1="370.60" y2="370.60" stroke="#78797b" stroke-width="0.6"/>
<text x="594.60" y="372.80" font-size="6.4" text-anchor="start" fill="#231f20" >1</text>
<line x1="589.38" x2="591.98" y1="386.85" y2="386.85" stroke="#78797b" stroke-width="0.6"/>
<text x="594.60" y="389.05" font-size="6.4" text-anchor="start" fill="#231f20" >0.5</text>
<line x1="589.38" x2="591.98" y1="404.40" y2="404.40" stroke="#78797b" stroke-width="0.6"/>
<text x="594.60" y="406.60" font-size="6.4" text-anchor="start" fill="#231f20" >100</text>
<line x1="589.38" x2="591.98" y1="420.75" y2="420.75" stroke="#78797b" stroke-width="0.6"/>
<text x="594.60" y="422.95" font-size="6.4" text-anchor="start" fill="#231f20" >50</text>
<text x="634.00" y="218.40" font-size="6.1" text-anchor="middle" fill="#231f20" >Alteration</text>
<text x="634.00" y="225.50" font-size="6.1" text-anchor="middle" fill="#231f20" >count</text>
<text x="665.10" y="218.40" font-size="6.1" text-anchor="middle" fill="#231f20" >Alteration</text>
<text x="665.10" y="225.50" font-size="6.1" text-anchor="middle" fill="#231f20" >%</text>
<line x1="632.4" x2="632.4" y1="229.0" y2="359.4" stroke="#aaa" stroke-width="0.45" stroke-dasharray="1.2,1.2"/>
<line x1="643.4" x2="643.4" y1="229.0" y2="359.4" stroke="#aaa" stroke-width="0.45" stroke-dasharray="1.2,1.2"/>
<line x1="664.5" x2="664.5" y1="229.0" y2="359.4" stroke="#666" stroke-width="0.45" stroke-dasharray="1.2,1.2"/>
<rect x="621.90" y="229.70" width="0.87" height="3.28" fill="#1c8a6a"/>
<rect x="653.40" y="229.70" width="0.88" height="3.28" fill="#1c8a6a"/>
<rect x="622.77" y="229.70" width="0.87" height="3.28" fill="#8697aa"/>
<rect x="654.28" y="229.70" width="0.88" height="3.28" fill="#8697aa"/>
<rect x="623.64" y="229.70" width="2.62" height="3.28" fill="#8ecbe0"/>
<rect x="655.17" y="229.70" width="2.65" height="3.28" fill="#8ecbe0"/>
<rect x="626.26" y="229.70" width="6.10" height="3.28" fill="#dba6ea"/>
<rect x="657.82" y="229.70" width="6.19" height="3.28" fill="#dba6ea"/>
<rect x="632.36" y="229.70" width="1.31" height="3.28" fill="#2ee3a5"/>
<rect x="664.02" y="229.70" width="1.33" height="3.28" fill="#2ee3a5"/>
<rect x="633.67" y="229.70" width="1.31" height="3.28" fill="#1b3da0"/>
<rect x="665.34" y="229.70" width="1.33" height="3.28" fill="#1b3da0"/>
<rect x="634.98" y="229.70" width="2.62" height="3.28" fill="#9a2fe6"/>
<rect x="666.67" y="229.70" width="2.65" height="3.28" fill="#9a2fe6"/>
<rect x="637.60" y="229.70" width="6.98" height="3.28" fill="#f6a384"/>
<rect x="669.32" y="229.70" width="7.08" height="3.28" fill="#f6a384"/>
<rect x="621.90" y="234.38" width="0.44" height="3.28" fill="#1c8a6a"/>
<rect x="653.40" y="234.38" width="1.35" height="3.28" fill="#1c8a6a"/>
<rect x="622.34" y="234.38" width="0.44" height="3.28" fill="#8697aa"/>
<rect x="654.75" y="234.38" width="1.35" height="3.28" fill="#8697aa"/>
<rect x="622.77" y="234.38" width="0.44" height="3.28" fill="#8ecbe0"/>
<rect x="656.11" y="234.38" width="1.35" height="3.28" fill="#8ecbe0"/>
<rect x="623.21" y="234.38" width="3.05" height="3.28" fill="#dba6ea"/>
<rect x="657.46" y="234.38" width="9.47" height="3.28" fill="#dba6ea"/>
<rect x="626.26" y="234.38" width="1.31" height="3.28" fill="#2ee3a5"/>
<rect x="666.93" y="234.38" width="4.06" height="3.28" fill="#2ee3a5"/>
<rect x="627.57" y="234.38" width="0.87" height="3.28" fill="#1b3da0"/>
<rect x="670.99" y="234.38" width="2.71" height="3.28" fill="#1b3da0"/>
<rect x="628.44" y="234.38" width="0.87" height="3.28" fill="#9a2fe6"/>
<rect x="673.69" y="234.38" width="2.71" height="3.28" fill="#9a2fe6"/>
<rect x="621.90" y="239.06" width="6.54" height="3.28" fill="#2ee3a5"/>
<rect x="653.40" y="239.06" width="23.00" height="3.28" fill="#2ee3a5"/>
<rect x="621.90" y="243.74" width="0.44" height="3.28" fill="#1c8a6a"/>
<rect x="653.40" y="243.74" width="3.29" height="3.28" fill="#1c8a6a"/>
<rect x="622.34" y="243.74" width="0.44" height="3.28" fill="#8697aa"/>
<rect x="656.69" y="243.74" width="3.29" height="3.28" fill="#8697aa"/>
<rect x="622.77" y="243.74" width="0.87" height="3.28" fill="#2ee3a5"/>
<rect x="659.97" y="243.74" width="6.57" height="3.28" fill="#2ee3a5"/>
<rect x="623.64" y="243.74" width="0.44" height="3.28" fill="#f4a800"/>
<rect x="666.54" y="243.74" width="3.29" height="3.28" fill="#f4a800"/>
<rect x="624.08" y="243.74" width="0.87" height="3.28" fill="#f6a384"/>
<rect x="669.83" y="243.74" width="6.57" height="3.28" fill="#f6a384"/>
<rect x="621.90" y="248.42" width="0.44" height="3.28" fill="#8ecbe0"/>
<rect x="653.40" y="248.42" width="3.83" height="3.28" fill="#8ecbe0"/>
<rect x="622.34" y="248.42" width="0.44" height="3.28" fill="#dba6ea"/>
<rect x="657.23" y="248.42" width="3.83" height="3.28" fill="#dba6ea"/>
<rect x="622.77" y="248.42" width="1.31" height="3.28" fill="#2ee3a5"/>
<rect x="661.07" y="248.42" width="11.50" height="3.28" fill="#2ee3a5"/>
<rect x="624.08" y="248.42" width="0.44" height="3.28" fill="#9a2fe6"/>
<rect x="672.57" y="248.42" width="3.83" height="3.28" fill="#9a2fe6"/>
<rect x="621.90" y="253.10" width="2.18" height="3.28" fill="#2ee3a5"/>
<rect x="653.40" y="253.10" width="23.00" height="3.28" fill="#2ee3a5"/>
<rect x="621.90" y="257.78" width="0.44" height="3.28" fill="#8ecbe0"/>
<rect x="653.40" y="257.78" width="4.60" height="3.28" fill="#8ecbe0"/>
<rect x="622.34" y="257.78" width="0.87" height="3.28" fill="#2ee3a5"/>
<rect x="658.00" y="257.78" width="9.20" height="3.28" fill="#2ee3a5"/>
<rect x="623.21" y="257.78" width="0.44" height="3.28" fill="#1b3da0"/>
<rect x="667.20" y="257.78" width="4.60" height="3.28" fill="#1b3da0"/>
<rect x="623.64" y="257.78" width="0.44" height="3.28" fill="#f4a800"/>
<rect x="671.80" y="257.78" width="4.60" height="3.28" fill="#f4a800"/>
<rect x="621.90" y="262.46" width="1.74" height="3.28" fill="#2ee3a5"/>
<rect x="653.40" y="262.46" width="23.00" height="3.28" fill="#2ee3a5"/>
<rect x="621.90" y="267.14" width="1.31" height="3.28" fill="#2ee3a5"/>
<rect x="653.40" y="267.14" width="23.00" height="3.28" fill="#2ee3a5"/>
<rect x="621.90" y="271.82" width="1.31" height="3.28" fill="#2ee3a5"/>
<rect x="653.40" y="271.82" width="23.00" height="3.28" fill="#2ee3a5"/>
<rect x="621.90" y="276.50" width="1.31" height="3.28" fill="#2ee3a5"/>
<rect x="653.40" y="276.50" width="23.00" height="3.28" fill="#2ee3a5"/>
<rect x="621.90" y="281.18" width="1.31" height="3.28" fill="#2ee3a5"/>
<rect x="653.40" y="281.18" width="23.00" height="3.28" fill="#2ee3a5"/>
<rect x="621.90" y="285.86" width="0.87" height="3.28" fill="#2ee3a5"/>
<rect x="653.40" y="285.86" width="11.50" height="3.28" fill="#2ee3a5"/>
<rect x="622.77" y="285.86" width="0.87" height="3.28" fill="#9a2fe6"/>
<rect x="664.90" y="285.86" width="11.50" height="3.28" fill="#9a2fe6"/>
<rect x="621.90" y="290.54" width="0.87" height="3.28" fill="#2ee3a5"/>
<rect x="653.40" y="290.54" width="23.00" height="3.28" fill="#2ee3a5"/>
<rect x="621.90" y="295.22" width="0.87" height="3.28" fill="#2ee3a5"/>
<rect x="653.40" y="295.22" width="23.00" height="3.28" fill="#2ee3a5"/>
<rect x="621.90" y="299.90" width="0.87" height="3.28" fill="#2ee3a5"/>
<rect x="653.40" y="299.90" width="23.00" height="3.28" fill="#2ee3a5"/>
<rect x="621.90" y="304.58" width="0.87" height="3.28" fill="#2ee3a5"/>
<rect x="653.40" y="304.58" width="23.00" height="3.28" fill="#2ee3a5"/>
<rect x="621.90" y="309.26" width="0.87" height="3.28" fill="#2ee3a5"/>
<rect x="653.40" y="309.26" width="23.00" height="3.28" fill="#2ee3a5"/>
<rect x="621.90" y="313.94" width="0.87" height="3.28" fill="#1b3da0"/>
<rect x="653.40" y="313.94" width="23.00" height="3.28" fill="#1b3da0"/>
<rect x="621.90" y="318.62" width="0.87" height="3.28" fill="#2ee3a5"/>
<rect x="653.40" y="318.62" width="23.00" height="3.28" fill="#2ee3a5"/>
<rect x="621.90" y="323.30" width="8.28" height="3.20" fill="#2ee3a5"/>
<rect x="653.40" y="323.30" width="17.48" height="3.20" fill="#2ee3a5"/>
<rect x="630.18" y="323.30" width="0.87" height="3.20" fill="#1b3da0"/>
<rect x="670.88" y="323.30" width="1.84" height="3.20" fill="#1b3da0"/>
<rect x="631.06" y="323.30" width="1.31" height="3.20" fill="#9a2fe6"/>
<rect x="672.72" y="323.30" width="2.76" height="3.20" fill="#9a2fe6"/>
<rect x="632.36" y="323.30" width="0.44" height="3.20" fill="#f6a384"/>
<rect x="675.48" y="323.30" width="0.92" height="3.20" fill="#f6a384"/>
<rect x="621.90" y="327.90" width="9.16" height="3.20" fill="#d9600e"/>
<rect x="653.40" y="327.90" width="23.00" height="3.20" fill="#d9600e"/>
<rect x="621.90" y="332.50" width="5.67" height="3.20" fill="#2ee3a5"/>
<rect x="653.40" y="332.50" width="21.36" height="3.20" fill="#2ee3a5"/>
<rect x="627.57" y="332.50" width="0.44" height="3.20" fill="#d9600e"/>
<rect x="674.76" y="332.50" width="1.64" height="3.20" fill="#d9600e"/>
<rect x="621.90" y="337.10" width="1.31" height="3.20" fill="#2ee3a5"/>
<rect x="653.40" y="337.10" width="11.50" height="3.20" fill="#2ee3a5"/>
<rect x="623.21" y="337.10" width="0.87" height="3.20" fill="#1b3da0"/>
<rect x="664.90" y="337.10" width="7.67" height="3.20" fill="#1b3da0"/>
<rect x="624.08" y="337.10" width="0.44" height="3.20" fill="#9a2fe6"/>
<rect x="672.57" y="337.10" width="3.83" height="3.20" fill="#9a2fe6"/>
<rect x="621.90" y="341.70" width="1.74" height="3.20" fill="#d9600e"/>
<rect x="653.40" y="341.70" width="23.00" height="3.20" fill="#d9600e"/>
<rect x="621.90" y="346.30" width="1.74" height="3.20" fill="#d9600e"/>
<rect x="653.40" y="346.30" width="23.00" height="3.20" fill="#d9600e"/>
<rect x="621.90" y="350.90" width="1.31" height="3.20" fill="#d9600e"/>
<rect x="653.40" y="350.90" width="23.00" height="3.20" fill="#d9600e"/>
<rect x="621.90" y="355.50" width="1.31" height="3.20" fill="#d9600e"/>
<rect x="653.40" y="355.50" width="23.00" height="3.20" fill="#d9600e"/>
<rect x="621.5" y="229.0" width="24.70" height="130.40" fill="none" stroke="#78797b" stroke-width="0.8"/>
<line x1="621.5" x2="646.2" y1="322.6" y2="322.6" stroke="#78797b" stroke-width="0.8"/>
<rect x="652.9" y="229.0" width="24.50" height="130.40" fill="none" stroke="#78797b" stroke-width="0.8"/>
<line x1="652.9" x2="677.4" y1="322.6" y2="322.6" stroke="#78797b" stroke-width="0.8"/>
<line x1="632.4" x2="632.4" y1="359.4" y2="362.0" stroke="#78797b" stroke-width="0.6"/>
<text x="632.40" y="370.40" font-size="6.0" text-anchor="middle" fill="#231f20" >25</text>
<line x1="643.4" x2="643.4" y1="359.4" y2="362.0" stroke="#78797b" stroke-width="0.6"/>
<text x="643.40" y="370.40" font-size="6.0" text-anchor="middle" fill="#231f20" >50</text>
<line x1="664.5" x2="664.5" y1="359.4" y2="362.0" stroke="#78797b" stroke-width="0.6"/>
<text x="664.50" y="370.40" font-size="6.0" text-anchor="middle" fill="#231f20" >50</text>
<line x1="676.1" x2="676.1" y1="359.4" y2="362.0" stroke="#78797b" stroke-width="0.6"/>
<text x="676.10" y="370.40" font-size="6.0" text-anchor="middle" fill="#231f20" >100</text>
<text x="260.40" y="448.30" font-size="7.1" text-anchor="middle" fill="#231f20" >Alteration</text>
<rect x="128.6" y="451.80" width="7.4" height="7.8" fill="#1c8a6a"/>
<text x="141.60" y="458.20" font-size="7.1" text-anchor="start" fill="#231f20" >Germline duplication</text>
<rect x="128.6" y="460.70" width="7.4" height="7.8" fill="#1c8a6a"/>
<text x="141.60" y="467.10" font-size="7.1" text-anchor="start" fill="#231f20" >Germline deletion</text>
<rect x="128.6" y="469.60" width="7.4" height="7.8" fill="#1c8a6a"/>
<text x="141.60" y="476.00" font-size="7.1" text-anchor="start" fill="#231f20" >Germline inversion</text>
<rect x="128.6" y="478.50" width="7.4" height="7.8" fill="#2ee3a5"/>
<text x="141.60" y="484.90" font-size="7.1" text-anchor="start" fill="#231f20" >Somatic duplication</text>
<rect x="128.6" y="487.40" width="7.4" height="7.8" fill="#2ee3a5"/>
<text x="141.60" y="493.80" font-size="7.1" text-anchor="start" fill="#231f20" >Somatic deletion</text>
<rect x="128.6" y="496.30" width="7.4" height="7.8" fill="#2ee3a5"/>
<text x="141.60" y="502.70" font-size="7.1" text-anchor="start" fill="#231f20" >Somatic inversion</text>
<rect x="212.1" y="451.80" width="7.4" height="7.8" fill="#2ee3a5"/>
<text x="224.90" y="458.20" font-size="7.1" text-anchor="start" fill="#231f20" >Somatic translocation</text>
<rect x="212.1" y="460.70" width="7.4" height="7.8" fill="#d9600e"/>
<text x="224.90" y="467.10" font-size="7.1" text-anchor="start" fill="#231f20" >Somatic amplification</text>
<path d="M211.90,476.92 L219.50,476.92 L215.70,470.08 Z" fill="#dba6ea"/>
<text x="224.90" y="476.00" font-size="7.1" text-anchor="start" fill="#231f20" >Germline frameshift indel</text>
<path d="M211.90,485.82 L219.50,485.82 L215.70,478.98 Z" fill="#8ecbe0"/>
<text x="224.90" y="484.90" font-size="7.1" text-anchor="start" fill="#231f20" >Germline nonsense</text>
<path d="M211.90,494.72 L219.50,494.72 L215.70,487.88 Z" fill="#8697aa"/>
<text x="224.90" y="493.80" font-size="7.1" text-anchor="start" fill="#231f20" >Germline missense</text>
<path d="M211.90,503.62 L219.50,503.62 L215.70,496.78 Z" fill="#1b3da0"/>
<text x="224.90" y="502.70" font-size="7.1" text-anchor="start" fill="#231f20" >Somatic nonsense</text>
<path d="M307.40,459.12 L315.00,459.12 L311.20,452.28 Z" fill="#9a2fe6"/>
<text x="320.90" y="458.20" font-size="7.1" text-anchor="start" fill="#231f20" >Somatic frameshift indel</text>
<path d="M307.40,468.02 L315.00,468.02 L311.20,461.18 Z" fill="#c2651b"/>
<text x="320.90" y="467.10" font-size="7.1" text-anchor="start" fill="#231f20" >Somatic in-frame indel</text>
<path d="M307.40,476.92 L315.00,476.92 L311.20,470.08 Z" fill="#f4a800"/>
<text x="320.90" y="476.00" font-size="7.1" text-anchor="start" fill="#231f20" >Somatic splice site</text>
<circle cx="311.2" cy="482.40" r="3.7" fill="#f6a384"/>
<text x="320.90" y="484.90" font-size="7.1" text-anchor="start" fill="#231f20" >Promoter methylation</text>
<text x="400.60" y="447.80" font-size="7.1" text-anchor="start" fill="#231f20" >Survival group</text>
<rect x="400.6" y="451.80" width="7.4" height="7.8" fill="#8552a8"/>
<text x="413.80" y="458.20" font-size="7.1" text-anchor="start" fill="#231f20" >LTS</text>
<rect x="400.6" y="460.70" width="7.4" height="7.8" fill="#a0bddf"/>
<text x="413.80" y="467.10" font-size="7.1" text-anchor="start" fill="#231f20" >MTS</text>
<rect x="400.6" y="469.60" width="7.4" height="7.8" fill="#dee9f5"/>
<text x="413.80" y="476.00" font-size="7.1" text-anchor="start" fill="#231f20" >STS</text>
<text x="451.30" y="447.80" font-size="7.1" text-anchor="start" fill="#231f20" >CHORD</text>
<rect x="451.3" y="451.80" width="7.4" height="7.8" fill="#e1e2e6"/>
<text x="464.50" y="458.20" font-size="7.1" text-anchor="start" fill="#231f20" >None</text>
<rect x="451.3" y="460.70" width="7.4" height="7.8" fill="#57b2ee"/>
<text x="464.50" y="467.10" font-size="7.1" text-anchor="start" fill="#231f20" ><tspan font-style="italic">BRCA2</tspan>-type</text>
<rect x="451.3" y="469.60" width="7.4" height="7.8" fill="#f0946d"/>
<text x="464.50" y="476.00" font-size="7.1" text-anchor="start" fill="#231f20" ><tspan font-style="italic">BRCA1</tspan>-type</text>
<text x="509.00" y="447.80" font-size="7.1" text-anchor="start" fill="#231f20" >SV %</text>
<rect x="509.0" y="451.80" width="7.6" height="7.8" fill="#f2584a"/>
<text x="522.20" y="458.20" font-size="7.1" text-anchor="start" fill="#231f20" >Duplication</text>
<rect x="509.0" y="460.70" width="7.6" height="7.8" fill="#5b9bb8"/>
<text x="522.20" y="467.10" font-size="7.1" text-anchor="start" fill="#231f20" >Deletion</text>
<rect x="509.0" y="469.60" width="7.6" height="7.8" fill="#f5c86f"/>
<text x="522.20" y="476.00" font-size="7.1" text-anchor="start" fill="#231f20" >Inversion</text>
<rect x="509.0" y="478.50" width="7.6" height="7.8" fill="#9fd79b"/>
<text x="522.20" y="484.90" font-size="7.1" text-anchor="start" fill="#231f20" >Translocation</text>
<text x="-0.30" y="533.00" font-size="12.5" text-anchor="start" fill="#000" font-weight="bold" >c</text>
<line x1="48.5" x2="48.5" y1="537.2" y2="654.9" stroke="#939598" stroke-width="0.8"/>
<line x1="48.5" x2="124.9" y1="654.9" y2="654.9" stroke="#939598" stroke-width="0.8"/>
<line x1="45.6" x2="48.5" y1="654.90" y2="654.90" stroke="#939598" stroke-width="0.8"/>
<text x="40.20" y="657.80" font-size="7.9" text-anchor="end" fill="#231f20" >0</text>
<line x1="45.6" x2="48.5" y1="631.42" y2="631.42" stroke="#939598" stroke-width="0.8"/>
<text x="40.20" y="634.32" font-size="7.9" text-anchor="end" fill="#231f20" >20</text>
<line x1="45.6" x2="48.5" y1="607.94" y2="607.94" stroke="#939598" stroke-width="0.8"/>
<text x="40.20" y="610.84" font-size="7.9" text-anchor="end" fill="#231f20" >40</text>
<line x1="45.6" x2="48.5" y1="584.46" y2="584.46" stroke="#939598" stroke-width="0.8"/>
<text x="40.20" y="587.36" font-size="7.9" text-anchor="end" fill="#231f20" >60</text>
<line x1="45.6" x2="48.5" y1="560.98" y2="560.98" stroke="#939598" stroke-width="0.8"/>
<text x="40.20" y="563.88" font-size="7.9" text-anchor="end" fill="#231f20" >80</text>
<line x1="45.6" x2="48.5" y1="537.50" y2="537.50" stroke="#939598" stroke-width="0.8"/>
<text x="40.20" y="540.40" font-size="7.9" text-anchor="end" fill="#231f20" >100</text>
<text x="0" y="0" font-size="8.6" text-anchor="middle" fill="#231f20" transform="translate(18.6,597) rotate(-90)">Proportion</text>
<rect x="56.60" y="600.99" width="12.8" height="53.46" fill="#fddcd0"/>
<rect x="56.60" y="570.70" width="12.8" height="29.39" fill="#f98c6f"/>
<rect x="56.60" y="546.87" width="12.8" height="22.93" fill="#d9272b"/>
<rect x="56.60" y="540.30" width="12.8" height="5.67" fill="#000000"/>
<line x1="63.0" x2="63.0" y1="654.9" y2="657.9" stroke="#939598" stroke-width="0.8"/>
<rect x="80.40" y="630.11" width="12.8" height="24.34" fill="#fddcd0"/>
<rect x="80.40" y="586.91" width="12.8" height="42.30" fill="#f98c6f"/>
<rect x="80.40" y="557.79" width="12.8" height="28.22" fill="#d9272b"/>
<rect x="80.40" y="540.30" width="12.8" height="16.59" fill="#000000"/>
<line x1="86.8" x2="86.8" y1="654.9" y2="657.9" stroke="#939598" stroke-width="0.8"/>
<rect x="103.80" y="636.57" width="12.8" height="17.88" fill="#fddcd0"/>
<rect x="103.80" y="599.70" width="12.8" height="35.96" fill="#f98c6f"/>
<rect x="103.80" y="572.94" width="12.8" height="25.87" fill="#d9272b"/>
<rect x="103.80" y="540.30" width="12.8" height="31.74" fill="#000000"/>
<line x1="110.2" x2="110.2" y1="654.9" y2="657.9" stroke="#939598" stroke-width="0.8"/>
<text x="63.00" y="670.50" font-size="8.6" text-anchor="middle" fill="#231f20" >STS</text>
<text x="86.80" y="670.50" font-size="8.6" text-anchor="middle" fill="#231f20" >MTS</text>
<text x="110.20" y="670.50" font-size="8.6" text-anchor="middle" fill="#231f20" >LTS</text>
<text x="126.20" y="548.60" font-size="8.6" text-anchor="start" fill="#231f20" >Number of DNA repair</text>
<text x="126.20" y="559.20" font-size="8.6" text-anchor="start" fill="#231f20" >pathway alterations:</text>
<rect x="142.9" y="571.60" width="11.1" height="4.9" fill="#000000"/>
<text x="157.90" y="577.10" font-size="8.6" text-anchor="start" fill="#231f20" >≥3</text>
<rect x="142.9" y="585.00" width="11.1" height="4.9" fill="#d9272b"/>
<text x="157.90" y="590.50" font-size="8.6" text-anchor="start" fill="#231f20" >2</text>
<rect x="142.9" y="598.70" width="11.1" height="4.9" fill="#f98c6f"/>
<text x="157.90" y="604.20" font-size="8.6" text-anchor="start" fill="#231f20" >1</text>
<rect x="142.9" y="611.40" width="11.1" height="4.9" fill="#fddcd0"/>
<text x="157.90" y="616.90" font-size="8.6" text-anchor="start" fill="#231f20" >0</text>
<text x="142.70" y="645.50" font-size="8.6" text-anchor="start" fill="#231f20" ><tspan font-style="italic">P</tspan> = 0.0224</text>
<text x="225.30" y="532.30" font-size="12.5" text-anchor="start" fill="#000" font-weight="bold" >d</text>
<line x1="260.4" x2="260.4" y1="538.3000000000001" y2="655.0" stroke="#939598" stroke-width="0.8"/>
<line x1="260.4" x2="433.59999999999997" y1="655.0" y2="655.0" stroke="#939598" stroke-width="0.8"/>
<line x1="257.4" x2="260.4" y1="655.00" y2="655.00" stroke="#939598" stroke-width="0.8"/>
<text x="254.80" y="657.90" font-size="7.9" text-anchor="end" fill="#231f20" >0</text>
<line x1="257.4" x2="260.4" y1="631.72" y2="631.72" stroke="#939598" stroke-width="0.8"/>
<text x="254.80" y="634.62" font-size="7.9" text-anchor="end" fill="#231f20" >0.2</text>
<line x1="257.4" x2="260.4" y1="608.44" y2="608.44" stroke="#939598" stroke-width="0.8"/>
<text x="254.80" y="611.34" font-size="7.9" text-anchor="end" fill="#231f20" >0.4</text>
<line x1="257.4" x2="260.4" y1="585.16" y2="585.16" stroke="#939598" stroke-width="0.8"/>
<text x="254.80" y="588.06" font-size="7.9" text-anchor="end" fill="#231f20" >0.6</text>
<line x1="257.4" x2="260.4" y1="561.88" y2="561.88" stroke="#939598" stroke-width="0.8"/>
<text x="254.80" y="564.78" font-size="7.9" text-anchor="end" fill="#231f20" >0.8</text>
<line x1="257.4" x2="260.4" y1="538.60" y2="538.60" stroke="#939598" stroke-width="0.8"/>
<text x="254.80" y="541.50" font-size="7.9" text-anchor="end" fill="#231f20" >1.0</text>
<line x1="260.40" x2="260.40" y1="655.0" y2="658.0" stroke="#939598" stroke-width="0.8"/>
<text x="260.40" y="668.30" font-size="7.9" text-anchor="middle" fill="#231f20" >0</text>
<line x1="318.05" x2="318.05" y1="655.0" y2="658.0" stroke="#939598" stroke-width="0.8"/>
<text x="318.05" y="668.30" font-size="7.9" text-anchor="middle" fill="#231f20" >5</text>
<line x1="375.70" x2="375.70" y1="655.0" y2="658.0" stroke="#939598" stroke-width="0.8"/>
<text x="375.70" y="668.30" font-size="7.9" text-anchor="middle" fill="#231f20" >10</text>
<line x1="433.35" x2="433.35" y1="655.0" y2="658.0" stroke="#939598" stroke-width="0.8"/>
<text x="433.35" y="668.30" font-size="7.9" text-anchor="middle" fill="#231f20" >15</text>
<text x="346.90" y="683.20" font-size="8.6" text-anchor="middle" fill="#231f20" >Years of follow-up</text>
<text x="0" y="0" font-size="8.6" text-anchor="middle" fill="#231f20" transform="translate(233.00,596) rotate(-90)">PFS probability</text>
<text x="274.20" y="643.70" font-size="8.6" text-anchor="start" fill="#231f20" ><tspan font-style="italic">P</tspan> = 0.1017</text>
<path d="M261.50,538.60H262.80V543.83H263.60V549.07H264.40V554.30H265.20V559.53H266.00V564.77H266.80V570.00H268.10V574.40H269.40V578.80H269.74V586.24H270.08V593.68H270.42V601.12H270.76V608.56H271.10V616.00H276.40V619.90H286.50V623.00H327.80V626.90H338.00V630.40H345.20V633.90H391.50" fill="none" stroke="#fbd6ca" stroke-width="0.75"/>
<path d="M262.80,538.60H264.43V543.46H265.27V548.31H266.10V553.17H266.93V558.02H267.77V562.88H268.60V567.73H269.43V572.59H270.27V577.44H271.10V582.30H273.80V583.10H274.20V590.60H276.40V591.00H277.70V598.90H280.30V600.00H283.40V607.70H284.30V611.20H290.80V614.20H293.50V617.70H310.30V620.10H321.60V623.60H328.80V626.30H375.00V629.30H433.60" fill="none" stroke="#f59a84" stroke-width="0.9"/>
<path d="M264.30,538.60H265.89V543.84H266.77V549.09H267.66V554.33H268.54V559.57H269.43V564.81H270.31V570.06H271.20V575.30H272.40V582.70H275.80V591.00H277.00V598.90H280.00V602.80H283.00V607.20H298.30V611.10H344.20V615.40H362.70V619.50H416.20V628.30H433.60" fill="none" stroke="#e4503e" stroke-width="0.9"/>
<path d="M265.40,538.60H267.10V543.00H269.70V553.30H271.80V558.30H272.40V563.00H275.90V568.00H277.30V571.80H279.50V577.40H286.00V582.30H294.30V587.10H300.50V592.30H302.70V597.00H311.30V606.30H323.60V611.20H337.40V616.60H388.40V624.20H433.60" fill="none" stroke="#333333" stroke-width="0.9"/>
<line x1="379.0" x2="379.0" y1="622.4000000000001" y2="624.2" stroke="#333333" stroke-width="0.7"/>
<line x1="388.4" x2="388.4" y1="622.4000000000001" y2="624.2" stroke="#333333" stroke-width="0.7"/>
<line x1="395" x2="395" y1="622.4000000000001" y2="624.2" stroke="#333333" stroke-width="0.7"/>
<line x1="412.5" x2="412.5" y1="622.4000000000001" y2="624.2" stroke="#333333" stroke-width="0.7"/>
<line x1="433.6" x2="433.6" y1="622.4000000000001" y2="624.2" stroke="#333333" stroke-width="0.7"/>
<line x1="343.6" x2="343.6" y1="609.4000000000001" y2="611.2" stroke="#e4503e" stroke-width="0.7"/>
<line x1="382" x2="382" y1="617.7" y2="619.5" stroke="#e4503e" stroke-width="0.7"/>
<line x1="411" x2="411" y1="617.7" y2="619.5" stroke="#e4503e" stroke-width="0.7"/>
<line x1="415.5" x2="415.5" y1="617.7" y2="619.5" stroke="#e4503e" stroke-width="0.7"/>
<line x1="384" x2="384" y1="627.5" y2="629.3" stroke="#f59a84" stroke-width="0.7"/>
<line x1="395.5" x2="395.5" y1="627.5" y2="629.3" stroke="#f59a84" stroke-width="0.7"/>
<line x1="396.6" x2="396.6" y1="627.5" y2="629.3" stroke="#f59a84" stroke-width="0.7"/>
<line x1="408.5" x2="408.5" y1="627.5" y2="629.3" stroke="#f59a84" stroke-width="0.7"/>
<line x1="353.8" x2="353.8" y1="632.1" y2="633.9" stroke="#fbd6ca" stroke-width="0.7"/>
<line x1="376.5" x2="376.5" y1="632.1" y2="633.9" stroke="#fbd6ca" stroke-width="0.7"/>
<line x1="380.2" x2="380.2" y1="632.1" y2="633.9" stroke="#fbd6ca" stroke-width="0.7"/>
<line x1="386.4" x2="386.4" y1="632.1" y2="633.9" stroke="#fbd6ca" stroke-width="0.7"/>
<line x1="364.7" x2="377.4" y1="551.60" y2="551.60" stroke="#333333" stroke-width="0.9"/>
<line x1="371" x2="371" y1="550.00" y2="551.60" stroke="#333333" stroke-width="0.7"/>
<text x="384.50" y="554.80" font-size="8.6" text-anchor="start" fill="#231f20" >≥3 (<tspan font-style="italic">n</tspan> = 24)</text>
<line x1="364.7" x2="377.4" y1="565.80" y2="565.80" stroke="#e4503e" stroke-width="0.9"/>
<line x1="371" x2="371" y1="564.20" y2="565.80" stroke="#e4503e" stroke-width="0.7"/>
<text x="384.50" y="569.00" font-size="8.6" text-anchor="start" fill="#231f20" >2 (<tspan font-style="italic">n</tspan> = 29)</text>
<line x1="364.7" x2="377.4" y1="580.00" y2="580.00" stroke="#f59a84" stroke-width="0.9"/>
<line x1="371" x2="371" y1="578.40" y2="580.00" stroke="#f59a84" stroke-width="0.7"/>
<text x="384.50" y="583.20" font-size="8.6" text-anchor="start" fill="#231f20" >1 (<tspan font-style="italic">n</tspan> = 40)</text>
<line x1="364.7" x2="377.4" y1="594.20" y2="594.20" stroke="#fbd6ca" stroke-width="0.9"/>
<line x1="371" x2="371" y1="592.60" y2="594.20" stroke="#fbd6ca" stroke-width="0.7"/>
<text x="384.50" y="597.40" font-size="8.6" text-anchor="start" fill="#231f20" >0 (<tspan font-style="italic">n</tspan> = 33)</text>
<line x1="490.9" x2="490.9" y1="538.3000000000001" y2="655.0" stroke="#939598" stroke-width="0.8"/>
<line x1="490.9" x2="664.0999999999999" y1="655.0" y2="655.0" stroke="#939598" stroke-width="0.8"/>
<line x1="487.9" x2="490.9" y1="655.00" y2="655.00" stroke="#939598" stroke-width="0.8"/>
<text x="485.30" y="657.90" font-size="7.9" text-anchor="end" fill="#231f20" >0</text>
<line x1="487.9" x2="490.9" y1="631.72" y2="631.72" stroke="#939598" stroke-width="0.8"/>
<text x="485.30" y="634.62" font-size="7.9" text-anchor="end" fill="#231f20" >0.2</text>
<line x1="487.9" x2="490.9" y1="608.44" y2="608.44" stroke="#939598" stroke-width="0.8"/>
<text x="485.30" y="611.34" font-size="7.9" text-anchor="end" fill="#231f20" >0.4</text>
<line x1="487.9" x2="490.9" y1="585.16" y2="585.16" stroke="#939598" stroke-width="0.8"/>
<text x="485.30" y="588.06" font-size="7.9" text-anchor="end" fill="#231f20" >0.6</text>
<line x1="487.9" x2="490.9" y1="561.88" y2="561.88" stroke="#939598" stroke-width="0.8"/>
<text x="485.30" y="564.78" font-size="7.9" text-anchor="end" fill="#231f20" >0.8</text>
<line x1="487.9" x2="490.9" y1="538.60" y2="538.60" stroke="#939598" stroke-width="0.8"/>
<text x="485.30" y="541.50" font-size="7.9" text-anchor="end" fill="#231f20" >1.0</text>
<line x1="490.90" x2="490.90" y1="655.0" y2="658.0" stroke="#939598" stroke-width="0.8"/>
<text x="490.90" y="668.30" font-size="7.9" text-anchor="middle" fill="#231f20" >0</text>
<line x1="548.55" x2="548.55" y1="655.0" y2="658.0" stroke="#939598" stroke-width="0.8"/>
<text x="548.55" y="668.30" font-size="7.9" text-anchor="middle" fill="#231f20" >5</text>
<line x1="606.20" x2="606.20" y1="655.0" y2="658.0" stroke="#939598" stroke-width="0.8"/>
<text x="606.20" y="668.30" font-size="7.9" text-anchor="middle" fill="#231f20" >10</text>
<line x1="663.85" x2="663.85" y1="655.0" y2="658.0" stroke="#939598" stroke-width="0.8"/>
<text x="663.85" y="668.30" font-size="7.9" text-anchor="middle" fill="#231f20" >15</text>
<text x="577.40" y="683.20" font-size="8.6" text-anchor="middle" fill="#231f20" >Years of follow-up</text>
<text x="0" y="0" font-size="8.6" text-anchor="middle" fill="#231f20" transform="translate(463.50,596) rotate(-90)">OS probability</text>
<text x="502.60" y="646.60" font-size="8.6" text-anchor="start" fill="#231f20" ><tspan font-style="italic">P</tspan> = 0.0136</text>
<path d="M496.20,539.00H499.15V544.25H501.00V549.50H502.85V554.75H504.70V560.00H505.87V564.70H507.03V569.40H508.20V574.10H509.37V578.80H510.53V583.50H511.70V588.20H514.20V592.45H516.70V596.70H519.20V600.95H521.70V605.20H535.00V609.20H542.80V614.00H546.10V619.00H617.30V625.80H637.40V635.40H650.90V655.00" fill="none" stroke="#fbd6ca" stroke-width="0.75"/>
<path d="M496.40,539.00H497.90V542.30H502.50V549.50H505.20V556.10H509.80V558.00H512.30V565.30H517.60V568.80H520.00V574.10H527.60V576.40H533.50V578.20H535.80V581.70H551.10V585.30H556.40V588.20H568.70V594.50H587.50V596.90H592.80V599.20H606.70V601.00H611.30V605.00H628.80V611.20H664.80" fill="none" stroke="#f59a84" stroke-width="0.9"/>
<path d="M496.60,539.00H497.30V541.60H501.90V546.20H509.10V550.90H511.10V556.00H512.30V565.90H514.10V571.20H519.40V571.70H522.90V574.70H528.20V578.80H536.40V582.30H539.40V587.00H544.60V591.10H550.50V595.20H557.60V599.00H606.70V603.00H611.00V611.20H664.80V623.00" fill="none" stroke="#e4503e" stroke-width="0.9"/>
<path d="M497.00,539.00H503.90V543.60H511.50V548.20H523.70V558.10H535.60V563.00H582.30V567.70H595.90V572.40H612.00V578.50H613.40V585.50H619.50V594.30H620.60V602.50H626.20V612.80H628.30V623.50H664.80" fill="none" stroke="#333333" stroke-width="0.9"/>
<line x1="607.7" x2="607.7" y1="570.6" y2="572.4" stroke="#333333" stroke-width="0.7"/>
<line x1="609.5" x2="609.5" y1="570.6" y2="572.4" stroke="#333333" stroke-width="0.7"/>
<line x1="615.9" x2="615.9" y1="583.7" y2="585.5" stroke="#333333" stroke-width="0.7"/>
<line x1="618.5" x2="618.5" y1="583.7" y2="585.5" stroke="#333333" stroke-width="0.7"/>
<line x1="625.5" x2="625.5" y1="600.7" y2="602.5" stroke="#333333" stroke-width="0.7"/>
<line x1="647.5" x2="647.5" y1="621.7" y2="623.5" stroke="#333333" stroke-width="0.7"/>
<line x1="610.6" x2="610.6" y1="609.4000000000001" y2="611.2" stroke="#e4503e" stroke-width="0.7"/>
<line x1="620.8" x2="620.8" y1="609.4000000000001" y2="611.2" stroke="#e4503e" stroke-width="0.7"/>
<line x1="640" x2="640" y1="609.4000000000001" y2="611.2" stroke="#e4503e" stroke-width="0.7"/>
<line x1="643.5" x2="643.5" y1="609.4000000000001" y2="611.2" stroke="#e4503e" stroke-width="0.7"/>
<line x1="647" x2="647" y1="609.4000000000001" y2="611.2" stroke="#e4503e" stroke-width="0.7"/>
<line x1="613.8" x2="613.8" y1="603.2" y2="605" stroke="#f59a84" stroke-width="0.7"/>
<line x1="617" x2="617" y1="603.2" y2="605" stroke="#f59a84" stroke-width="0.7"/>
<line x1="622.5" x2="622.5" y1="603.2" y2="605" stroke="#f59a84" stroke-width="0.7"/>
<line x1="626.5" x2="626.5" y1="603.2" y2="605" stroke="#f59a84" stroke-width="0.7"/>
<line x1="607.7" x2="607.7" y1="617.1" y2="618.9" stroke="#fbd6ca" stroke-width="0.7"/>
<line x1="614.7" x2="614.7" y1="617.1" y2="618.9" stroke="#fbd6ca" stroke-width="0.7"/>
<line x1="619.5" x2="619.5" y1="624.0" y2="625.8" stroke="#fbd6ca" stroke-width="0.7"/>
<line x1="622.5" x2="622.5" y1="624.0" y2="625.8" stroke="#fbd6ca" stroke-width="0.7"/>
<line x1="645.3" x2="645.3" y1="633.6" y2="635.4" stroke="#fbd6ca" stroke-width="0.7"/>
</svg></body></html>
